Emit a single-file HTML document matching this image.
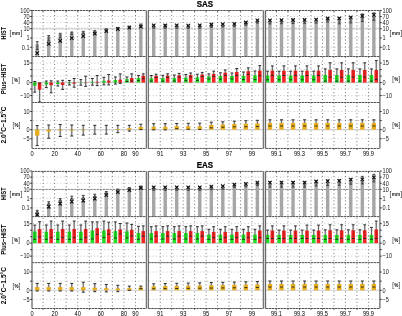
<!DOCTYPE html>
<html><head><meta charset="utf-8"><title>SAS / EAS</title>
<style>
html,body{margin:0;padding:0;background:#fff;}
body{width:402px;height:316px;overflow:hidden;}
svg{display:block;}
</style></head><body>
<svg width="402" height="316" viewBox="0 0 402 316" font-family="&apos;Liberation Sans&apos;, sans-serif">
<rect x="0" y="0" width="402" height="316" fill="#fff"/>
<text transform="translate(205 7.1) scale(0.83 1)" x="0" y="0" font-size="9.6" text-anchor="middle" font-weight="bold" fill="#000" stroke="#000" stroke-width="0.25">SAS</text>
<line x1="33" y1="16.53" x2="145.4" y2="16.53" stroke="#c4c4c4" stroke-width="1" stroke-dasharray="1 2.4"/>
<line x1="33" y1="22.61" x2="145.4" y2="22.61" stroke="#c4c4c4" stroke-width="1" stroke-dasharray="1 2.4"/>
<line x1="33" y1="38" x2="145.4" y2="38" stroke="#c4c4c4" stroke-width="1" stroke-dasharray="1 2.4"/>
<line x1="33" y1="47.3" x2="145.4" y2="47.3" stroke="#c4c4c4" stroke-width="1" stroke-dasharray="1 2.4"/>
<line x1="33" y1="63.05" x2="145.4" y2="63.05" stroke="#c4c4c4" stroke-width="1" stroke-dasharray="1 2.4"/>
<line x1="33" y1="69.55" x2="145.4" y2="69.55" stroke="#c4c4c4" stroke-width="1" stroke-dasharray="1 2.4"/>
<line x1="33" y1="76.05" x2="145.4" y2="76.05" stroke="#c4c4c4" stroke-width="1" stroke-dasharray="1 2.4"/>
<line x1="33" y1="89.05" x2="145.4" y2="89.05" stroke="#c4c4c4" stroke-width="1" stroke-dasharray="1 2.4"/>
<line x1="33" y1="95.55" x2="145.4" y2="95.55" stroke="#c4c4c4" stroke-width="1" stroke-dasharray="1 2.4"/>
<line x1="33" y1="111.45" x2="145.4" y2="111.45" stroke="#c4c4c4" stroke-width="1" stroke-dasharray="1 2.4"/>
<line x1="33" y1="120.55" x2="145.4" y2="120.55" stroke="#c4c4c4" stroke-width="1" stroke-dasharray="1 2.4"/>
<line x1="33" y1="138.75" x2="145.4" y2="138.75" stroke="#c4c4c4" stroke-width="1" stroke-dasharray="1 2.4"/>
<line x1="43.1" y1="11.5" x2="43.1" y2="147.45" stroke="#666" stroke-width="0.9" stroke-dasharray="1 2.5"/>
<line x1="54.65" y1="11.5" x2="54.65" y2="147.45" stroke="#666" stroke-width="0.9" stroke-dasharray="1 2.5"/>
<line x1="66.2" y1="11.5" x2="66.2" y2="147.45" stroke="#666" stroke-width="0.9" stroke-dasharray="1 2.5"/>
<line x1="77.75" y1="11.5" x2="77.75" y2="147.45" stroke="#666" stroke-width="0.9" stroke-dasharray="1 2.5"/>
<line x1="89.3" y1="11.5" x2="89.3" y2="147.45" stroke="#666" stroke-width="0.9" stroke-dasharray="1 2.5"/>
<line x1="100.85" y1="11.5" x2="100.85" y2="147.45" stroke="#666" stroke-width="0.9" stroke-dasharray="1 2.5"/>
<line x1="112.4" y1="11.5" x2="112.4" y2="147.45" stroke="#666" stroke-width="0.9" stroke-dasharray="1 2.5"/>
<line x1="123.95" y1="11.5" x2="123.95" y2="147.45" stroke="#666" stroke-width="0.9" stroke-dasharray="1 2.5"/>
<line x1="135.5" y1="11.5" x2="135.5" y2="147.45" stroke="#666" stroke-width="0.9" stroke-dasharray="1 2.5"/>
<line x1="32.5" y1="28.6" x2="145.9" y2="28.6" stroke="#cdcdcd" stroke-width="1.6" stroke-dasharray="2.6 0.6"/>
<line x1="32.5" y1="82.55" x2="145.9" y2="82.55" stroke="#cfcfcf" stroke-width="1.2"/>
<line x1="32.5" y1="129.65" x2="145.9" y2="129.65" stroke="#cfcfcf" stroke-width="1.2"/>
<line x1="149.3" y1="16.53" x2="262.4" y2="16.53" stroke="#c4c4c4" stroke-width="1" stroke-dasharray="1 2.4"/>
<line x1="149.3" y1="22.61" x2="262.4" y2="22.61" stroke="#c4c4c4" stroke-width="1" stroke-dasharray="1 2.4"/>
<line x1="149.3" y1="38" x2="262.4" y2="38" stroke="#c4c4c4" stroke-width="1" stroke-dasharray="1 2.4"/>
<line x1="149.3" y1="47.3" x2="262.4" y2="47.3" stroke="#c4c4c4" stroke-width="1" stroke-dasharray="1 2.4"/>
<line x1="149.3" y1="63.05" x2="262.4" y2="63.05" stroke="#c4c4c4" stroke-width="1" stroke-dasharray="1 2.4"/>
<line x1="149.3" y1="69.55" x2="262.4" y2="69.55" stroke="#c4c4c4" stroke-width="1" stroke-dasharray="1 2.4"/>
<line x1="149.3" y1="76.05" x2="262.4" y2="76.05" stroke="#c4c4c4" stroke-width="1" stroke-dasharray="1 2.4"/>
<line x1="149.3" y1="89.05" x2="262.4" y2="89.05" stroke="#c4c4c4" stroke-width="1" stroke-dasharray="1 2.4"/>
<line x1="149.3" y1="95.55" x2="262.4" y2="95.55" stroke="#c4c4c4" stroke-width="1" stroke-dasharray="1 2.4"/>
<line x1="149.3" y1="111.45" x2="262.4" y2="111.45" stroke="#c4c4c4" stroke-width="1" stroke-dasharray="1 2.4"/>
<line x1="149.3" y1="120.55" x2="262.4" y2="120.55" stroke="#c4c4c4" stroke-width="1" stroke-dasharray="1 2.4"/>
<line x1="149.3" y1="138.75" x2="262.4" y2="138.75" stroke="#c4c4c4" stroke-width="1" stroke-dasharray="1 2.4"/>
<line x1="160.25" y1="11.5" x2="160.25" y2="147.45" stroke="#666" stroke-width="0.9" stroke-dasharray="1 2.5"/>
<line x1="171.71" y1="11.5" x2="171.71" y2="147.45" stroke="#666" stroke-width="0.9" stroke-dasharray="1 2.5"/>
<line x1="183.17" y1="11.5" x2="183.17" y2="147.45" stroke="#666" stroke-width="0.9" stroke-dasharray="1 2.5"/>
<line x1="194.63" y1="11.5" x2="194.63" y2="147.45" stroke="#666" stroke-width="0.9" stroke-dasharray="1 2.5"/>
<line x1="206.09" y1="11.5" x2="206.09" y2="147.45" stroke="#666" stroke-width="0.9" stroke-dasharray="1 2.5"/>
<line x1="217.55" y1="11.5" x2="217.55" y2="147.45" stroke="#666" stroke-width="0.9" stroke-dasharray="1 2.5"/>
<line x1="229.01" y1="11.5" x2="229.01" y2="147.45" stroke="#666" stroke-width="0.9" stroke-dasharray="1 2.5"/>
<line x1="240.47" y1="11.5" x2="240.47" y2="147.45" stroke="#666" stroke-width="0.9" stroke-dasharray="1 2.5"/>
<line x1="251.93" y1="11.5" x2="251.93" y2="147.45" stroke="#666" stroke-width="0.9" stroke-dasharray="1 2.5"/>
<line x1="148.8" y1="28.6" x2="262.9" y2="28.6" stroke="#cdcdcd" stroke-width="1.6" stroke-dasharray="2.6 0.6"/>
<line x1="148.8" y1="82.55" x2="262.9" y2="82.55" stroke="#cfcfcf" stroke-width="1.2"/>
<line x1="148.8" y1="129.65" x2="262.9" y2="129.65" stroke="#cfcfcf" stroke-width="1.2"/>
<line x1="266.5" y1="16.53" x2="378.9" y2="16.53" stroke="#c4c4c4" stroke-width="1" stroke-dasharray="1 2.4"/>
<line x1="266.5" y1="22.61" x2="378.9" y2="22.61" stroke="#c4c4c4" stroke-width="1" stroke-dasharray="1 2.4"/>
<line x1="266.5" y1="38" x2="378.9" y2="38" stroke="#c4c4c4" stroke-width="1" stroke-dasharray="1 2.4"/>
<line x1="266.5" y1="47.3" x2="378.9" y2="47.3" stroke="#c4c4c4" stroke-width="1" stroke-dasharray="1 2.4"/>
<line x1="266.5" y1="63.05" x2="378.9" y2="63.05" stroke="#c4c4c4" stroke-width="1" stroke-dasharray="1 2.4"/>
<line x1="266.5" y1="69.55" x2="378.9" y2="69.55" stroke="#c4c4c4" stroke-width="1" stroke-dasharray="1 2.4"/>
<line x1="266.5" y1="76.05" x2="378.9" y2="76.05" stroke="#c4c4c4" stroke-width="1" stroke-dasharray="1 2.4"/>
<line x1="266.5" y1="89.05" x2="378.9" y2="89.05" stroke="#c4c4c4" stroke-width="1" stroke-dasharray="1 2.4"/>
<line x1="266.5" y1="95.55" x2="378.9" y2="95.55" stroke="#c4c4c4" stroke-width="1" stroke-dasharray="1 2.4"/>
<line x1="266.5" y1="111.45" x2="378.9" y2="111.45" stroke="#c4c4c4" stroke-width="1" stroke-dasharray="1 2.4"/>
<line x1="266.5" y1="120.55" x2="378.9" y2="120.55" stroke="#c4c4c4" stroke-width="1" stroke-dasharray="1 2.4"/>
<line x1="266.5" y1="138.75" x2="378.9" y2="138.75" stroke="#c4c4c4" stroke-width="1" stroke-dasharray="1 2.4"/>
<line x1="276.45" y1="11.5" x2="276.45" y2="147.45" stroke="#666" stroke-width="0.9" stroke-dasharray="1 2.5"/>
<line x1="287.95" y1="11.5" x2="287.95" y2="147.45" stroke="#666" stroke-width="0.9" stroke-dasharray="1 2.5"/>
<line x1="299.45" y1="11.5" x2="299.45" y2="147.45" stroke="#666" stroke-width="0.9" stroke-dasharray="1 2.5"/>
<line x1="310.95" y1="11.5" x2="310.95" y2="147.45" stroke="#666" stroke-width="0.9" stroke-dasharray="1 2.5"/>
<line x1="322.45" y1="11.5" x2="322.45" y2="147.45" stroke="#666" stroke-width="0.9" stroke-dasharray="1 2.5"/>
<line x1="333.95" y1="11.5" x2="333.95" y2="147.45" stroke="#666" stroke-width="0.9" stroke-dasharray="1 2.5"/>
<line x1="345.45" y1="11.5" x2="345.45" y2="147.45" stroke="#666" stroke-width="0.9" stroke-dasharray="1 2.5"/>
<line x1="356.95" y1="11.5" x2="356.95" y2="147.45" stroke="#666" stroke-width="0.9" stroke-dasharray="1 2.5"/>
<line x1="368.45" y1="11.5" x2="368.45" y2="147.45" stroke="#666" stroke-width="0.9" stroke-dasharray="1 2.5"/>
<line x1="266" y1="28.6" x2="379.4" y2="28.6" stroke="#cdcdcd" stroke-width="1.6" stroke-dasharray="2.6 0.6"/>
<line x1="266" y1="82.55" x2="379.4" y2="82.55" stroke="#cfcfcf" stroke-width="1.2"/>
<line x1="266" y1="129.65" x2="379.4" y2="129.65" stroke="#cfcfcf" stroke-width="1.2"/>
<rect x="35.5" y="44.5" width="3.4" height="12" fill="#a6a6a6"/>
<line x1="37.2" y1="41.7" x2="37.2" y2="49.5" stroke="rgba(0,0,0,0.15)" stroke-width="2.2"/>
<line x1="37.2" y1="41.7" x2="37.2" y2="49.5" stroke="#444" stroke-width="0.9"/>
<line x1="35.8" y1="41.7" x2="38.6" y2="41.7" stroke="#444" stroke-width="1"/>
<line x1="35.8" y1="49.5" x2="38.6" y2="49.5" stroke="#444" stroke-width="1"/>
<line x1="35.45" y1="51.35" x2="38.95" y2="54.85" stroke="#111" stroke-width="1.1"/>
<line x1="35.45" y1="54.85" x2="38.95" y2="51.35" stroke="#111" stroke-width="1.1"/>
<line x1="34.8" y1="81.5" x2="34.8" y2="92.2" stroke="rgba(0,0,0,0.12)" stroke-width="2.2"/>
<line x1="34.8" y1="81.5" x2="34.8" y2="92.2" stroke="#6a6a6a" stroke-width="0.8"/>
<line x1="39.6" y1="83" x2="39.6" y2="102" stroke="rgba(0,0,0,0.12)" stroke-width="2.2"/>
<line x1="39.6" y1="83" x2="39.6" y2="102" stroke="#6a6a6a" stroke-width="0.8"/>
<rect x="33" y="82.55" width="3.6" height="3.05" fill="#22dd22"/>
<rect x="37.8" y="82.55" width="3.6" height="7.15" fill="#f42424"/>
<line x1="34.8" y1="81.5" x2="34.8" y2="92.2" stroke="rgba(0,0,0,0.35)" stroke-width="0.7"/>
<line x1="33.4" y1="81.5" x2="36.2" y2="81.5" stroke="#2a2a2a" stroke-width="1"/>
<line x1="33.4" y1="92.2" x2="36.2" y2="92.2" stroke="#2a2a2a" stroke-width="1"/>
<line x1="39.6" y1="83" x2="39.6" y2="102" stroke="rgba(0,0,0,0.35)" stroke-width="0.7"/>
<line x1="38.2" y1="83" x2="41" y2="83" stroke="#2a2a2a" stroke-width="1"/>
<line x1="38.2" y1="102" x2="41" y2="102" stroke="#2a2a2a" stroke-width="1"/>
<line x1="37.2" y1="125.6" x2="37.2" y2="145.6" stroke="rgba(0,0,0,0.16)" stroke-width="2.2"/>
<line x1="37.2" y1="125.6" x2="37.2" y2="145.6" stroke="#4a4a4a" stroke-width="0.8"/>
<rect x="35" y="129.65" width="4.4" height="5.95" fill="#e6ad1c"/>
<line x1="35.7" y1="125.6" x2="38.7" y2="125.6" stroke="#2a2a2a" stroke-width="1"/>
<line x1="35.7" y1="145.6" x2="38.7" y2="145.6" stroke="#2a2a2a" stroke-width="1"/>
<rect x="47.02" y="36.6" width="3.4" height="19.9" fill="#a6a6a6"/>
<line x1="48.72" y1="35.6" x2="48.72" y2="41" stroke="rgba(0,0,0,0.15)" stroke-width="2.2"/>
<line x1="48.72" y1="35.6" x2="48.72" y2="41" stroke="#444" stroke-width="0.9"/>
<line x1="47.32" y1="35.6" x2="50.12" y2="35.6" stroke="#444" stroke-width="1"/>
<line x1="47.32" y1="41" x2="50.12" y2="41" stroke="#444" stroke-width="1"/>
<line x1="46.97" y1="42.05" x2="50.47" y2="45.55" stroke="#111" stroke-width="1.1"/>
<line x1="46.97" y1="45.55" x2="50.47" y2="42.05" stroke="#111" stroke-width="1.1"/>
<line x1="46.32" y1="81" x2="46.32" y2="87.6" stroke="rgba(0,0,0,0.12)" stroke-width="2.2"/>
<line x1="46.32" y1="81" x2="46.32" y2="87.6" stroke="#6a6a6a" stroke-width="0.8"/>
<line x1="51.12" y1="80.8" x2="51.12" y2="92.8" stroke="rgba(0,0,0,0.12)" stroke-width="2.2"/>
<line x1="51.12" y1="80.8" x2="51.12" y2="92.8" stroke="#6a6a6a" stroke-width="0.8"/>
<rect x="44.52" y="82.55" width="3.6" height="1.95" fill="#22dd22"/>
<rect x="49.32" y="82.55" width="3.6" height="2.65" fill="#f42424"/>
<line x1="46.32" y1="81" x2="46.32" y2="87.6" stroke="rgba(0,0,0,0.35)" stroke-width="0.7"/>
<line x1="44.92" y1="81" x2="47.72" y2="81" stroke="#2a2a2a" stroke-width="1"/>
<line x1="44.92" y1="87.6" x2="47.72" y2="87.6" stroke="#2a2a2a" stroke-width="1"/>
<line x1="51.12" y1="80.8" x2="51.12" y2="92.8" stroke="rgba(0,0,0,0.35)" stroke-width="0.7"/>
<line x1="49.72" y1="80.8" x2="52.52" y2="80.8" stroke="#2a2a2a" stroke-width="1"/>
<line x1="49.72" y1="92.8" x2="52.52" y2="92.8" stroke="#2a2a2a" stroke-width="1"/>
<line x1="48.72" y1="125" x2="48.72" y2="138.2" stroke="rgba(0,0,0,0.16)" stroke-width="2.2"/>
<line x1="48.72" y1="125" x2="48.72" y2="138.2" stroke="#4a4a4a" stroke-width="0.8"/>
<rect x="46.52" y="129.65" width="4.4" height="1.95" fill="#e6ad1c"/>
<line x1="47.22" y1="125" x2="50.22" y2="125" stroke="#2a2a2a" stroke-width="1"/>
<line x1="47.22" y1="138.2" x2="50.22" y2="138.2" stroke="#2a2a2a" stroke-width="1"/>
<rect x="58.53" y="34" width="3.4" height="22.5" fill="#a6a6a6"/>
<line x1="60.23" y1="33.3" x2="60.23" y2="38" stroke="rgba(0,0,0,0.15)" stroke-width="2.2"/>
<line x1="60.23" y1="33.3" x2="60.23" y2="38" stroke="#444" stroke-width="0.9"/>
<line x1="58.83" y1="33.3" x2="61.63" y2="33.3" stroke="#444" stroke-width="1"/>
<line x1="58.83" y1="38" x2="61.63" y2="38" stroke="#444" stroke-width="1"/>
<line x1="58.48" y1="39.15" x2="61.98" y2="42.65" stroke="#111" stroke-width="1.1"/>
<line x1="58.48" y1="42.65" x2="61.98" y2="39.15" stroke="#111" stroke-width="1.1"/>
<line x1="57.83" y1="81" x2="57.83" y2="86" stroke="rgba(0,0,0,0.12)" stroke-width="2.2"/>
<line x1="57.83" y1="81" x2="57.83" y2="86" stroke="#6a6a6a" stroke-width="0.8"/>
<line x1="62.63" y1="80.3" x2="62.63" y2="89.4" stroke="rgba(0,0,0,0.12)" stroke-width="2.2"/>
<line x1="62.63" y1="80.3" x2="62.63" y2="89.4" stroke="#6a6a6a" stroke-width="0.8"/>
<rect x="56.03" y="82.55" width="3.6" height="1.45" fill="#22dd22"/>
<rect x="60.83" y="82.55" width="3.6" height="2.45" fill="#f42424"/>
<line x1="57.83" y1="81" x2="57.83" y2="86" stroke="rgba(0,0,0,0.35)" stroke-width="0.7"/>
<line x1="56.43" y1="81" x2="59.23" y2="81" stroke="#2a2a2a" stroke-width="1"/>
<line x1="56.43" y1="86" x2="59.23" y2="86" stroke="#2a2a2a" stroke-width="1"/>
<line x1="62.63" y1="80.3" x2="62.63" y2="89.4" stroke="rgba(0,0,0,0.35)" stroke-width="0.7"/>
<line x1="61.23" y1="80.3" x2="64.03" y2="80.3" stroke="#2a2a2a" stroke-width="1"/>
<line x1="61.23" y1="89.4" x2="64.03" y2="89.4" stroke="#2a2a2a" stroke-width="1"/>
<line x1="60.23" y1="124.5" x2="60.23" y2="136.5" stroke="rgba(0,0,0,0.16)" stroke-width="2.2"/>
<line x1="60.23" y1="124.5" x2="60.23" y2="136.5" stroke="#4a4a4a" stroke-width="0.8"/>
<rect x="58.03" y="129.65" width="4.4" height="0.85" fill="#e6ad1c"/>
<line x1="58.73" y1="124.5" x2="61.73" y2="124.5" stroke="#2a2a2a" stroke-width="1"/>
<line x1="58.73" y1="136.5" x2="61.73" y2="136.5" stroke="#2a2a2a" stroke-width="1"/>
<rect x="70.05" y="32.1" width="3.4" height="24.4" fill="#a6a6a6"/>
<line x1="71.75" y1="32" x2="71.75" y2="34.5" stroke="rgba(0,0,0,0.15)" stroke-width="2.2"/>
<line x1="71.75" y1="32" x2="71.75" y2="34.5" stroke="#444" stroke-width="0.9"/>
<line x1="70.35" y1="32" x2="73.15" y2="32" stroke="#444" stroke-width="1"/>
<line x1="70.35" y1="34.5" x2="73.15" y2="34.5" stroke="#444" stroke-width="1"/>
<line x1="70" y1="36.35" x2="73.5" y2="39.85" stroke="#111" stroke-width="1.1"/>
<line x1="70" y1="39.85" x2="73.5" y2="36.35" stroke="#111" stroke-width="1.1"/>
<line x1="69.35" y1="80.5" x2="69.35" y2="85" stroke="rgba(0,0,0,0.12)" stroke-width="2.2"/>
<line x1="69.35" y1="80.5" x2="69.35" y2="85" stroke="#6a6a6a" stroke-width="0.8"/>
<line x1="74.15" y1="78.5" x2="74.15" y2="87.2" stroke="rgba(0,0,0,0.12)" stroke-width="2.2"/>
<line x1="74.15" y1="78.5" x2="74.15" y2="87.2" stroke="#6a6a6a" stroke-width="0.8"/>
<rect x="67.55" y="82.55" width="3.6" height="0.65" fill="#22dd22"/>
<rect x="72.35" y="82.55" width="3.6" height="1.05" fill="#f42424"/>
<line x1="69.35" y1="80.5" x2="69.35" y2="85" stroke="rgba(0,0,0,0.35)" stroke-width="0.7"/>
<line x1="67.95" y1="80.5" x2="70.75" y2="80.5" stroke="#2a2a2a" stroke-width="1"/>
<line x1="67.95" y1="85" x2="70.75" y2="85" stroke="#2a2a2a" stroke-width="1"/>
<line x1="74.15" y1="78.5" x2="74.15" y2="87.2" stroke="rgba(0,0,0,0.35)" stroke-width="0.7"/>
<line x1="72.75" y1="78.5" x2="75.55" y2="78.5" stroke="#2a2a2a" stroke-width="1"/>
<line x1="72.75" y1="87.2" x2="75.55" y2="87.2" stroke="#2a2a2a" stroke-width="1"/>
<line x1="71.75" y1="125" x2="71.75" y2="136" stroke="rgba(0,0,0,0.16)" stroke-width="2.2"/>
<line x1="71.75" y1="125" x2="71.75" y2="136" stroke="#4a4a4a" stroke-width="0.8"/>
<rect x="69.55" y="129.65" width="4.4" height="0.85" fill="#e6ad1c"/>
<line x1="70.25" y1="125" x2="73.25" y2="125" stroke="#2a2a2a" stroke-width="1"/>
<line x1="70.25" y1="136" x2="73.25" y2="136" stroke="#2a2a2a" stroke-width="1"/>
<rect x="81.56" y="31.4" width="3.4" height="25.1" fill="#a6a6a6"/>
<line x1="83.26" y1="31.3" x2="83.26" y2="33.5" stroke="rgba(0,0,0,0.15)" stroke-width="2.2"/>
<line x1="83.26" y1="31.3" x2="83.26" y2="33.5" stroke="#444" stroke-width="0.9"/>
<line x1="81.86" y1="31.3" x2="84.66" y2="31.3" stroke="#444" stroke-width="1"/>
<line x1="81.86" y1="33.5" x2="84.66" y2="33.5" stroke="#444" stroke-width="1"/>
<line x1="81.51" y1="34.45" x2="85.01" y2="37.95" stroke="#111" stroke-width="1.1"/>
<line x1="81.51" y1="37.95" x2="85.01" y2="34.45" stroke="#111" stroke-width="1.1"/>
<line x1="80.86" y1="79.6" x2="80.86" y2="85.2" stroke="rgba(0,0,0,0.12)" stroke-width="2.2"/>
<line x1="80.86" y1="79.6" x2="80.86" y2="85.2" stroke="#6a6a6a" stroke-width="0.8"/>
<line x1="85.66" y1="76.2" x2="85.66" y2="86.4" stroke="rgba(0,0,0,0.12)" stroke-width="2.2"/>
<line x1="85.66" y1="76.2" x2="85.66" y2="86.4" stroke="#6a6a6a" stroke-width="0.8"/>
<rect x="79.06" y="82.2" width="3.6" height="0.35" fill="#22dd22"/>
<rect x="83.86" y="82.55" width="3.6" height="0.25" fill="#f42424"/>
<line x1="80.86" y1="79.6" x2="80.86" y2="85.2" stroke="rgba(0,0,0,0.35)" stroke-width="0.7"/>
<line x1="79.46" y1="79.6" x2="82.26" y2="79.6" stroke="#2a2a2a" stroke-width="1"/>
<line x1="79.46" y1="85.2" x2="82.26" y2="85.2" stroke="#2a2a2a" stroke-width="1"/>
<line x1="85.66" y1="76.2" x2="85.66" y2="86.4" stroke="rgba(0,0,0,0.35)" stroke-width="0.7"/>
<line x1="84.26" y1="76.2" x2="87.06" y2="76.2" stroke="#2a2a2a" stroke-width="1"/>
<line x1="84.26" y1="86.4" x2="87.06" y2="86.4" stroke="#2a2a2a" stroke-width="1"/>
<line x1="83.26" y1="125.3" x2="83.26" y2="135.1" stroke="rgba(0,0,0,0.16)" stroke-width="2.2"/>
<line x1="83.26" y1="125.3" x2="83.26" y2="135.1" stroke="#4a4a4a" stroke-width="0.8"/>
<rect x="81.06" y="129.65" width="4.4" height="0.55" fill="#e6ad1c"/>
<line x1="81.76" y1="125.3" x2="84.76" y2="125.3" stroke="#2a2a2a" stroke-width="1"/>
<line x1="81.76" y1="135.1" x2="84.76" y2="135.1" stroke="#2a2a2a" stroke-width="1"/>
<rect x="93.08" y="31" width="3.4" height="25.5" fill="#a6a6a6"/>
<line x1="94.78" y1="30.6" x2="94.78" y2="33" stroke="rgba(0,0,0,0.15)" stroke-width="2.2"/>
<line x1="94.78" y1="30.6" x2="94.78" y2="33" stroke="#444" stroke-width="0.9"/>
<line x1="93.38" y1="30.6" x2="96.18" y2="30.6" stroke="#444" stroke-width="1"/>
<line x1="93.38" y1="33" x2="96.18" y2="33" stroke="#444" stroke-width="1"/>
<line x1="93.03" y1="31.85" x2="96.53" y2="35.35" stroke="#111" stroke-width="1.1"/>
<line x1="93.03" y1="35.35" x2="96.53" y2="31.85" stroke="#111" stroke-width="1.1"/>
<line x1="92.38" y1="78.5" x2="92.38" y2="85.2" stroke="rgba(0,0,0,0.12)" stroke-width="2.2"/>
<line x1="92.38" y1="78.5" x2="92.38" y2="85.2" stroke="#6a6a6a" stroke-width="0.8"/>
<line x1="97.18" y1="75.5" x2="97.18" y2="85.6" stroke="rgba(0,0,0,0.12)" stroke-width="2.2"/>
<line x1="97.18" y1="75.5" x2="97.18" y2="85.6" stroke="#6a6a6a" stroke-width="0.8"/>
<rect x="90.58" y="81.8" width="3.6" height="0.75" fill="#22dd22"/>
<rect x="95.38" y="81.8" width="3.6" height="0.75" fill="#f42424"/>
<line x1="92.38" y1="78.5" x2="92.38" y2="85.2" stroke="rgba(0,0,0,0.35)" stroke-width="0.7"/>
<line x1="90.98" y1="78.5" x2="93.78" y2="78.5" stroke="#2a2a2a" stroke-width="1"/>
<line x1="90.98" y1="85.2" x2="93.78" y2="85.2" stroke="#2a2a2a" stroke-width="1"/>
<line x1="97.18" y1="75.5" x2="97.18" y2="85.6" stroke="rgba(0,0,0,0.35)" stroke-width="0.7"/>
<line x1="95.78" y1="75.5" x2="98.58" y2="75.5" stroke="#2a2a2a" stroke-width="1"/>
<line x1="95.78" y1="85.6" x2="98.58" y2="85.6" stroke="#2a2a2a" stroke-width="1"/>
<line x1="94.78" y1="125.3" x2="94.78" y2="134.1" stroke="rgba(0,0,0,0.16)" stroke-width="2.2"/>
<line x1="94.78" y1="125.3" x2="94.78" y2="134.1" stroke="#4a4a4a" stroke-width="0.8"/>
<line x1="93.28" y1="125.3" x2="96.28" y2="125.3" stroke="#2a2a2a" stroke-width="1"/>
<line x1="93.28" y1="134.1" x2="96.28" y2="134.1" stroke="#2a2a2a" stroke-width="1"/>
<rect x="104.6" y="29.2" width="3.4" height="27.3" fill="#a6a6a6"/>
<line x1="106.3" y1="28.8" x2="106.3" y2="31" stroke="rgba(0,0,0,0.15)" stroke-width="2.2"/>
<line x1="106.3" y1="28.8" x2="106.3" y2="31" stroke="#444" stroke-width="0.9"/>
<line x1="104.9" y1="28.8" x2="107.7" y2="28.8" stroke="#444" stroke-width="1"/>
<line x1="104.9" y1="31" x2="107.7" y2="31" stroke="#444" stroke-width="1"/>
<line x1="104.55" y1="29.45" x2="108.05" y2="32.95" stroke="#111" stroke-width="1.1"/>
<line x1="104.55" y1="32.95" x2="108.05" y2="29.45" stroke="#111" stroke-width="1.1"/>
<line x1="103.9" y1="77.3" x2="103.9" y2="84.9" stroke="rgba(0,0,0,0.12)" stroke-width="2.2"/>
<line x1="103.9" y1="77.3" x2="103.9" y2="84.9" stroke="#6a6a6a" stroke-width="0.8"/>
<line x1="108.7" y1="74.5" x2="108.7" y2="84.9" stroke="rgba(0,0,0,0.12)" stroke-width="2.2"/>
<line x1="108.7" y1="74.5" x2="108.7" y2="84.9" stroke="#6a6a6a" stroke-width="0.8"/>
<rect x="102.1" y="80.8" width="3.6" height="1.75" fill="#22dd22"/>
<rect x="106.9" y="80.5" width="3.6" height="2.05" fill="#f42424"/>
<line x1="103.9" y1="77.3" x2="103.9" y2="84.9" stroke="rgba(0,0,0,0.35)" stroke-width="0.7"/>
<line x1="102.5" y1="77.3" x2="105.3" y2="77.3" stroke="#2a2a2a" stroke-width="1"/>
<line x1="102.5" y1="84.9" x2="105.3" y2="84.9" stroke="#2a2a2a" stroke-width="1"/>
<line x1="108.7" y1="74.5" x2="108.7" y2="84.9" stroke="rgba(0,0,0,0.35)" stroke-width="0.7"/>
<line x1="107.3" y1="74.5" x2="110.1" y2="74.5" stroke="#2a2a2a" stroke-width="1"/>
<line x1="107.3" y1="84.9" x2="110.1" y2="84.9" stroke="#2a2a2a" stroke-width="1"/>
<line x1="106.3" y1="125.3" x2="106.3" y2="134.1" stroke="rgba(0,0,0,0.16)" stroke-width="2.2"/>
<line x1="106.3" y1="125.3" x2="106.3" y2="134.1" stroke="#4a4a4a" stroke-width="0.8"/>
<line x1="104.8" y1="125.3" x2="107.8" y2="125.3" stroke="#2a2a2a" stroke-width="1"/>
<line x1="104.8" y1="134.1" x2="107.8" y2="134.1" stroke="#2a2a2a" stroke-width="1"/>
<rect x="116.11" y="27.8" width="3.4" height="28.7" fill="#a6a6a6"/>
<line x1="117.81" y1="27.4" x2="117.81" y2="29.5" stroke="rgba(0,0,0,0.15)" stroke-width="2.2"/>
<line x1="117.81" y1="27.4" x2="117.81" y2="29.5" stroke="#444" stroke-width="0.9"/>
<line x1="116.41" y1="27.4" x2="119.21" y2="27.4" stroke="#444" stroke-width="1"/>
<line x1="116.41" y1="29.5" x2="119.21" y2="29.5" stroke="#444" stroke-width="1"/>
<line x1="116.06" y1="27.35" x2="119.56" y2="30.85" stroke="#111" stroke-width="1.1"/>
<line x1="116.06" y1="30.85" x2="119.56" y2="27.35" stroke="#111" stroke-width="1.1"/>
<line x1="115.41" y1="77" x2="115.41" y2="84.1" stroke="rgba(0,0,0,0.12)" stroke-width="2.2"/>
<line x1="115.41" y1="77" x2="115.41" y2="84.1" stroke="#6a6a6a" stroke-width="0.8"/>
<line x1="120.21" y1="73.9" x2="120.21" y2="83.4" stroke="rgba(0,0,0,0.12)" stroke-width="2.2"/>
<line x1="120.21" y1="73.9" x2="120.21" y2="83.4" stroke="#6a6a6a" stroke-width="0.8"/>
<rect x="113.61" y="80" width="3.6" height="2.55" fill="#22dd22"/>
<rect x="118.41" y="79.6" width="3.6" height="2.95" fill="#f42424"/>
<line x1="115.41" y1="77" x2="115.41" y2="84.1" stroke="rgba(0,0,0,0.35)" stroke-width="0.7"/>
<line x1="114.01" y1="77" x2="116.81" y2="77" stroke="#2a2a2a" stroke-width="1"/>
<line x1="114.01" y1="84.1" x2="116.81" y2="84.1" stroke="#2a2a2a" stroke-width="1"/>
<line x1="120.21" y1="73.9" x2="120.21" y2="83.4" stroke="rgba(0,0,0,0.35)" stroke-width="0.7"/>
<line x1="118.81" y1="73.9" x2="121.61" y2="73.9" stroke="#2a2a2a" stroke-width="1"/>
<line x1="118.81" y1="83.4" x2="121.61" y2="83.4" stroke="#2a2a2a" stroke-width="1"/>
<line x1="117.81" y1="125.3" x2="117.81" y2="132.7" stroke="rgba(0,0,0,0.16)" stroke-width="2.2"/>
<line x1="117.81" y1="125.3" x2="117.81" y2="132.7" stroke="#4a4a4a" stroke-width="0.8"/>
<rect x="115.61" y="129" width="4.4" height="0.65" fill="#e6ad1c"/>
<line x1="116.31" y1="125.3" x2="119.31" y2="125.3" stroke="#2a2a2a" stroke-width="1"/>
<line x1="116.31" y1="132.7" x2="119.31" y2="132.7" stroke="#2a2a2a" stroke-width="1"/>
<rect x="127.63" y="26.6" width="3.4" height="29.9" fill="#a6a6a6"/>
<line x1="129.33" y1="26.2" x2="129.33" y2="28" stroke="rgba(0,0,0,0.15)" stroke-width="2.2"/>
<line x1="129.33" y1="26.2" x2="129.33" y2="28" stroke="#444" stroke-width="0.9"/>
<line x1="127.93" y1="26.2" x2="130.73" y2="26.2" stroke="#444" stroke-width="1"/>
<line x1="127.93" y1="28" x2="130.73" y2="28" stroke="#444" stroke-width="1"/>
<line x1="127.58" y1="25.95" x2="131.08" y2="29.45" stroke="#111" stroke-width="1.1"/>
<line x1="127.58" y1="29.45" x2="131.08" y2="25.95" stroke="#111" stroke-width="1.1"/>
<line x1="126.93" y1="77" x2="126.93" y2="81.5" stroke="rgba(0,0,0,0.12)" stroke-width="2.2"/>
<line x1="126.93" y1="77" x2="126.93" y2="81.5" stroke="#6a6a6a" stroke-width="0.8"/>
<line x1="131.73" y1="73.9" x2="131.73" y2="81" stroke="rgba(0,0,0,0.12)" stroke-width="2.2"/>
<line x1="131.73" y1="73.9" x2="131.73" y2="81" stroke="#6a6a6a" stroke-width="0.8"/>
<rect x="125.13" y="79.1" width="3.6" height="3.45" fill="#22dd22"/>
<rect x="129.93" y="78" width="3.6" height="4.55" fill="#f42424"/>
<line x1="126.93" y1="77" x2="126.93" y2="81.5" stroke="rgba(0,0,0,0.35)" stroke-width="0.7"/>
<line x1="125.53" y1="77" x2="128.33" y2="77" stroke="#2a2a2a" stroke-width="1"/>
<line x1="125.53" y1="81.5" x2="128.33" y2="81.5" stroke="#2a2a2a" stroke-width="1"/>
<line x1="131.73" y1="73.9" x2="131.73" y2="81" stroke="rgba(0,0,0,0.35)" stroke-width="0.7"/>
<line x1="130.33" y1="73.9" x2="133.13" y2="73.9" stroke="#2a2a2a" stroke-width="1"/>
<line x1="130.33" y1="81" x2="133.13" y2="81" stroke="#2a2a2a" stroke-width="1"/>
<line x1="129.33" y1="125.3" x2="129.33" y2="131.1" stroke="rgba(0,0,0,0.16)" stroke-width="2.2"/>
<line x1="129.33" y1="125.3" x2="129.33" y2="131.1" stroke="#4a4a4a" stroke-width="0.8"/>
<rect x="127.13" y="128.2" width="4.4" height="1.45" fill="#e6ad1c"/>
<line x1="127.83" y1="125.3" x2="130.83" y2="125.3" stroke="#2a2a2a" stroke-width="1"/>
<line x1="127.83" y1="131.1" x2="130.83" y2="131.1" stroke="#2a2a2a" stroke-width="1"/>
<rect x="139.14" y="24.4" width="3.4" height="32.1" fill="#a6a6a6"/>
<line x1="140.84" y1="24" x2="140.84" y2="26" stroke="rgba(0,0,0,0.15)" stroke-width="2.2"/>
<line x1="140.84" y1="24" x2="140.84" y2="26" stroke="#444" stroke-width="0.9"/>
<line x1="139.44" y1="24" x2="142.24" y2="24" stroke="#444" stroke-width="1"/>
<line x1="139.44" y1="26" x2="142.24" y2="26" stroke="#444" stroke-width="1"/>
<line x1="139.09" y1="24.85" x2="142.59" y2="28.35" stroke="#111" stroke-width="1.1"/>
<line x1="139.09" y1="28.35" x2="142.59" y2="24.85" stroke="#111" stroke-width="1.1"/>
<line x1="138.44" y1="75.5" x2="138.44" y2="80.6" stroke="rgba(0,0,0,0.12)" stroke-width="2.2"/>
<line x1="138.44" y1="75.5" x2="138.44" y2="80.6" stroke="#6a6a6a" stroke-width="0.8"/>
<line x1="143.24" y1="73.9" x2="143.24" y2="78.8" stroke="rgba(0,0,0,0.12)" stroke-width="2.2"/>
<line x1="143.24" y1="73.9" x2="143.24" y2="78.8" stroke="#6a6a6a" stroke-width="0.8"/>
<rect x="136.64" y="78" width="3.6" height="4.55" fill="#22dd22"/>
<rect x="141.44" y="75.8" width="3.6" height="6.75" fill="#f42424"/>
<line x1="138.44" y1="75.5" x2="138.44" y2="80.6" stroke="rgba(0,0,0,0.35)" stroke-width="0.7"/>
<line x1="137.04" y1="75.5" x2="139.84" y2="75.5" stroke="#2a2a2a" stroke-width="1"/>
<line x1="137.04" y1="80.6" x2="139.84" y2="80.6" stroke="#2a2a2a" stroke-width="1"/>
<line x1="143.24" y1="73.9" x2="143.24" y2="78.8" stroke="rgba(0,0,0,0.35)" stroke-width="0.7"/>
<line x1="141.84" y1="73.9" x2="144.64" y2="73.9" stroke="#2a2a2a" stroke-width="1"/>
<line x1="141.84" y1="78.8" x2="144.64" y2="78.8" stroke="#2a2a2a" stroke-width="1"/>
<line x1="140.84" y1="124.2" x2="140.84" y2="129.6" stroke="rgba(0,0,0,0.16)" stroke-width="2.2"/>
<line x1="140.84" y1="124.2" x2="140.84" y2="129.6" stroke="#4a4a4a" stroke-width="0.8"/>
<rect x="138.64" y="126.9" width="4.4" height="2.75" fill="#e6ad1c"/>
<line x1="139.34" y1="124.2" x2="142.34" y2="124.2" stroke="#2a2a2a" stroke-width="1"/>
<line x1="139.34" y1="129.6" x2="142.34" y2="129.6" stroke="#2a2a2a" stroke-width="1"/>
<rect x="152" y="27" width="3.4" height="29.5" fill="#a6a6a6"/>
<line x1="153.7" y1="25.1" x2="153.7" y2="28.2" stroke="rgba(0,0,0,0.15)" stroke-width="2.2"/>
<line x1="153.7" y1="25.1" x2="153.7" y2="28.2" stroke="#444" stroke-width="0.9"/>
<line x1="152.3" y1="25.1" x2="155.1" y2="25.1" stroke="#444" stroke-width="1"/>
<line x1="152.3" y1="28.2" x2="155.1" y2="28.2" stroke="#444" stroke-width="1"/>
<line x1="151.95" y1="23.65" x2="155.45" y2="27.15" stroke="#111" stroke-width="1.1"/>
<line x1="151.95" y1="27.15" x2="155.45" y2="23.65" stroke="#111" stroke-width="1.1"/>
<line x1="151.3" y1="75.5" x2="151.3" y2="81.1" stroke="rgba(0,0,0,0.12)" stroke-width="2.2"/>
<line x1="151.3" y1="75.5" x2="151.3" y2="81.1" stroke="#6a6a6a" stroke-width="0.8"/>
<line x1="156.1" y1="74.2" x2="156.1" y2="77.4" stroke="rgba(0,0,0,0.12)" stroke-width="2.2"/>
<line x1="156.1" y1="74.2" x2="156.1" y2="77.4" stroke="#6a6a6a" stroke-width="0.8"/>
<rect x="149.5" y="78.3" width="3.6" height="4.25" fill="#22dd22"/>
<rect x="154.3" y="75.8" width="3.6" height="6.75" fill="#f42424"/>
<line x1="151.3" y1="75.5" x2="151.3" y2="81.1" stroke="rgba(0,0,0,0.35)" stroke-width="0.7"/>
<line x1="149.9" y1="75.5" x2="152.7" y2="75.5" stroke="#2a2a2a" stroke-width="1"/>
<line x1="149.9" y1="81.1" x2="152.7" y2="81.1" stroke="#2a2a2a" stroke-width="1"/>
<line x1="156.1" y1="74.2" x2="156.1" y2="77.4" stroke="rgba(0,0,0,0.35)" stroke-width="0.7"/>
<line x1="154.7" y1="74.2" x2="157.5" y2="74.2" stroke="#2a2a2a" stroke-width="1"/>
<line x1="154.7" y1="77.4" x2="157.5" y2="77.4" stroke="#2a2a2a" stroke-width="1"/>
<line x1="153.7" y1="123.7" x2="153.7" y2="129.9" stroke="rgba(0,0,0,0.16)" stroke-width="2.2"/>
<line x1="153.7" y1="123.7" x2="153.7" y2="129.9" stroke="#4a4a4a" stroke-width="0.8"/>
<rect x="151.5" y="126.8" width="4.4" height="2.85" fill="#e6ad1c"/>
<line x1="152.2" y1="123.7" x2="155.2" y2="123.7" stroke="#2a2a2a" stroke-width="1"/>
<line x1="152.2" y1="129.9" x2="155.2" y2="129.9" stroke="#2a2a2a" stroke-width="1"/>
<rect x="163.52" y="27.1" width="3.4" height="29.4" fill="#a6a6a6"/>
<line x1="165.22" y1="25.2" x2="165.22" y2="28.3" stroke="rgba(0,0,0,0.15)" stroke-width="2.2"/>
<line x1="165.22" y1="25.2" x2="165.22" y2="28.3" stroke="#444" stroke-width="0.9"/>
<line x1="163.82" y1="25.2" x2="166.62" y2="25.2" stroke="#444" stroke-width="1"/>
<line x1="163.82" y1="28.3" x2="166.62" y2="28.3" stroke="#444" stroke-width="1"/>
<line x1="163.47" y1="23.75" x2="166.97" y2="27.25" stroke="#111" stroke-width="1.1"/>
<line x1="163.47" y1="27.25" x2="166.97" y2="23.75" stroke="#111" stroke-width="1.1"/>
<line x1="162.82" y1="75.3" x2="162.82" y2="81.1" stroke="rgba(0,0,0,0.12)" stroke-width="2.2"/>
<line x1="162.82" y1="75.3" x2="162.82" y2="81.1" stroke="#6a6a6a" stroke-width="0.8"/>
<line x1="167.62" y1="73.8" x2="167.62" y2="77.4" stroke="rgba(0,0,0,0.12)" stroke-width="2.2"/>
<line x1="167.62" y1="73.8" x2="167.62" y2="77.4" stroke="#6a6a6a" stroke-width="0.8"/>
<rect x="161.02" y="78.2" width="3.6" height="4.35" fill="#22dd22"/>
<rect x="165.82" y="75.6" width="3.6" height="6.95" fill="#f42424"/>
<line x1="162.82" y1="75.3" x2="162.82" y2="81.1" stroke="rgba(0,0,0,0.35)" stroke-width="0.7"/>
<line x1="161.42" y1="75.3" x2="164.22" y2="75.3" stroke="#2a2a2a" stroke-width="1"/>
<line x1="161.42" y1="81.1" x2="164.22" y2="81.1" stroke="#2a2a2a" stroke-width="1"/>
<line x1="167.62" y1="73.8" x2="167.62" y2="77.4" stroke="rgba(0,0,0,0.35)" stroke-width="0.7"/>
<line x1="166.22" y1="73.8" x2="169.02" y2="73.8" stroke="#2a2a2a" stroke-width="1"/>
<line x1="166.22" y1="77.4" x2="169.02" y2="77.4" stroke="#2a2a2a" stroke-width="1"/>
<line x1="165.22" y1="123.7" x2="165.22" y2="129.9" stroke="rgba(0,0,0,0.16)" stroke-width="2.2"/>
<line x1="165.22" y1="123.7" x2="165.22" y2="129.9" stroke="#4a4a4a" stroke-width="0.8"/>
<rect x="163.02" y="126.8" width="4.4" height="2.85" fill="#e6ad1c"/>
<line x1="163.72" y1="123.7" x2="166.72" y2="123.7" stroke="#2a2a2a" stroke-width="1"/>
<line x1="163.72" y1="129.9" x2="166.72" y2="129.9" stroke="#2a2a2a" stroke-width="1"/>
<rect x="175.04" y="27" width="3.4" height="29.5" fill="#a6a6a6"/>
<line x1="176.74" y1="25.1" x2="176.74" y2="28.2" stroke="rgba(0,0,0,0.15)" stroke-width="2.2"/>
<line x1="176.74" y1="25.1" x2="176.74" y2="28.2" stroke="#444" stroke-width="0.9"/>
<line x1="175.34" y1="25.1" x2="178.14" y2="25.1" stroke="#444" stroke-width="1"/>
<line x1="175.34" y1="28.2" x2="178.14" y2="28.2" stroke="#444" stroke-width="1"/>
<line x1="174.99" y1="23.65" x2="178.49" y2="27.15" stroke="#111" stroke-width="1.1"/>
<line x1="174.99" y1="27.15" x2="178.49" y2="23.65" stroke="#111" stroke-width="1.1"/>
<line x1="174.34" y1="75" x2="174.34" y2="81" stroke="rgba(0,0,0,0.12)" stroke-width="2.2"/>
<line x1="174.34" y1="75" x2="174.34" y2="81" stroke="#6a6a6a" stroke-width="0.8"/>
<line x1="179.14" y1="73.4" x2="179.14" y2="77.2" stroke="rgba(0,0,0,0.12)" stroke-width="2.2"/>
<line x1="179.14" y1="73.4" x2="179.14" y2="77.2" stroke="#6a6a6a" stroke-width="0.8"/>
<rect x="172.54" y="78" width="3.6" height="4.55" fill="#22dd22"/>
<rect x="177.34" y="75.3" width="3.6" height="7.25" fill="#f42424"/>
<line x1="174.34" y1="75" x2="174.34" y2="81" stroke="rgba(0,0,0,0.35)" stroke-width="0.7"/>
<line x1="172.94" y1="75" x2="175.74" y2="75" stroke="#2a2a2a" stroke-width="1"/>
<line x1="172.94" y1="81" x2="175.74" y2="81" stroke="#2a2a2a" stroke-width="1"/>
<line x1="179.14" y1="73.4" x2="179.14" y2="77.2" stroke="rgba(0,0,0,0.35)" stroke-width="0.7"/>
<line x1="177.74" y1="73.4" x2="180.54" y2="73.4" stroke="#2a2a2a" stroke-width="1"/>
<line x1="177.74" y1="77.2" x2="180.54" y2="77.2" stroke="#2a2a2a" stroke-width="1"/>
<line x1="176.74" y1="123.5" x2="176.74" y2="128.7" stroke="rgba(0,0,0,0.16)" stroke-width="2.2"/>
<line x1="176.74" y1="123.5" x2="176.74" y2="128.7" stroke="#4a4a4a" stroke-width="0.8"/>
<rect x="174.54" y="126.1" width="4.4" height="3.55" fill="#e6ad1c"/>
<line x1="175.24" y1="123.5" x2="178.24" y2="123.5" stroke="#2a2a2a" stroke-width="1"/>
<line x1="175.24" y1="128.7" x2="178.24" y2="128.7" stroke="#2a2a2a" stroke-width="1"/>
<rect x="186.56" y="27.2" width="3.4" height="29.3" fill="#a6a6a6"/>
<line x1="188.26" y1="25.3" x2="188.26" y2="28.4" stroke="rgba(0,0,0,0.15)" stroke-width="2.2"/>
<line x1="188.26" y1="25.3" x2="188.26" y2="28.4" stroke="#444" stroke-width="0.9"/>
<line x1="186.86" y1="25.3" x2="189.66" y2="25.3" stroke="#444" stroke-width="1"/>
<line x1="186.86" y1="28.4" x2="189.66" y2="28.4" stroke="#444" stroke-width="1"/>
<line x1="186.51" y1="23.85" x2="190.01" y2="27.35" stroke="#111" stroke-width="1.1"/>
<line x1="186.51" y1="27.35" x2="190.01" y2="23.85" stroke="#111" stroke-width="1.1"/>
<line x1="185.86" y1="74.5" x2="185.86" y2="80.7" stroke="rgba(0,0,0,0.12)" stroke-width="2.2"/>
<line x1="185.86" y1="74.5" x2="185.86" y2="80.7" stroke="#6a6a6a" stroke-width="0.8"/>
<line x1="190.66" y1="73" x2="190.66" y2="77" stroke="rgba(0,0,0,0.12)" stroke-width="2.2"/>
<line x1="190.66" y1="73" x2="190.66" y2="77" stroke="#6a6a6a" stroke-width="0.8"/>
<rect x="184.06" y="77.6" width="3.6" height="4.95" fill="#22dd22"/>
<rect x="188.86" y="75" width="3.6" height="7.55" fill="#f42424"/>
<line x1="185.86" y1="74.5" x2="185.86" y2="80.7" stroke="rgba(0,0,0,0.35)" stroke-width="0.7"/>
<line x1="184.46" y1="74.5" x2="187.26" y2="74.5" stroke="#2a2a2a" stroke-width="1"/>
<line x1="184.46" y1="80.7" x2="187.26" y2="80.7" stroke="#2a2a2a" stroke-width="1"/>
<line x1="190.66" y1="73" x2="190.66" y2="77" stroke="rgba(0,0,0,0.35)" stroke-width="0.7"/>
<line x1="189.26" y1="73" x2="192.06" y2="73" stroke="#2a2a2a" stroke-width="1"/>
<line x1="189.26" y1="77" x2="192.06" y2="77" stroke="#2a2a2a" stroke-width="1"/>
<line x1="188.26" y1="123.3" x2="188.26" y2="129.3" stroke="rgba(0,0,0,0.16)" stroke-width="2.2"/>
<line x1="188.26" y1="123.3" x2="188.26" y2="129.3" stroke="#4a4a4a" stroke-width="0.8"/>
<rect x="186.06" y="126.3" width="4.4" height="3.35" fill="#e6ad1c"/>
<line x1="186.76" y1="123.3" x2="189.76" y2="123.3" stroke="#2a2a2a" stroke-width="1"/>
<line x1="186.76" y1="129.3" x2="189.76" y2="129.3" stroke="#2a2a2a" stroke-width="1"/>
<rect x="198.08" y="27" width="3.4" height="29.5" fill="#a6a6a6"/>
<line x1="199.78" y1="25.1" x2="199.78" y2="28.2" stroke="rgba(0,0,0,0.15)" stroke-width="2.2"/>
<line x1="199.78" y1="25.1" x2="199.78" y2="28.2" stroke="#444" stroke-width="0.9"/>
<line x1="198.38" y1="25.1" x2="201.18" y2="25.1" stroke="#444" stroke-width="1"/>
<line x1="198.38" y1="28.2" x2="201.18" y2="28.2" stroke="#444" stroke-width="1"/>
<line x1="198.03" y1="23.65" x2="201.53" y2="27.15" stroke="#111" stroke-width="1.1"/>
<line x1="198.03" y1="27.15" x2="201.53" y2="23.65" stroke="#111" stroke-width="1.1"/>
<line x1="197.38" y1="74.2" x2="197.38" y2="80.4" stroke="rgba(0,0,0,0.12)" stroke-width="2.2"/>
<line x1="197.38" y1="74.2" x2="197.38" y2="80.4" stroke="#6a6a6a" stroke-width="0.8"/>
<line x1="202.18" y1="72.4" x2="202.18" y2="76.6" stroke="rgba(0,0,0,0.12)" stroke-width="2.2"/>
<line x1="202.18" y1="72.4" x2="202.18" y2="76.6" stroke="#6a6a6a" stroke-width="0.8"/>
<rect x="195.58" y="77.3" width="3.6" height="5.25" fill="#22dd22"/>
<rect x="200.38" y="74.5" width="3.6" height="8.05" fill="#f42424"/>
<line x1="197.38" y1="74.2" x2="197.38" y2="80.4" stroke="rgba(0,0,0,0.35)" stroke-width="0.7"/>
<line x1="195.98" y1="74.2" x2="198.78" y2="74.2" stroke="#2a2a2a" stroke-width="1"/>
<line x1="195.98" y1="80.4" x2="198.78" y2="80.4" stroke="#2a2a2a" stroke-width="1"/>
<line x1="202.18" y1="72.4" x2="202.18" y2="76.6" stroke="rgba(0,0,0,0.35)" stroke-width="0.7"/>
<line x1="200.78" y1="72.4" x2="203.58" y2="72.4" stroke="#2a2a2a" stroke-width="1"/>
<line x1="200.78" y1="76.6" x2="203.58" y2="76.6" stroke="#2a2a2a" stroke-width="1"/>
<line x1="199.78" y1="123.2" x2="199.78" y2="129.4" stroke="rgba(0,0,0,0.16)" stroke-width="2.2"/>
<line x1="199.78" y1="123.2" x2="199.78" y2="129.4" stroke="#4a4a4a" stroke-width="0.8"/>
<rect x="197.58" y="126.3" width="4.4" height="3.35" fill="#e6ad1c"/>
<line x1="198.28" y1="123.2" x2="201.28" y2="123.2" stroke="#2a2a2a" stroke-width="1"/>
<line x1="198.28" y1="129.4" x2="201.28" y2="129.4" stroke="#2a2a2a" stroke-width="1"/>
<rect x="209.6" y="26.1" width="3.4" height="30.4" fill="#a6a6a6"/>
<line x1="211.3" y1="24.2" x2="211.3" y2="27.3" stroke="rgba(0,0,0,0.15)" stroke-width="2.2"/>
<line x1="211.3" y1="24.2" x2="211.3" y2="27.3" stroke="#444" stroke-width="0.9"/>
<line x1="209.9" y1="24.2" x2="212.7" y2="24.2" stroke="#444" stroke-width="1"/>
<line x1="209.9" y1="27.3" x2="212.7" y2="27.3" stroke="#444" stroke-width="1"/>
<line x1="209.55" y1="22.75" x2="213.05" y2="26.25" stroke="#111" stroke-width="1.1"/>
<line x1="209.55" y1="26.25" x2="213.05" y2="22.75" stroke="#111" stroke-width="1.1"/>
<line x1="208.9" y1="73.9" x2="208.9" y2="79.1" stroke="rgba(0,0,0,0.12)" stroke-width="2.2"/>
<line x1="208.9" y1="73.9" x2="208.9" y2="79.1" stroke="#6a6a6a" stroke-width="0.8"/>
<line x1="213.7" y1="71.2" x2="213.7" y2="76.6" stroke="rgba(0,0,0,0.12)" stroke-width="2.2"/>
<line x1="213.7" y1="71.2" x2="213.7" y2="76.6" stroke="#6a6a6a" stroke-width="0.8"/>
<rect x="207.1" y="76.5" width="3.6" height="6.05" fill="#22dd22"/>
<rect x="211.9" y="73.9" width="3.6" height="8.65" fill="#f42424"/>
<line x1="208.9" y1="73.9" x2="208.9" y2="79.1" stroke="rgba(0,0,0,0.35)" stroke-width="0.7"/>
<line x1="207.5" y1="73.9" x2="210.3" y2="73.9" stroke="#2a2a2a" stroke-width="1"/>
<line x1="207.5" y1="79.1" x2="210.3" y2="79.1" stroke="#2a2a2a" stroke-width="1"/>
<line x1="213.7" y1="71.2" x2="213.7" y2="76.6" stroke="rgba(0,0,0,0.35)" stroke-width="0.7"/>
<line x1="212.3" y1="71.2" x2="215.1" y2="71.2" stroke="#2a2a2a" stroke-width="1"/>
<line x1="212.3" y1="76.6" x2="215.1" y2="76.6" stroke="#2a2a2a" stroke-width="1"/>
<line x1="211.3" y1="122.2" x2="211.3" y2="127.8" stroke="rgba(0,0,0,0.16)" stroke-width="2.2"/>
<line x1="211.3" y1="122.2" x2="211.3" y2="127.8" stroke="#4a4a4a" stroke-width="0.8"/>
<rect x="209.1" y="125" width="4.4" height="4.65" fill="#e6ad1c"/>
<line x1="209.8" y1="122.2" x2="212.8" y2="122.2" stroke="#2a2a2a" stroke-width="1"/>
<line x1="209.8" y1="127.8" x2="212.8" y2="127.8" stroke="#2a2a2a" stroke-width="1"/>
<rect x="221.12" y="25.8" width="3.4" height="30.7" fill="#a6a6a6"/>
<line x1="222.82" y1="23.9" x2="222.82" y2="27" stroke="rgba(0,0,0,0.15)" stroke-width="2.2"/>
<line x1="222.82" y1="23.9" x2="222.82" y2="27" stroke="#444" stroke-width="0.9"/>
<line x1="221.42" y1="23.9" x2="224.22" y2="23.9" stroke="#444" stroke-width="1"/>
<line x1="221.42" y1="27" x2="224.22" y2="27" stroke="#444" stroke-width="1"/>
<line x1="221.07" y1="22.45" x2="224.57" y2="25.95" stroke="#111" stroke-width="1.1"/>
<line x1="221.07" y1="25.95" x2="224.57" y2="22.45" stroke="#111" stroke-width="1.1"/>
<line x1="220.42" y1="72.8" x2="220.42" y2="79.2" stroke="rgba(0,0,0,0.12)" stroke-width="2.2"/>
<line x1="220.42" y1="72.8" x2="220.42" y2="79.2" stroke="#6a6a6a" stroke-width="0.8"/>
<line x1="225.22" y1="70" x2="225.22" y2="75.4" stroke="rgba(0,0,0,0.12)" stroke-width="2.2"/>
<line x1="225.22" y1="70" x2="225.22" y2="75.4" stroke="#6a6a6a" stroke-width="0.8"/>
<rect x="218.62" y="76" width="3.6" height="6.55" fill="#22dd22"/>
<rect x="223.42" y="72.7" width="3.6" height="9.85" fill="#f42424"/>
<line x1="220.42" y1="72.8" x2="220.42" y2="79.2" stroke="rgba(0,0,0,0.35)" stroke-width="0.7"/>
<line x1="219.02" y1="72.8" x2="221.82" y2="72.8" stroke="#2a2a2a" stroke-width="1"/>
<line x1="219.02" y1="79.2" x2="221.82" y2="79.2" stroke="#2a2a2a" stroke-width="1"/>
<line x1="225.22" y1="70" x2="225.22" y2="75.4" stroke="rgba(0,0,0,0.35)" stroke-width="0.7"/>
<line x1="223.82" y1="70" x2="226.62" y2="70" stroke="#2a2a2a" stroke-width="1"/>
<line x1="223.82" y1="75.4" x2="226.62" y2="75.4" stroke="#2a2a2a" stroke-width="1"/>
<line x1="222.82" y1="121.8" x2="222.82" y2="127.2" stroke="rgba(0,0,0,0.16)" stroke-width="2.2"/>
<line x1="222.82" y1="121.8" x2="222.82" y2="127.2" stroke="#4a4a4a" stroke-width="0.8"/>
<rect x="220.62" y="124.5" width="4.4" height="5.15" fill="#e6ad1c"/>
<line x1="221.32" y1="121.8" x2="224.32" y2="121.8" stroke="#2a2a2a" stroke-width="1"/>
<line x1="221.32" y1="127.2" x2="224.32" y2="127.2" stroke="#2a2a2a" stroke-width="1"/>
<rect x="232.64" y="25.4" width="3.4" height="31.1" fill="#a6a6a6"/>
<line x1="234.34" y1="23.5" x2="234.34" y2="26.6" stroke="rgba(0,0,0,0.15)" stroke-width="2.2"/>
<line x1="234.34" y1="23.5" x2="234.34" y2="26.6" stroke="#444" stroke-width="0.9"/>
<line x1="232.94" y1="23.5" x2="235.74" y2="23.5" stroke="#444" stroke-width="1"/>
<line x1="232.94" y1="26.6" x2="235.74" y2="26.6" stroke="#444" stroke-width="1"/>
<line x1="232.59" y1="22.05" x2="236.09" y2="25.55" stroke="#111" stroke-width="1.1"/>
<line x1="232.59" y1="25.55" x2="236.09" y2="22.05" stroke="#111" stroke-width="1.1"/>
<line x1="231.94" y1="73" x2="231.94" y2="79" stroke="rgba(0,0,0,0.12)" stroke-width="2.2"/>
<line x1="231.94" y1="73" x2="231.94" y2="79" stroke="#6a6a6a" stroke-width="0.8"/>
<line x1="236.74" y1="68.5" x2="236.74" y2="75.5" stroke="rgba(0,0,0,0.12)" stroke-width="2.2"/>
<line x1="236.74" y1="68.5" x2="236.74" y2="75.5" stroke="#6a6a6a" stroke-width="0.8"/>
<rect x="230.14" y="76" width="3.6" height="6.55" fill="#22dd22"/>
<rect x="234.94" y="72" width="3.6" height="10.55" fill="#f42424"/>
<line x1="231.94" y1="73" x2="231.94" y2="79" stroke="rgba(0,0,0,0.35)" stroke-width="0.7"/>
<line x1="230.54" y1="73" x2="233.34" y2="73" stroke="#2a2a2a" stroke-width="1"/>
<line x1="230.54" y1="79" x2="233.34" y2="79" stroke="#2a2a2a" stroke-width="1"/>
<line x1="236.74" y1="68.5" x2="236.74" y2="75.5" stroke="rgba(0,0,0,0.35)" stroke-width="0.7"/>
<line x1="235.34" y1="68.5" x2="238.14" y2="68.5" stroke="#2a2a2a" stroke-width="1"/>
<line x1="235.34" y1="75.5" x2="238.14" y2="75.5" stroke="#2a2a2a" stroke-width="1"/>
<line x1="234.34" y1="121.2" x2="234.34" y2="126.8" stroke="rgba(0,0,0,0.16)" stroke-width="2.2"/>
<line x1="234.34" y1="121.2" x2="234.34" y2="126.8" stroke="#4a4a4a" stroke-width="0.8"/>
<rect x="232.14" y="124" width="4.4" height="5.65" fill="#e6ad1c"/>
<line x1="232.84" y1="121.2" x2="235.84" y2="121.2" stroke="#2a2a2a" stroke-width="1"/>
<line x1="232.84" y1="126.8" x2="235.84" y2="126.8" stroke="#2a2a2a" stroke-width="1"/>
<rect x="244.16" y="24.1" width="3.4" height="32.4" fill="#a6a6a6"/>
<line x1="245.86" y1="22.2" x2="245.86" y2="25.3" stroke="rgba(0,0,0,0.15)" stroke-width="2.2"/>
<line x1="245.86" y1="22.2" x2="245.86" y2="25.3" stroke="#444" stroke-width="0.9"/>
<line x1="244.46" y1="22.2" x2="247.26" y2="22.2" stroke="#444" stroke-width="1"/>
<line x1="244.46" y1="25.3" x2="247.26" y2="25.3" stroke="#444" stroke-width="1"/>
<line x1="244.11" y1="20.75" x2="247.61" y2="24.25" stroke="#111" stroke-width="1.1"/>
<line x1="244.11" y1="24.25" x2="247.61" y2="20.75" stroke="#111" stroke-width="1.1"/>
<line x1="243.46" y1="72" x2="243.46" y2="79.6" stroke="rgba(0,0,0,0.12)" stroke-width="2.2"/>
<line x1="243.46" y1="72" x2="243.46" y2="79.6" stroke="#6a6a6a" stroke-width="0.8"/>
<line x1="248.26" y1="67.9" x2="248.26" y2="74.5" stroke="rgba(0,0,0,0.12)" stroke-width="2.2"/>
<line x1="248.26" y1="67.9" x2="248.26" y2="74.5" stroke="#6a6a6a" stroke-width="0.8"/>
<rect x="241.66" y="75.8" width="3.6" height="6.75" fill="#22dd22"/>
<rect x="246.46" y="71.2" width="3.6" height="11.35" fill="#f42424"/>
<line x1="243.46" y1="72" x2="243.46" y2="79.6" stroke="rgba(0,0,0,0.35)" stroke-width="0.7"/>
<line x1="242.06" y1="72" x2="244.86" y2="72" stroke="#2a2a2a" stroke-width="1"/>
<line x1="242.06" y1="79.6" x2="244.86" y2="79.6" stroke="#2a2a2a" stroke-width="1"/>
<line x1="248.26" y1="67.9" x2="248.26" y2="74.5" stroke="rgba(0,0,0,0.35)" stroke-width="0.7"/>
<line x1="246.86" y1="67.9" x2="249.66" y2="67.9" stroke="#2a2a2a" stroke-width="1"/>
<line x1="246.86" y1="74.5" x2="249.66" y2="74.5" stroke="#2a2a2a" stroke-width="1"/>
<line x1="245.86" y1="120.7" x2="245.86" y2="126.7" stroke="rgba(0,0,0,0.16)" stroke-width="2.2"/>
<line x1="245.86" y1="120.7" x2="245.86" y2="126.7" stroke="#4a4a4a" stroke-width="0.8"/>
<rect x="243.66" y="123.7" width="4.4" height="5.95" fill="#e6ad1c"/>
<line x1="244.36" y1="120.7" x2="247.36" y2="120.7" stroke="#2a2a2a" stroke-width="1"/>
<line x1="244.36" y1="126.7" x2="247.36" y2="126.7" stroke="#2a2a2a" stroke-width="1"/>
<rect x="255.68" y="21.9" width="3.4" height="34.6" fill="#a6a6a6"/>
<line x1="257.38" y1="20" x2="257.38" y2="23.1" stroke="rgba(0,0,0,0.15)" stroke-width="2.2"/>
<line x1="257.38" y1="20" x2="257.38" y2="23.1" stroke="#444" stroke-width="0.9"/>
<line x1="255.98" y1="20" x2="258.78" y2="20" stroke="#444" stroke-width="1"/>
<line x1="255.98" y1="23.1" x2="258.78" y2="23.1" stroke="#444" stroke-width="1"/>
<line x1="255.63" y1="18.55" x2="259.13" y2="22.05" stroke="#111" stroke-width="1.1"/>
<line x1="255.63" y1="22.05" x2="259.13" y2="18.55" stroke="#111" stroke-width="1.1"/>
<line x1="254.98" y1="71" x2="254.98" y2="79.6" stroke="rgba(0,0,0,0.12)" stroke-width="2.2"/>
<line x1="254.98" y1="71" x2="254.98" y2="79.6" stroke="#6a6a6a" stroke-width="0.8"/>
<line x1="259.78" y1="65.6" x2="259.78" y2="75.8" stroke="rgba(0,0,0,0.12)" stroke-width="2.2"/>
<line x1="259.78" y1="65.6" x2="259.78" y2="75.8" stroke="#6a6a6a" stroke-width="0.8"/>
<rect x="253.18" y="75.3" width="3.6" height="7.25" fill="#22dd22"/>
<rect x="257.98" y="70.7" width="3.6" height="11.85" fill="#f42424"/>
<line x1="254.98" y1="71" x2="254.98" y2="79.6" stroke="rgba(0,0,0,0.35)" stroke-width="0.7"/>
<line x1="253.58" y1="71" x2="256.38" y2="71" stroke="#2a2a2a" stroke-width="1"/>
<line x1="253.58" y1="79.6" x2="256.38" y2="79.6" stroke="#2a2a2a" stroke-width="1"/>
<line x1="259.78" y1="65.6" x2="259.78" y2="75.8" stroke="rgba(0,0,0,0.35)" stroke-width="0.7"/>
<line x1="258.38" y1="65.6" x2="261.18" y2="65.6" stroke="#2a2a2a" stroke-width="1"/>
<line x1="258.38" y1="75.8" x2="261.18" y2="75.8" stroke="#2a2a2a" stroke-width="1"/>
<line x1="257.38" y1="120.3" x2="257.38" y2="126.5" stroke="rgba(0,0,0,0.16)" stroke-width="2.2"/>
<line x1="257.38" y1="120.3" x2="257.38" y2="126.5" stroke="#4a4a4a" stroke-width="0.8"/>
<rect x="255.18" y="123.4" width="4.4" height="6.25" fill="#e6ad1c"/>
<line x1="255.88" y1="120.3" x2="258.88" y2="120.3" stroke="#2a2a2a" stroke-width="1"/>
<line x1="255.88" y1="126.5" x2="258.88" y2="126.5" stroke="#2a2a2a" stroke-width="1"/>
<rect x="268.25" y="22.2" width="3.4" height="34.3" fill="#a6a6a6"/>
<line x1="269.95" y1="19.9" x2="269.95" y2="23.9" stroke="rgba(0,0,0,0.15)" stroke-width="2.2"/>
<line x1="269.95" y1="19.9" x2="269.95" y2="23.9" stroke="#444" stroke-width="0.9"/>
<line x1="268.55" y1="19.9" x2="271.35" y2="19.9" stroke="#444" stroke-width="1"/>
<line x1="268.55" y1="23.9" x2="271.35" y2="23.9" stroke="#444" stroke-width="1"/>
<line x1="268.2" y1="18.65" x2="271.7" y2="22.15" stroke="#111" stroke-width="1.1"/>
<line x1="268.2" y1="22.15" x2="271.7" y2="18.65" stroke="#111" stroke-width="1.1"/>
<line x1="267.55" y1="71.2" x2="267.55" y2="79.8" stroke="rgba(0,0,0,0.12)" stroke-width="2.2"/>
<line x1="267.55" y1="71.2" x2="267.55" y2="79.8" stroke="#6a6a6a" stroke-width="0.8"/>
<line x1="272.35" y1="65.9" x2="272.35" y2="75.5" stroke="rgba(0,0,0,0.12)" stroke-width="2.2"/>
<line x1="272.35" y1="65.9" x2="272.35" y2="75.5" stroke="#6a6a6a" stroke-width="0.8"/>
<rect x="265.75" y="75.5" width="3.6" height="7.05" fill="#22dd22"/>
<rect x="270.55" y="70.7" width="3.6" height="11.85" fill="#f42424"/>
<line x1="267.55" y1="71.2" x2="267.55" y2="79.8" stroke="rgba(0,0,0,0.35)" stroke-width="0.7"/>
<line x1="266.15" y1="71.2" x2="268.95" y2="71.2" stroke="#2a2a2a" stroke-width="1"/>
<line x1="266.15" y1="79.8" x2="268.95" y2="79.8" stroke="#2a2a2a" stroke-width="1"/>
<line x1="272.35" y1="65.9" x2="272.35" y2="75.5" stroke="rgba(0,0,0,0.35)" stroke-width="0.7"/>
<line x1="270.95" y1="65.9" x2="273.75" y2="65.9" stroke="#2a2a2a" stroke-width="1"/>
<line x1="270.95" y1="75.5" x2="273.75" y2="75.5" stroke="#2a2a2a" stroke-width="1"/>
<line x1="269.95" y1="119.8" x2="269.95" y2="126" stroke="rgba(0,0,0,0.16)" stroke-width="2.2"/>
<line x1="269.95" y1="119.8" x2="269.95" y2="126" stroke="#4a4a4a" stroke-width="0.8"/>
<rect x="267.75" y="122.9" width="4.4" height="6.75" fill="#e6ad1c"/>
<line x1="268.45" y1="119.8" x2="271.45" y2="119.8" stroke="#2a2a2a" stroke-width="1"/>
<line x1="268.45" y1="126" x2="271.45" y2="126" stroke="#2a2a2a" stroke-width="1"/>
<rect x="279.8" y="22" width="3.4" height="34.5" fill="#a6a6a6"/>
<line x1="281.5" y1="19.7" x2="281.5" y2="23.7" stroke="rgba(0,0,0,0.15)" stroke-width="2.2"/>
<line x1="281.5" y1="19.7" x2="281.5" y2="23.7" stroke="#444" stroke-width="0.9"/>
<line x1="280.1" y1="19.7" x2="282.9" y2="19.7" stroke="#444" stroke-width="1"/>
<line x1="280.1" y1="23.7" x2="282.9" y2="23.7" stroke="#444" stroke-width="1"/>
<line x1="279.75" y1="18.45" x2="283.25" y2="21.95" stroke="#111" stroke-width="1.1"/>
<line x1="279.75" y1="21.95" x2="283.25" y2="18.45" stroke="#111" stroke-width="1.1"/>
<line x1="279.1" y1="71.2" x2="279.1" y2="79.8" stroke="rgba(0,0,0,0.12)" stroke-width="2.2"/>
<line x1="279.1" y1="71.2" x2="279.1" y2="79.8" stroke="#6a6a6a" stroke-width="0.8"/>
<line x1="283.9" y1="65.9" x2="283.9" y2="75.5" stroke="rgba(0,0,0,0.12)" stroke-width="2.2"/>
<line x1="283.9" y1="65.9" x2="283.9" y2="75.5" stroke="#6a6a6a" stroke-width="0.8"/>
<rect x="277.3" y="75.5" width="3.6" height="7.05" fill="#22dd22"/>
<rect x="282.1" y="70.7" width="3.6" height="11.85" fill="#f42424"/>
<line x1="279.1" y1="71.2" x2="279.1" y2="79.8" stroke="rgba(0,0,0,0.35)" stroke-width="0.7"/>
<line x1="277.7" y1="71.2" x2="280.5" y2="71.2" stroke="#2a2a2a" stroke-width="1"/>
<line x1="277.7" y1="79.8" x2="280.5" y2="79.8" stroke="#2a2a2a" stroke-width="1"/>
<line x1="283.9" y1="65.9" x2="283.9" y2="75.5" stroke="rgba(0,0,0,0.35)" stroke-width="0.7"/>
<line x1="282.5" y1="65.9" x2="285.3" y2="65.9" stroke="#2a2a2a" stroke-width="1"/>
<line x1="282.5" y1="75.5" x2="285.3" y2="75.5" stroke="#2a2a2a" stroke-width="1"/>
<line x1="281.5" y1="119.8" x2="281.5" y2="126" stroke="rgba(0,0,0,0.16)" stroke-width="2.2"/>
<line x1="281.5" y1="119.8" x2="281.5" y2="126" stroke="#4a4a4a" stroke-width="0.8"/>
<rect x="279.3" y="122.9" width="4.4" height="6.75" fill="#e6ad1c"/>
<line x1="280" y1="119.8" x2="283" y2="119.8" stroke="#2a2a2a" stroke-width="1"/>
<line x1="280" y1="126" x2="283" y2="126" stroke="#2a2a2a" stroke-width="1"/>
<rect x="291.34" y="21.8" width="3.4" height="34.7" fill="#a6a6a6"/>
<line x1="293.04" y1="19.5" x2="293.04" y2="23.5" stroke="rgba(0,0,0,0.15)" stroke-width="2.2"/>
<line x1="293.04" y1="19.5" x2="293.04" y2="23.5" stroke="#444" stroke-width="0.9"/>
<line x1="291.64" y1="19.5" x2="294.44" y2="19.5" stroke="#444" stroke-width="1"/>
<line x1="291.64" y1="23.5" x2="294.44" y2="23.5" stroke="#444" stroke-width="1"/>
<line x1="291.29" y1="18.25" x2="294.79" y2="21.75" stroke="#111" stroke-width="1.1"/>
<line x1="291.29" y1="21.75" x2="294.79" y2="18.25" stroke="#111" stroke-width="1.1"/>
<line x1="290.64" y1="71.2" x2="290.64" y2="79.8" stroke="rgba(0,0,0,0.12)" stroke-width="2.2"/>
<line x1="290.64" y1="71.2" x2="290.64" y2="79.8" stroke="#6a6a6a" stroke-width="0.8"/>
<line x1="295.44" y1="65.9" x2="295.44" y2="75.5" stroke="rgba(0,0,0,0.12)" stroke-width="2.2"/>
<line x1="295.44" y1="65.9" x2="295.44" y2="75.5" stroke="#6a6a6a" stroke-width="0.8"/>
<rect x="288.84" y="75.5" width="3.6" height="7.05" fill="#22dd22"/>
<rect x="293.64" y="70.7" width="3.6" height="11.85" fill="#f42424"/>
<line x1="290.64" y1="71.2" x2="290.64" y2="79.8" stroke="rgba(0,0,0,0.35)" stroke-width="0.7"/>
<line x1="289.24" y1="71.2" x2="292.04" y2="71.2" stroke="#2a2a2a" stroke-width="1"/>
<line x1="289.24" y1="79.8" x2="292.04" y2="79.8" stroke="#2a2a2a" stroke-width="1"/>
<line x1="295.44" y1="65.9" x2="295.44" y2="75.5" stroke="rgba(0,0,0,0.35)" stroke-width="0.7"/>
<line x1="294.04" y1="65.9" x2="296.84" y2="65.9" stroke="#2a2a2a" stroke-width="1"/>
<line x1="294.04" y1="75.5" x2="296.84" y2="75.5" stroke="#2a2a2a" stroke-width="1"/>
<line x1="293.04" y1="119.8" x2="293.04" y2="126" stroke="rgba(0,0,0,0.16)" stroke-width="2.2"/>
<line x1="293.04" y1="119.8" x2="293.04" y2="126" stroke="#4a4a4a" stroke-width="0.8"/>
<rect x="290.84" y="122.9" width="4.4" height="6.75" fill="#e6ad1c"/>
<line x1="291.54" y1="119.8" x2="294.54" y2="119.8" stroke="#2a2a2a" stroke-width="1"/>
<line x1="291.54" y1="126" x2="294.54" y2="126" stroke="#2a2a2a" stroke-width="1"/>
<rect x="302.89" y="21.6" width="3.4" height="34.9" fill="#a6a6a6"/>
<line x1="304.59" y1="19.3" x2="304.59" y2="23.3" stroke="rgba(0,0,0,0.15)" stroke-width="2.2"/>
<line x1="304.59" y1="19.3" x2="304.59" y2="23.3" stroke="#444" stroke-width="0.9"/>
<line x1="303.19" y1="19.3" x2="305.99" y2="19.3" stroke="#444" stroke-width="1"/>
<line x1="303.19" y1="23.3" x2="305.99" y2="23.3" stroke="#444" stroke-width="1"/>
<line x1="302.84" y1="18.05" x2="306.34" y2="21.55" stroke="#111" stroke-width="1.1"/>
<line x1="302.84" y1="21.55" x2="306.34" y2="18.05" stroke="#111" stroke-width="1.1"/>
<line x1="302.19" y1="71.2" x2="302.19" y2="79.8" stroke="rgba(0,0,0,0.12)" stroke-width="2.2"/>
<line x1="302.19" y1="71.2" x2="302.19" y2="79.8" stroke="#6a6a6a" stroke-width="0.8"/>
<line x1="306.99" y1="65.9" x2="306.99" y2="75.5" stroke="rgba(0,0,0,0.12)" stroke-width="2.2"/>
<line x1="306.99" y1="65.9" x2="306.99" y2="75.5" stroke="#6a6a6a" stroke-width="0.8"/>
<rect x="300.39" y="75.5" width="3.6" height="7.05" fill="#22dd22"/>
<rect x="305.19" y="70.7" width="3.6" height="11.85" fill="#f42424"/>
<line x1="302.19" y1="71.2" x2="302.19" y2="79.8" stroke="rgba(0,0,0,0.35)" stroke-width="0.7"/>
<line x1="300.79" y1="71.2" x2="303.59" y2="71.2" stroke="#2a2a2a" stroke-width="1"/>
<line x1="300.79" y1="79.8" x2="303.59" y2="79.8" stroke="#2a2a2a" stroke-width="1"/>
<line x1="306.99" y1="65.9" x2="306.99" y2="75.5" stroke="rgba(0,0,0,0.35)" stroke-width="0.7"/>
<line x1="305.59" y1="65.9" x2="308.39" y2="65.9" stroke="#2a2a2a" stroke-width="1"/>
<line x1="305.59" y1="75.5" x2="308.39" y2="75.5" stroke="#2a2a2a" stroke-width="1"/>
<line x1="304.59" y1="119.8" x2="304.59" y2="126" stroke="rgba(0,0,0,0.16)" stroke-width="2.2"/>
<line x1="304.59" y1="119.8" x2="304.59" y2="126" stroke="#4a4a4a" stroke-width="0.8"/>
<rect x="302.39" y="122.9" width="4.4" height="6.75" fill="#e6ad1c"/>
<line x1="303.09" y1="119.8" x2="306.09" y2="119.8" stroke="#2a2a2a" stroke-width="1"/>
<line x1="303.09" y1="126" x2="306.09" y2="126" stroke="#2a2a2a" stroke-width="1"/>
<rect x="314.43" y="21.4" width="3.4" height="35.1" fill="#a6a6a6"/>
<line x1="316.13" y1="19.1" x2="316.13" y2="23.1" stroke="rgba(0,0,0,0.15)" stroke-width="2.2"/>
<line x1="316.13" y1="19.1" x2="316.13" y2="23.1" stroke="#444" stroke-width="0.9"/>
<line x1="314.73" y1="19.1" x2="317.53" y2="19.1" stroke="#444" stroke-width="1"/>
<line x1="314.73" y1="23.1" x2="317.53" y2="23.1" stroke="#444" stroke-width="1"/>
<line x1="314.38" y1="17.85" x2="317.88" y2="21.35" stroke="#111" stroke-width="1.1"/>
<line x1="314.38" y1="21.35" x2="317.88" y2="17.85" stroke="#111" stroke-width="1.1"/>
<line x1="313.73" y1="71.2" x2="313.73" y2="79.8" stroke="rgba(0,0,0,0.12)" stroke-width="2.2"/>
<line x1="313.73" y1="71.2" x2="313.73" y2="79.8" stroke="#6a6a6a" stroke-width="0.8"/>
<line x1="318.53" y1="65.9" x2="318.53" y2="75.5" stroke="rgba(0,0,0,0.12)" stroke-width="2.2"/>
<line x1="318.53" y1="65.9" x2="318.53" y2="75.5" stroke="#6a6a6a" stroke-width="0.8"/>
<rect x="311.93" y="75.5" width="3.6" height="7.05" fill="#22dd22"/>
<rect x="316.73" y="70.7" width="3.6" height="11.85" fill="#f42424"/>
<line x1="313.73" y1="71.2" x2="313.73" y2="79.8" stroke="rgba(0,0,0,0.35)" stroke-width="0.7"/>
<line x1="312.33" y1="71.2" x2="315.13" y2="71.2" stroke="#2a2a2a" stroke-width="1"/>
<line x1="312.33" y1="79.8" x2="315.13" y2="79.8" stroke="#2a2a2a" stroke-width="1"/>
<line x1="318.53" y1="65.9" x2="318.53" y2="75.5" stroke="rgba(0,0,0,0.35)" stroke-width="0.7"/>
<line x1="317.13" y1="65.9" x2="319.93" y2="65.9" stroke="#2a2a2a" stroke-width="1"/>
<line x1="317.13" y1="75.5" x2="319.93" y2="75.5" stroke="#2a2a2a" stroke-width="1"/>
<line x1="316.13" y1="119.8" x2="316.13" y2="126" stroke="rgba(0,0,0,0.16)" stroke-width="2.2"/>
<line x1="316.13" y1="119.8" x2="316.13" y2="126" stroke="#4a4a4a" stroke-width="0.8"/>
<rect x="313.93" y="122.9" width="4.4" height="6.75" fill="#e6ad1c"/>
<line x1="314.63" y1="119.8" x2="317.63" y2="119.8" stroke="#2a2a2a" stroke-width="1"/>
<line x1="314.63" y1="126" x2="317.63" y2="126" stroke="#2a2a2a" stroke-width="1"/>
<rect x="325.98" y="20.3" width="3.4" height="36.2" fill="#a6a6a6"/>
<line x1="327.68" y1="18" x2="327.68" y2="22" stroke="rgba(0,0,0,0.15)" stroke-width="2.2"/>
<line x1="327.68" y1="18" x2="327.68" y2="22" stroke="#444" stroke-width="0.9"/>
<line x1="326.28" y1="18" x2="329.08" y2="18" stroke="#444" stroke-width="1"/>
<line x1="326.28" y1="22" x2="329.08" y2="22" stroke="#444" stroke-width="1"/>
<line x1="325.93" y1="16.75" x2="329.43" y2="20.25" stroke="#111" stroke-width="1.1"/>
<line x1="325.93" y1="20.25" x2="329.43" y2="16.75" stroke="#111" stroke-width="1.1"/>
<line x1="325.28" y1="68.9" x2="325.28" y2="81.1" stroke="rgba(0,0,0,0.12)" stroke-width="2.2"/>
<line x1="325.28" y1="68.9" x2="325.28" y2="81.1" stroke="#6a6a6a" stroke-width="0.8"/>
<line x1="330.08" y1="62.8" x2="330.08" y2="77.2" stroke="rgba(0,0,0,0.12)" stroke-width="2.2"/>
<line x1="330.08" y1="62.8" x2="330.08" y2="77.2" stroke="#6a6a6a" stroke-width="0.8"/>
<rect x="323.48" y="75" width="3.6" height="7.55" fill="#22dd22"/>
<rect x="328.28" y="70" width="3.6" height="12.55" fill="#f42424"/>
<line x1="325.28" y1="68.9" x2="325.28" y2="81.1" stroke="rgba(0,0,0,0.35)" stroke-width="0.7"/>
<line x1="323.88" y1="68.9" x2="326.68" y2="68.9" stroke="#2a2a2a" stroke-width="1"/>
<line x1="323.88" y1="81.1" x2="326.68" y2="81.1" stroke="#2a2a2a" stroke-width="1"/>
<line x1="330.08" y1="62.8" x2="330.08" y2="77.2" stroke="rgba(0,0,0,0.35)" stroke-width="0.7"/>
<line x1="328.68" y1="62.8" x2="331.48" y2="62.8" stroke="#2a2a2a" stroke-width="1"/>
<line x1="328.68" y1="77.2" x2="331.48" y2="77.2" stroke="#2a2a2a" stroke-width="1"/>
<line x1="327.68" y1="119.8" x2="327.68" y2="126" stroke="rgba(0,0,0,0.16)" stroke-width="2.2"/>
<line x1="327.68" y1="119.8" x2="327.68" y2="126" stroke="#4a4a4a" stroke-width="0.8"/>
<rect x="325.48" y="122.9" width="4.4" height="6.75" fill="#e6ad1c"/>
<line x1="326.18" y1="119.8" x2="329.18" y2="119.8" stroke="#2a2a2a" stroke-width="1"/>
<line x1="326.18" y1="126" x2="329.18" y2="126" stroke="#2a2a2a" stroke-width="1"/>
<rect x="337.53" y="20.1" width="3.4" height="36.4" fill="#a6a6a6"/>
<line x1="339.23" y1="17.8" x2="339.23" y2="23.8" stroke="rgba(0,0,0,0.15)" stroke-width="2.2"/>
<line x1="339.23" y1="17.8" x2="339.23" y2="23.8" stroke="#444" stroke-width="0.9"/>
<line x1="337.83" y1="17.8" x2="340.63" y2="17.8" stroke="#444" stroke-width="1"/>
<line x1="337.83" y1="23.8" x2="340.63" y2="23.8" stroke="#444" stroke-width="1"/>
<line x1="337.48" y1="16.55" x2="340.98" y2="20.05" stroke="#111" stroke-width="1.1"/>
<line x1="337.48" y1="20.05" x2="340.98" y2="16.55" stroke="#111" stroke-width="1.1"/>
<line x1="336.83" y1="68.9" x2="336.83" y2="81.1" stroke="rgba(0,0,0,0.12)" stroke-width="2.2"/>
<line x1="336.83" y1="68.9" x2="336.83" y2="81.1" stroke="#6a6a6a" stroke-width="0.8"/>
<line x1="341.63" y1="62.8" x2="341.63" y2="77.2" stroke="rgba(0,0,0,0.12)" stroke-width="2.2"/>
<line x1="341.63" y1="62.8" x2="341.63" y2="77.2" stroke="#6a6a6a" stroke-width="0.8"/>
<rect x="335.03" y="75" width="3.6" height="7.55" fill="#22dd22"/>
<rect x="339.83" y="70" width="3.6" height="12.55" fill="#f42424"/>
<line x1="336.83" y1="68.9" x2="336.83" y2="81.1" stroke="rgba(0,0,0,0.35)" stroke-width="0.7"/>
<line x1="335.43" y1="68.9" x2="338.23" y2="68.9" stroke="#2a2a2a" stroke-width="1"/>
<line x1="335.43" y1="81.1" x2="338.23" y2="81.1" stroke="#2a2a2a" stroke-width="1"/>
<line x1="341.63" y1="62.8" x2="341.63" y2="77.2" stroke="rgba(0,0,0,0.35)" stroke-width="0.7"/>
<line x1="340.23" y1="62.8" x2="343.03" y2="62.8" stroke="#2a2a2a" stroke-width="1"/>
<line x1="340.23" y1="77.2" x2="343.03" y2="77.2" stroke="#2a2a2a" stroke-width="1"/>
<line x1="339.23" y1="119.8" x2="339.23" y2="126" stroke="rgba(0,0,0,0.16)" stroke-width="2.2"/>
<line x1="339.23" y1="119.8" x2="339.23" y2="126" stroke="#4a4a4a" stroke-width="0.8"/>
<rect x="337.03" y="122.9" width="4.4" height="6.75" fill="#e6ad1c"/>
<line x1="337.73" y1="119.8" x2="340.73" y2="119.8" stroke="#2a2a2a" stroke-width="1"/>
<line x1="337.73" y1="126" x2="340.73" y2="126" stroke="#2a2a2a" stroke-width="1"/>
<rect x="349.07" y="19.2" width="3.4" height="37.3" fill="#a6a6a6"/>
<line x1="350.77" y1="16.9" x2="350.77" y2="22.9" stroke="rgba(0,0,0,0.15)" stroke-width="2.2"/>
<line x1="350.77" y1="16.9" x2="350.77" y2="22.9" stroke="#444" stroke-width="0.9"/>
<line x1="349.37" y1="16.9" x2="352.17" y2="16.9" stroke="#444" stroke-width="1"/>
<line x1="349.37" y1="22.9" x2="352.17" y2="22.9" stroke="#444" stroke-width="1"/>
<line x1="349.02" y1="15.65" x2="352.52" y2="19.15" stroke="#111" stroke-width="1.1"/>
<line x1="349.02" y1="19.15" x2="352.52" y2="15.65" stroke="#111" stroke-width="1.1"/>
<line x1="348.37" y1="68.9" x2="348.37" y2="81.1" stroke="rgba(0,0,0,0.12)" stroke-width="2.2"/>
<line x1="348.37" y1="68.9" x2="348.37" y2="81.1" stroke="#6a6a6a" stroke-width="0.8"/>
<line x1="353.17" y1="62.8" x2="353.17" y2="77.2" stroke="rgba(0,0,0,0.12)" stroke-width="2.2"/>
<line x1="353.17" y1="62.8" x2="353.17" y2="77.2" stroke="#6a6a6a" stroke-width="0.8"/>
<rect x="346.57" y="75" width="3.6" height="7.55" fill="#22dd22"/>
<rect x="351.37" y="70" width="3.6" height="12.55" fill="#f42424"/>
<line x1="348.37" y1="68.9" x2="348.37" y2="81.1" stroke="rgba(0,0,0,0.35)" stroke-width="0.7"/>
<line x1="346.97" y1="68.9" x2="349.77" y2="68.9" stroke="#2a2a2a" stroke-width="1"/>
<line x1="346.97" y1="81.1" x2="349.77" y2="81.1" stroke="#2a2a2a" stroke-width="1"/>
<line x1="353.17" y1="62.8" x2="353.17" y2="77.2" stroke="rgba(0,0,0,0.35)" stroke-width="0.7"/>
<line x1="351.77" y1="62.8" x2="354.57" y2="62.8" stroke="#2a2a2a" stroke-width="1"/>
<line x1="351.77" y1="77.2" x2="354.57" y2="77.2" stroke="#2a2a2a" stroke-width="1"/>
<line x1="350.77" y1="119.8" x2="350.77" y2="126" stroke="rgba(0,0,0,0.16)" stroke-width="2.2"/>
<line x1="350.77" y1="119.8" x2="350.77" y2="126" stroke="#4a4a4a" stroke-width="0.8"/>
<rect x="348.57" y="122.9" width="4.4" height="6.75" fill="#e6ad1c"/>
<line x1="349.27" y1="119.8" x2="352.27" y2="119.8" stroke="#2a2a2a" stroke-width="1"/>
<line x1="349.27" y1="126" x2="352.27" y2="126" stroke="#2a2a2a" stroke-width="1"/>
<rect x="360.62" y="17.8" width="3.4" height="38.7" fill="#a6a6a6"/>
<line x1="362.32" y1="14" x2="362.32" y2="21.5" stroke="rgba(0,0,0,0.15)" stroke-width="2.2"/>
<line x1="362.32" y1="14" x2="362.32" y2="21.5" stroke="#444" stroke-width="0.9"/>
<line x1="360.92" y1="14" x2="363.72" y2="14" stroke="#444" stroke-width="1"/>
<line x1="360.92" y1="21.5" x2="363.72" y2="21.5" stroke="#444" stroke-width="1"/>
<line x1="360.57" y1="14.25" x2="364.07" y2="17.75" stroke="#111" stroke-width="1.1"/>
<line x1="360.57" y1="17.75" x2="364.07" y2="14.25" stroke="#111" stroke-width="1.1"/>
<line x1="359.92" y1="68.9" x2="359.92" y2="81.1" stroke="rgba(0,0,0,0.12)" stroke-width="2.2"/>
<line x1="359.92" y1="68.9" x2="359.92" y2="81.1" stroke="#6a6a6a" stroke-width="0.8"/>
<line x1="364.72" y1="62.8" x2="364.72" y2="77.2" stroke="rgba(0,0,0,0.12)" stroke-width="2.2"/>
<line x1="364.72" y1="62.8" x2="364.72" y2="77.2" stroke="#6a6a6a" stroke-width="0.8"/>
<rect x="358.12" y="75" width="3.6" height="7.55" fill="#22dd22"/>
<rect x="362.92" y="70" width="3.6" height="12.55" fill="#f42424"/>
<line x1="359.92" y1="68.9" x2="359.92" y2="81.1" stroke="rgba(0,0,0,0.35)" stroke-width="0.7"/>
<line x1="358.52" y1="68.9" x2="361.32" y2="68.9" stroke="#2a2a2a" stroke-width="1"/>
<line x1="358.52" y1="81.1" x2="361.32" y2="81.1" stroke="#2a2a2a" stroke-width="1"/>
<line x1="364.72" y1="62.8" x2="364.72" y2="77.2" stroke="rgba(0,0,0,0.35)" stroke-width="0.7"/>
<line x1="363.32" y1="62.8" x2="366.12" y2="62.8" stroke="#2a2a2a" stroke-width="1"/>
<line x1="363.32" y1="77.2" x2="366.12" y2="77.2" stroke="#2a2a2a" stroke-width="1"/>
<line x1="362.32" y1="119.8" x2="362.32" y2="126" stroke="rgba(0,0,0,0.16)" stroke-width="2.2"/>
<line x1="362.32" y1="119.8" x2="362.32" y2="126" stroke="#4a4a4a" stroke-width="0.8"/>
<rect x="360.12" y="122.9" width="4.4" height="6.75" fill="#e6ad1c"/>
<line x1="360.82" y1="119.8" x2="363.82" y2="119.8" stroke="#2a2a2a" stroke-width="1"/>
<line x1="360.82" y1="126" x2="363.82" y2="126" stroke="#2a2a2a" stroke-width="1"/>
<rect x="372.16" y="16.7" width="3.4" height="39.8" fill="#a6a6a6"/>
<line x1="373.86" y1="12.9" x2="373.86" y2="20.4" stroke="rgba(0,0,0,0.15)" stroke-width="2.2"/>
<line x1="373.86" y1="12.9" x2="373.86" y2="20.4" stroke="#444" stroke-width="0.9"/>
<line x1="372.46" y1="12.9" x2="375.26" y2="12.9" stroke="#444" stroke-width="1"/>
<line x1="372.46" y1="20.4" x2="375.26" y2="20.4" stroke="#444" stroke-width="1"/>
<line x1="372.11" y1="13.15" x2="375.61" y2="16.65" stroke="#111" stroke-width="1.1"/>
<line x1="372.11" y1="16.65" x2="375.61" y2="13.15" stroke="#111" stroke-width="1.1"/>
<line x1="371.46" y1="68.9" x2="371.46" y2="81.1" stroke="rgba(0,0,0,0.12)" stroke-width="2.2"/>
<line x1="371.46" y1="68.9" x2="371.46" y2="81.1" stroke="#6a6a6a" stroke-width="0.8"/>
<line x1="376.26" y1="60.6" x2="376.26" y2="79.4" stroke="rgba(0,0,0,0.12)" stroke-width="2.2"/>
<line x1="376.26" y1="60.6" x2="376.26" y2="79.4" stroke="#6a6a6a" stroke-width="0.8"/>
<rect x="369.66" y="75" width="3.6" height="7.55" fill="#22dd22"/>
<rect x="374.46" y="70" width="3.6" height="12.55" fill="#f42424"/>
<line x1="371.46" y1="68.9" x2="371.46" y2="81.1" stroke="rgba(0,0,0,0.35)" stroke-width="0.7"/>
<line x1="370.06" y1="68.9" x2="372.86" y2="68.9" stroke="#2a2a2a" stroke-width="1"/>
<line x1="370.06" y1="81.1" x2="372.86" y2="81.1" stroke="#2a2a2a" stroke-width="1"/>
<line x1="376.26" y1="60.6" x2="376.26" y2="79.4" stroke="rgba(0,0,0,0.35)" stroke-width="0.7"/>
<line x1="374.86" y1="60.6" x2="377.66" y2="60.6" stroke="#2a2a2a" stroke-width="1"/>
<line x1="374.86" y1="79.4" x2="377.66" y2="79.4" stroke="#2a2a2a" stroke-width="1"/>
<line x1="373.86" y1="119.8" x2="373.86" y2="126" stroke="rgba(0,0,0,0.16)" stroke-width="2.2"/>
<line x1="373.86" y1="119.8" x2="373.86" y2="126" stroke="#4a4a4a" stroke-width="0.8"/>
<rect x="371.66" y="122.9" width="4.4" height="6.75" fill="#e6ad1c"/>
<line x1="372.36" y1="119.8" x2="375.36" y2="119.8" stroke="#2a2a2a" stroke-width="1"/>
<line x1="372.36" y1="126" x2="375.36" y2="126" stroke="#2a2a2a" stroke-width="1"/>
<line x1="32" y1="10.5" x2="146.4" y2="10.5" stroke="#555" stroke-width="1" stroke-dasharray="2.5 0.5"/>
<line x1="32" y1="56.5" x2="146.4" y2="56.5" stroke="#555" stroke-width="1" stroke-dasharray="2.5 0.5"/>
<line x1="32" y1="102.5" x2="146.4" y2="102.5" stroke="#555" stroke-width="1" stroke-dasharray="2.5 0.5"/>
<line x1="32" y1="148.45" x2="146.4" y2="148.45" stroke="#555" stroke-width="1" stroke-dasharray="2.5 0.5"/>
<line x1="32" y1="10.5" x2="32" y2="148.45" stroke="#6a6a6a" stroke-width="1.3"/>
<line x1="146.4" y1="10.5" x2="146.4" y2="148.45" stroke="#6a6a6a" stroke-width="1.3"/>
<line x1="43.1" y1="148.45" x2="43.1" y2="149.75" stroke="#333" stroke-width="0.9"/>
<line x1="43.1" y1="10.5" x2="43.1" y2="11.7" stroke="#333" stroke-width="0.9"/>
<line x1="54.65" y1="148.45" x2="54.65" y2="149.75" stroke="#333" stroke-width="0.9"/>
<line x1="54.65" y1="10.5" x2="54.65" y2="11.7" stroke="#333" stroke-width="0.9"/>
<line x1="66.2" y1="148.45" x2="66.2" y2="149.75" stroke="#333" stroke-width="0.9"/>
<line x1="66.2" y1="10.5" x2="66.2" y2="11.7" stroke="#333" stroke-width="0.9"/>
<line x1="77.75" y1="148.45" x2="77.75" y2="149.75" stroke="#333" stroke-width="0.9"/>
<line x1="77.75" y1="10.5" x2="77.75" y2="11.7" stroke="#333" stroke-width="0.9"/>
<line x1="89.3" y1="148.45" x2="89.3" y2="149.75" stroke="#333" stroke-width="0.9"/>
<line x1="89.3" y1="10.5" x2="89.3" y2="11.7" stroke="#333" stroke-width="0.9"/>
<line x1="100.85" y1="148.45" x2="100.85" y2="149.75" stroke="#333" stroke-width="0.9"/>
<line x1="100.85" y1="10.5" x2="100.85" y2="11.7" stroke="#333" stroke-width="0.9"/>
<line x1="112.4" y1="148.45" x2="112.4" y2="149.75" stroke="#333" stroke-width="0.9"/>
<line x1="112.4" y1="10.5" x2="112.4" y2="11.7" stroke="#333" stroke-width="0.9"/>
<line x1="123.95" y1="148.45" x2="123.95" y2="149.75" stroke="#333" stroke-width="0.9"/>
<line x1="123.95" y1="10.5" x2="123.95" y2="11.7" stroke="#333" stroke-width="0.9"/>
<line x1="135.5" y1="148.45" x2="135.5" y2="149.75" stroke="#333" stroke-width="0.9"/>
<line x1="135.5" y1="10.5" x2="135.5" y2="11.7" stroke="#333" stroke-width="0.9"/>
<line x1="148.3" y1="10.5" x2="263.4" y2="10.5" stroke="#555" stroke-width="1" stroke-dasharray="2.5 0.5"/>
<line x1="148.3" y1="56.5" x2="263.4" y2="56.5" stroke="#555" stroke-width="1" stroke-dasharray="2.5 0.5"/>
<line x1="148.3" y1="102.5" x2="263.4" y2="102.5" stroke="#555" stroke-width="1" stroke-dasharray="2.5 0.5"/>
<line x1="148.3" y1="148.45" x2="263.4" y2="148.45" stroke="#555" stroke-width="1" stroke-dasharray="2.5 0.5"/>
<line x1="148.3" y1="10.5" x2="148.3" y2="148.45" stroke="#6a6a6a" stroke-width="1.3"/>
<line x1="263.4" y1="10.5" x2="263.4" y2="148.45" stroke="#6a6a6a" stroke-width="1.3"/>
<line x1="160.25" y1="148.45" x2="160.25" y2="149.75" stroke="#333" stroke-width="0.9"/>
<line x1="160.25" y1="10.5" x2="160.25" y2="11.7" stroke="#333" stroke-width="0.9"/>
<line x1="171.71" y1="148.45" x2="171.71" y2="149.75" stroke="#333" stroke-width="0.9"/>
<line x1="171.71" y1="10.5" x2="171.71" y2="11.7" stroke="#333" stroke-width="0.9"/>
<line x1="183.17" y1="148.45" x2="183.17" y2="149.75" stroke="#333" stroke-width="0.9"/>
<line x1="183.17" y1="10.5" x2="183.17" y2="11.7" stroke="#333" stroke-width="0.9"/>
<line x1="194.63" y1="148.45" x2="194.63" y2="149.75" stroke="#333" stroke-width="0.9"/>
<line x1="194.63" y1="10.5" x2="194.63" y2="11.7" stroke="#333" stroke-width="0.9"/>
<line x1="206.09" y1="148.45" x2="206.09" y2="149.75" stroke="#333" stroke-width="0.9"/>
<line x1="206.09" y1="10.5" x2="206.09" y2="11.7" stroke="#333" stroke-width="0.9"/>
<line x1="217.55" y1="148.45" x2="217.55" y2="149.75" stroke="#333" stroke-width="0.9"/>
<line x1="217.55" y1="10.5" x2="217.55" y2="11.7" stroke="#333" stroke-width="0.9"/>
<line x1="229.01" y1="148.45" x2="229.01" y2="149.75" stroke="#333" stroke-width="0.9"/>
<line x1="229.01" y1="10.5" x2="229.01" y2="11.7" stroke="#333" stroke-width="0.9"/>
<line x1="240.47" y1="148.45" x2="240.47" y2="149.75" stroke="#333" stroke-width="0.9"/>
<line x1="240.47" y1="10.5" x2="240.47" y2="11.7" stroke="#333" stroke-width="0.9"/>
<line x1="251.93" y1="148.45" x2="251.93" y2="149.75" stroke="#333" stroke-width="0.9"/>
<line x1="251.93" y1="10.5" x2="251.93" y2="11.7" stroke="#333" stroke-width="0.9"/>
<line x1="265.5" y1="10.5" x2="379.9" y2="10.5" stroke="#555" stroke-width="1" stroke-dasharray="2.5 0.5"/>
<line x1="265.5" y1="56.5" x2="379.9" y2="56.5" stroke="#555" stroke-width="1" stroke-dasharray="2.5 0.5"/>
<line x1="265.5" y1="102.5" x2="379.9" y2="102.5" stroke="#555" stroke-width="1" stroke-dasharray="2.5 0.5"/>
<line x1="265.5" y1="148.45" x2="379.9" y2="148.45" stroke="#555" stroke-width="1" stroke-dasharray="2.5 0.5"/>
<line x1="265.5" y1="10.5" x2="265.5" y2="148.45" stroke="#6a6a6a" stroke-width="1.3"/>
<line x1="379.9" y1="10.5" x2="379.9" y2="148.45" stroke="#6a6a6a" stroke-width="1.3"/>
<line x1="276.45" y1="148.45" x2="276.45" y2="149.75" stroke="#333" stroke-width="0.9"/>
<line x1="276.45" y1="10.5" x2="276.45" y2="11.7" stroke="#333" stroke-width="0.9"/>
<line x1="287.95" y1="148.45" x2="287.95" y2="149.75" stroke="#333" stroke-width="0.9"/>
<line x1="287.95" y1="10.5" x2="287.95" y2="11.7" stroke="#333" stroke-width="0.9"/>
<line x1="299.45" y1="148.45" x2="299.45" y2="149.75" stroke="#333" stroke-width="0.9"/>
<line x1="299.45" y1="10.5" x2="299.45" y2="11.7" stroke="#333" stroke-width="0.9"/>
<line x1="310.95" y1="148.45" x2="310.95" y2="149.75" stroke="#333" stroke-width="0.9"/>
<line x1="310.95" y1="10.5" x2="310.95" y2="11.7" stroke="#333" stroke-width="0.9"/>
<line x1="322.45" y1="148.45" x2="322.45" y2="149.75" stroke="#333" stroke-width="0.9"/>
<line x1="322.45" y1="10.5" x2="322.45" y2="11.7" stroke="#333" stroke-width="0.9"/>
<line x1="333.95" y1="148.45" x2="333.95" y2="149.75" stroke="#333" stroke-width="0.9"/>
<line x1="333.95" y1="10.5" x2="333.95" y2="11.7" stroke="#333" stroke-width="0.9"/>
<line x1="345.45" y1="148.45" x2="345.45" y2="149.75" stroke="#333" stroke-width="0.9"/>
<line x1="345.45" y1="10.5" x2="345.45" y2="11.7" stroke="#333" stroke-width="0.9"/>
<line x1="356.95" y1="148.45" x2="356.95" y2="149.75" stroke="#333" stroke-width="0.9"/>
<line x1="356.95" y1="10.5" x2="356.95" y2="11.7" stroke="#333" stroke-width="0.9"/>
<line x1="368.45" y1="148.45" x2="368.45" y2="149.75" stroke="#333" stroke-width="0.9"/>
<line x1="368.45" y1="10.5" x2="368.45" y2="11.7" stroke="#333" stroke-width="0.9"/>
<rect x="146.9" y="10.5" width="0.9" height="137.95" fill="#d4d4d4"/>
<rect x="263.9" y="10.5" width="1.1" height="137.95" fill="#d4d4d4"/>
<line x1="30.2" y1="10.44" x2="32" y2="10.44" stroke="#333" stroke-width="1"/>
<line x1="379.9" y1="10.44" x2="381.7" y2="10.44" stroke="#333" stroke-width="1"/>
<line x1="30.2" y1="16.53" x2="32" y2="16.53" stroke="#333" stroke-width="1"/>
<line x1="379.9" y1="16.53" x2="381.7" y2="16.53" stroke="#333" stroke-width="1"/>
<line x1="30.2" y1="22.61" x2="32" y2="22.61" stroke="#333" stroke-width="1"/>
<line x1="379.9" y1="22.61" x2="381.7" y2="22.61" stroke="#333" stroke-width="1"/>
<line x1="30.2" y1="28.7" x2="32" y2="28.7" stroke="#333" stroke-width="1"/>
<line x1="379.9" y1="28.7" x2="381.7" y2="28.7" stroke="#333" stroke-width="1"/>
<line x1="30.2" y1="38" x2="32" y2="38" stroke="#333" stroke-width="1"/>
<line x1="379.9" y1="38" x2="381.7" y2="38" stroke="#333" stroke-width="1"/>
<line x1="30.2" y1="47.3" x2="32" y2="47.3" stroke="#333" stroke-width="1"/>
<line x1="379.9" y1="47.3" x2="381.7" y2="47.3" stroke="#333" stroke-width="1"/>
<line x1="30.2" y1="63.05" x2="32" y2="63.05" stroke="#333" stroke-width="1"/>
<line x1="379.9" y1="63.05" x2="381.7" y2="63.05" stroke="#333" stroke-width="1"/>
<line x1="30.2" y1="69.55" x2="32" y2="69.55" stroke="#333" stroke-width="1"/>
<line x1="379.9" y1="69.55" x2="381.7" y2="69.55" stroke="#333" stroke-width="1"/>
<line x1="30.2" y1="76.05" x2="32" y2="76.05" stroke="#333" stroke-width="1"/>
<line x1="379.9" y1="76.05" x2="381.7" y2="76.05" stroke="#333" stroke-width="1"/>
<line x1="30.2" y1="82.55" x2="32" y2="82.55" stroke="#333" stroke-width="1"/>
<line x1="379.9" y1="82.55" x2="381.7" y2="82.55" stroke="#333" stroke-width="1"/>
<line x1="30.2" y1="89.05" x2="32" y2="89.05" stroke="#333" stroke-width="1"/>
<line x1="379.9" y1="89.05" x2="381.7" y2="89.05" stroke="#333" stroke-width="1"/>
<line x1="30.2" y1="95.55" x2="32" y2="95.55" stroke="#333" stroke-width="1"/>
<line x1="379.9" y1="95.55" x2="381.7" y2="95.55" stroke="#333" stroke-width="1"/>
<line x1="30.2" y1="111.45" x2="32" y2="111.45" stroke="#333" stroke-width="1"/>
<line x1="379.9" y1="111.45" x2="381.7" y2="111.45" stroke="#333" stroke-width="1"/>
<line x1="30.2" y1="120.55" x2="32" y2="120.55" stroke="#333" stroke-width="1"/>
<line x1="379.9" y1="120.55" x2="381.7" y2="120.55" stroke="#333" stroke-width="1"/>
<line x1="30.2" y1="129.65" x2="32" y2="129.65" stroke="#333" stroke-width="1"/>
<line x1="379.9" y1="129.65" x2="381.7" y2="129.65" stroke="#333" stroke-width="1"/>
<line x1="30.2" y1="138.75" x2="32" y2="138.75" stroke="#333" stroke-width="1"/>
<line x1="379.9" y1="138.75" x2="381.7" y2="138.75" stroke="#333" stroke-width="1"/>
<text transform="translate(29.6 12.74) scale(0.86 1)" x="0" y="0" font-size="6.5" text-anchor="end" font-weight="normal" fill="#1a1a1a">100</text>
<text transform="translate(382.6 12.74) scale(0.86 1)" x="0" y="0" font-size="6.5" text-anchor="start" font-weight="normal" fill="#1a1a1a">100</text>
<text transform="translate(29.6 18.83) scale(0.86 1)" x="0" y="0" font-size="6.5" text-anchor="end" font-weight="normal" fill="#1a1a1a">70</text>
<text transform="translate(382.6 18.83) scale(0.86 1)" x="0" y="0" font-size="6.5" text-anchor="start" font-weight="normal" fill="#1a1a1a">70</text>
<text transform="translate(29.6 24.91) scale(0.86 1)" x="0" y="0" font-size="6.5" text-anchor="end" font-weight="normal" fill="#1a1a1a">40</text>
<text transform="translate(382.6 24.91) scale(0.86 1)" x="0" y="0" font-size="6.5" text-anchor="start" font-weight="normal" fill="#1a1a1a">40</text>
<text transform="translate(29.6 31) scale(0.86 1)" x="0" y="0" font-size="6.5" text-anchor="end" font-weight="normal" fill="#1a1a1a">10</text>
<text transform="translate(382.6 31) scale(0.86 1)" x="0" y="0" font-size="6.5" text-anchor="start" font-weight="normal" fill="#1a1a1a">10</text>
<text transform="translate(29.6 40.3) scale(0.86 1)" x="0" y="0" font-size="6.5" text-anchor="end" font-weight="normal" fill="#1a1a1a">1</text>
<text transform="translate(382.6 40.3) scale(0.86 1)" x="0" y="0" font-size="6.5" text-anchor="start" font-weight="normal" fill="#1a1a1a">1</text>
<text transform="translate(29.6 49.6) scale(0.86 1)" x="0" y="0" font-size="6.5" text-anchor="end" font-weight="normal" fill="#1a1a1a">0.1</text>
<text transform="translate(382.6 49.6) scale(0.86 1)" x="0" y="0" font-size="6.5" text-anchor="start" font-weight="normal" fill="#1a1a1a">0.1</text>
<text transform="translate(29.6 65.35) scale(0.86 1)" x="0" y="0" font-size="6.5" text-anchor="end" font-weight="normal" fill="#1a1a1a">15</text>
<text transform="translate(382.6 65.35) scale(0.86 1)" x="0" y="0" font-size="6.5" text-anchor="start" font-weight="normal" fill="#1a1a1a">15</text>
<text transform="translate(29.6 84.85) scale(0.86 1)" x="0" y="0" font-size="6.5" text-anchor="end" font-weight="normal" fill="#1a1a1a">0</text>
<text transform="translate(382.6 84.85) scale(0.86 1)" x="0" y="0" font-size="6.5" text-anchor="start" font-weight="normal" fill="#1a1a1a">0</text>
<text transform="translate(29.6 97.85) scale(0.86 1)" x="0" y="0" font-size="6.5" text-anchor="end" font-weight="normal" fill="#1a1a1a">−10</text>
<text transform="translate(382.6 97.85) scale(0.86 1)" x="0" y="0" font-size="6.5" text-anchor="start" font-weight="normal" fill="#1a1a1a">−10</text>
<text transform="translate(29.6 113.75) scale(0.86 1)" x="0" y="0" font-size="6.5" text-anchor="end" font-weight="normal" fill="#1a1a1a">10</text>
<text transform="translate(382.6 113.75) scale(0.86 1)" x="0" y="0" font-size="6.5" text-anchor="start" font-weight="normal" fill="#1a1a1a">10</text>
<text transform="translate(29.6 131.95) scale(0.86 1)" x="0" y="0" font-size="6.5" text-anchor="end" font-weight="normal" fill="#1a1a1a">0</text>
<text transform="translate(382.6 131.95) scale(0.86 1)" x="0" y="0" font-size="6.5" text-anchor="start" font-weight="normal" fill="#1a1a1a">0</text>
<text transform="translate(29.6 141.05) scale(0.86 1)" x="0" y="0" font-size="6.5" text-anchor="end" font-weight="normal" fill="#1a1a1a">−5</text>
<text transform="translate(382.6 141.05) scale(0.86 1)" x="0" y="0" font-size="6.5" text-anchor="start" font-weight="normal" fill="#1a1a1a">−5</text>
<text transform="translate(15.9 35) scale(0.93 1)" x="0" y="0" font-size="6.8" text-anchor="middle" font-weight="normal" fill="#1a1a1a">[<tspan font-size="5.0" font-weight="bold" fill="#222" dx="0.6">mm</tspan><tspan dx="0.6">]</tspan></text>
<text transform="translate(16 81.6) scale(0.85 1)" x="0" y="0" font-size="6.8" text-anchor="middle" font-weight="normal" fill="#1a1a1a">[<tspan font-size="5.4" font-weight="bold" fill="#000" dx="0.3">%</tspan><tspan dx="0.3">]</tspan></text>
<text transform="translate(16.5 127.2) scale(0.85 1)" x="0" y="0" font-size="6.8" text-anchor="middle" font-weight="normal" fill="#1a1a1a">[<tspan font-size="5.4" font-weight="bold" fill="#000" dx="0.3">%</tspan><tspan dx="0.3">]</tspan></text>
<text transform="translate(395.9 35) scale(0.93 1)" x="0" y="0" font-size="6.8" text-anchor="middle" font-weight="normal" fill="#1a1a1a">[<tspan font-size="5.0" font-weight="bold" fill="#222" dx="0.6">mm</tspan><tspan dx="0.6">]</tspan></text>
<text transform="translate(396.2 81.3) scale(0.85 1)" x="0" y="0" font-size="6.8" text-anchor="middle" font-weight="normal" fill="#1a1a1a">[<tspan font-size="5.4" font-weight="bold" fill="#000" dx="0.3">%</tspan><tspan dx="0.3">]</tspan></text>
<text transform="translate(396.2 126.8) scale(0.85 1)" x="0" y="0" font-size="6.8" text-anchor="middle" font-weight="normal" fill="#1a1a1a">[<tspan font-size="5.4" font-weight="bold" fill="#000" dx="0.3">%</tspan><tspan dx="0.3">]</tspan></text>
<text x="6.3" y="33.15" font-size="6.8" text-anchor="middle" font-weight="bold" fill="#000" textLength="12.6" lengthAdjust="spacingAndGlyphs" transform="rotate(-90 6.3 33.15)">HIST</text>
<text x="6.3" y="79" font-size="6.8" text-anchor="middle" font-weight="bold" fill="#000" textLength="30.4" lengthAdjust="spacingAndGlyphs" transform="rotate(-90 6.3 79)">Plus−HIST</text>
<text x="6.4" y="125" font-size="6.8" text-anchor="middle" font-weight="bold" fill="#000" textLength="37.2" lengthAdjust="spacingAndGlyphs" transform="rotate(-90 6.4 125)">2.0°C−1.5°C</text>
<text transform="translate(32 155.7) scale(0.86 1)" x="0" y="0" font-size="6.6" text-anchor="middle" font-weight="normal" fill="#000">0</text>
<text transform="translate(54.65 155.7) scale(0.86 1)" x="0" y="0" font-size="6.6" text-anchor="middle" font-weight="normal" fill="#000">20</text>
<text transform="translate(77.75 155.7) scale(0.86 1)" x="0" y="0" font-size="6.6" text-anchor="middle" font-weight="normal" fill="#000">40</text>
<text transform="translate(100.85 155.7) scale(0.86 1)" x="0" y="0" font-size="6.6" text-anchor="middle" font-weight="normal" fill="#000">60</text>
<text transform="translate(123.95 155.7) scale(0.86 1)" x="0" y="0" font-size="6.6" text-anchor="middle" font-weight="normal" fill="#000">80</text>
<text transform="translate(135.5 155.7) scale(0.86 1)" x="0" y="0" font-size="6.6" text-anchor="middle" font-weight="normal" fill="#000">90</text>
<text transform="translate(160.25 155.7) scale(0.86 1)" x="0" y="0" font-size="6.6" text-anchor="middle" font-weight="normal" fill="#000">91</text>
<text transform="translate(183.17 155.7) scale(0.86 1)" x="0" y="0" font-size="6.6" text-anchor="middle" font-weight="normal" fill="#000">93</text>
<text transform="translate(206.09 155.7) scale(0.86 1)" x="0" y="0" font-size="6.6" text-anchor="middle" font-weight="normal" fill="#000">95</text>
<text transform="translate(229.01 155.7) scale(0.86 1)" x="0" y="0" font-size="6.6" text-anchor="middle" font-weight="normal" fill="#000">97</text>
<text transform="translate(251.93 155.7) scale(0.86 1)" x="0" y="0" font-size="6.6" text-anchor="middle" font-weight="normal" fill="#000">99</text>
<text transform="translate(276.45 155.7) scale(0.86 1)" x="0" y="0" font-size="6.6" text-anchor="middle" font-weight="normal" fill="#000">99.1</text>
<text transform="translate(299.45 155.7) scale(0.86 1)" x="0" y="0" font-size="6.6" text-anchor="middle" font-weight="normal" fill="#000">99.3</text>
<text transform="translate(322.45 155.7) scale(0.86 1)" x="0" y="0" font-size="6.6" text-anchor="middle" font-weight="normal" fill="#000">99.5</text>
<text transform="translate(345.45 155.7) scale(0.86 1)" x="0" y="0" font-size="6.6" text-anchor="middle" font-weight="normal" fill="#000">99.7</text>
<text transform="translate(368.45 155.7) scale(0.86 1)" x="0" y="0" font-size="6.6" text-anchor="middle" font-weight="normal" fill="#000">99.9</text>
<text transform="translate(205 167.7) scale(0.83 1)" x="0" y="0" font-size="9.6" text-anchor="middle" font-weight="bold" fill="#000" stroke="#000" stroke-width="0.25">EAS</text>
<line x1="33" y1="177.13" x2="145.4" y2="177.13" stroke="#c4c4c4" stroke-width="1" stroke-dasharray="1 2.4"/>
<line x1="33" y1="183.21" x2="145.4" y2="183.21" stroke="#c4c4c4" stroke-width="1" stroke-dasharray="1 2.4"/>
<line x1="33" y1="198.6" x2="145.4" y2="198.6" stroke="#c4c4c4" stroke-width="1" stroke-dasharray="1 2.4"/>
<line x1="33" y1="207.9" x2="145.4" y2="207.9" stroke="#c4c4c4" stroke-width="1" stroke-dasharray="1 2.4"/>
<line x1="33" y1="223.65" x2="145.4" y2="223.65" stroke="#c4c4c4" stroke-width="1" stroke-dasharray="1 2.4"/>
<line x1="33" y1="230.15" x2="145.4" y2="230.15" stroke="#c4c4c4" stroke-width="1" stroke-dasharray="1 2.4"/>
<line x1="33" y1="236.65" x2="145.4" y2="236.65" stroke="#c4c4c4" stroke-width="1" stroke-dasharray="1 2.4"/>
<line x1="33" y1="249.65" x2="145.4" y2="249.65" stroke="#c4c4c4" stroke-width="1" stroke-dasharray="1 2.4"/>
<line x1="33" y1="256.15" x2="145.4" y2="256.15" stroke="#c4c4c4" stroke-width="1" stroke-dasharray="1 2.4"/>
<line x1="33" y1="272.05" x2="145.4" y2="272.05" stroke="#c4c4c4" stroke-width="1" stroke-dasharray="1 2.4"/>
<line x1="33" y1="281.15" x2="145.4" y2="281.15" stroke="#c4c4c4" stroke-width="1" stroke-dasharray="1 2.4"/>
<line x1="33" y1="299.35" x2="145.4" y2="299.35" stroke="#c4c4c4" stroke-width="1" stroke-dasharray="1 2.4"/>
<line x1="43.1" y1="172.4" x2="43.1" y2="307.5" stroke="#666" stroke-width="0.9" stroke-dasharray="1 2.5"/>
<line x1="54.65" y1="172.4" x2="54.65" y2="307.5" stroke="#666" stroke-width="0.9" stroke-dasharray="1 2.5"/>
<line x1="66.2" y1="172.4" x2="66.2" y2="307.5" stroke="#666" stroke-width="0.9" stroke-dasharray="1 2.5"/>
<line x1="77.75" y1="172.4" x2="77.75" y2="307.5" stroke="#666" stroke-width="0.9" stroke-dasharray="1 2.5"/>
<line x1="89.3" y1="172.4" x2="89.3" y2="307.5" stroke="#666" stroke-width="0.9" stroke-dasharray="1 2.5"/>
<line x1="100.85" y1="172.4" x2="100.85" y2="307.5" stroke="#666" stroke-width="0.9" stroke-dasharray="1 2.5"/>
<line x1="112.4" y1="172.4" x2="112.4" y2="307.5" stroke="#666" stroke-width="0.9" stroke-dasharray="1 2.5"/>
<line x1="123.95" y1="172.4" x2="123.95" y2="307.5" stroke="#666" stroke-width="0.9" stroke-dasharray="1 2.5"/>
<line x1="135.5" y1="172.4" x2="135.5" y2="307.5" stroke="#666" stroke-width="0.9" stroke-dasharray="1 2.5"/>
<line x1="32.5" y1="189.45" x2="145.9" y2="189.45" stroke="#7a7a7a" stroke-width="0.9" stroke-dasharray="2.6 0.6"/>
<line x1="32.5" y1="243.15" x2="145.9" y2="243.15" stroke="#cfcfcf" stroke-width="1.2"/>
<line x1="32.5" y1="290.25" x2="145.9" y2="290.25" stroke="#cfcfcf" stroke-width="1.2"/>
<line x1="149.3" y1="177.13" x2="262.4" y2="177.13" stroke="#c4c4c4" stroke-width="1" stroke-dasharray="1 2.4"/>
<line x1="149.3" y1="183.21" x2="262.4" y2="183.21" stroke="#c4c4c4" stroke-width="1" stroke-dasharray="1 2.4"/>
<line x1="149.3" y1="198.6" x2="262.4" y2="198.6" stroke="#c4c4c4" stroke-width="1" stroke-dasharray="1 2.4"/>
<line x1="149.3" y1="207.9" x2="262.4" y2="207.9" stroke="#c4c4c4" stroke-width="1" stroke-dasharray="1 2.4"/>
<line x1="149.3" y1="223.65" x2="262.4" y2="223.65" stroke="#c4c4c4" stroke-width="1" stroke-dasharray="1 2.4"/>
<line x1="149.3" y1="230.15" x2="262.4" y2="230.15" stroke="#c4c4c4" stroke-width="1" stroke-dasharray="1 2.4"/>
<line x1="149.3" y1="236.65" x2="262.4" y2="236.65" stroke="#c4c4c4" stroke-width="1" stroke-dasharray="1 2.4"/>
<line x1="149.3" y1="249.65" x2="262.4" y2="249.65" stroke="#c4c4c4" stroke-width="1" stroke-dasharray="1 2.4"/>
<line x1="149.3" y1="256.15" x2="262.4" y2="256.15" stroke="#c4c4c4" stroke-width="1" stroke-dasharray="1 2.4"/>
<line x1="149.3" y1="272.05" x2="262.4" y2="272.05" stroke="#c4c4c4" stroke-width="1" stroke-dasharray="1 2.4"/>
<line x1="149.3" y1="281.15" x2="262.4" y2="281.15" stroke="#c4c4c4" stroke-width="1" stroke-dasharray="1 2.4"/>
<line x1="149.3" y1="299.35" x2="262.4" y2="299.35" stroke="#c4c4c4" stroke-width="1" stroke-dasharray="1 2.4"/>
<line x1="160.25" y1="172.4" x2="160.25" y2="307.5" stroke="#666" stroke-width="0.9" stroke-dasharray="1 2.5"/>
<line x1="171.71" y1="172.4" x2="171.71" y2="307.5" stroke="#666" stroke-width="0.9" stroke-dasharray="1 2.5"/>
<line x1="183.17" y1="172.4" x2="183.17" y2="307.5" stroke="#666" stroke-width="0.9" stroke-dasharray="1 2.5"/>
<line x1="194.63" y1="172.4" x2="194.63" y2="307.5" stroke="#666" stroke-width="0.9" stroke-dasharray="1 2.5"/>
<line x1="206.09" y1="172.4" x2="206.09" y2="307.5" stroke="#666" stroke-width="0.9" stroke-dasharray="1 2.5"/>
<line x1="217.55" y1="172.4" x2="217.55" y2="307.5" stroke="#666" stroke-width="0.9" stroke-dasharray="1 2.5"/>
<line x1="229.01" y1="172.4" x2="229.01" y2="307.5" stroke="#666" stroke-width="0.9" stroke-dasharray="1 2.5"/>
<line x1="240.47" y1="172.4" x2="240.47" y2="307.5" stroke="#666" stroke-width="0.9" stroke-dasharray="1 2.5"/>
<line x1="251.93" y1="172.4" x2="251.93" y2="307.5" stroke="#666" stroke-width="0.9" stroke-dasharray="1 2.5"/>
<line x1="148.8" y1="189.45" x2="262.9" y2="189.45" stroke="#7a7a7a" stroke-width="0.9" stroke-dasharray="2.6 0.6"/>
<line x1="148.8" y1="243.15" x2="262.9" y2="243.15" stroke="#cfcfcf" stroke-width="1.2"/>
<line x1="148.8" y1="290.25" x2="262.9" y2="290.25" stroke="#cfcfcf" stroke-width="1.2"/>
<line x1="266.5" y1="177.13" x2="378.9" y2="177.13" stroke="#c4c4c4" stroke-width="1" stroke-dasharray="1 2.4"/>
<line x1="266.5" y1="183.21" x2="378.9" y2="183.21" stroke="#c4c4c4" stroke-width="1" stroke-dasharray="1 2.4"/>
<line x1="266.5" y1="198.6" x2="378.9" y2="198.6" stroke="#c4c4c4" stroke-width="1" stroke-dasharray="1 2.4"/>
<line x1="266.5" y1="207.9" x2="378.9" y2="207.9" stroke="#c4c4c4" stroke-width="1" stroke-dasharray="1 2.4"/>
<line x1="266.5" y1="223.65" x2="378.9" y2="223.65" stroke="#c4c4c4" stroke-width="1" stroke-dasharray="1 2.4"/>
<line x1="266.5" y1="230.15" x2="378.9" y2="230.15" stroke="#c4c4c4" stroke-width="1" stroke-dasharray="1 2.4"/>
<line x1="266.5" y1="236.65" x2="378.9" y2="236.65" stroke="#c4c4c4" stroke-width="1" stroke-dasharray="1 2.4"/>
<line x1="266.5" y1="249.65" x2="378.9" y2="249.65" stroke="#c4c4c4" stroke-width="1" stroke-dasharray="1 2.4"/>
<line x1="266.5" y1="256.15" x2="378.9" y2="256.15" stroke="#c4c4c4" stroke-width="1" stroke-dasharray="1 2.4"/>
<line x1="266.5" y1="272.05" x2="378.9" y2="272.05" stroke="#c4c4c4" stroke-width="1" stroke-dasharray="1 2.4"/>
<line x1="266.5" y1="281.15" x2="378.9" y2="281.15" stroke="#c4c4c4" stroke-width="1" stroke-dasharray="1 2.4"/>
<line x1="266.5" y1="299.35" x2="378.9" y2="299.35" stroke="#c4c4c4" stroke-width="1" stroke-dasharray="1 2.4"/>
<line x1="276.45" y1="172.4" x2="276.45" y2="307.5" stroke="#666" stroke-width="0.9" stroke-dasharray="1 2.5"/>
<line x1="287.95" y1="172.4" x2="287.95" y2="307.5" stroke="#666" stroke-width="0.9" stroke-dasharray="1 2.5"/>
<line x1="299.45" y1="172.4" x2="299.45" y2="307.5" stroke="#666" stroke-width="0.9" stroke-dasharray="1 2.5"/>
<line x1="310.95" y1="172.4" x2="310.95" y2="307.5" stroke="#666" stroke-width="0.9" stroke-dasharray="1 2.5"/>
<line x1="322.45" y1="172.4" x2="322.45" y2="307.5" stroke="#666" stroke-width="0.9" stroke-dasharray="1 2.5"/>
<line x1="333.95" y1="172.4" x2="333.95" y2="307.5" stroke="#666" stroke-width="0.9" stroke-dasharray="1 2.5"/>
<line x1="345.45" y1="172.4" x2="345.45" y2="307.5" stroke="#666" stroke-width="0.9" stroke-dasharray="1 2.5"/>
<line x1="356.95" y1="172.4" x2="356.95" y2="307.5" stroke="#666" stroke-width="0.9" stroke-dasharray="1 2.5"/>
<line x1="368.45" y1="172.4" x2="368.45" y2="307.5" stroke="#666" stroke-width="0.9" stroke-dasharray="1 2.5"/>
<line x1="266" y1="189.45" x2="379.4" y2="189.45" stroke="#7a7a7a" stroke-width="0.9" stroke-dasharray="2.6 0.6"/>
<line x1="266" y1="243.15" x2="379.4" y2="243.15" stroke="#cfcfcf" stroke-width="1.2"/>
<line x1="266" y1="290.25" x2="379.4" y2="290.25" stroke="#cfcfcf" stroke-width="1.2"/>
<rect x="35.5" y="214" width="3.4" height="2.6" fill="#a6a6a6"/>
<line x1="37.2" y1="210.3" x2="37.2" y2="216" stroke="rgba(0,0,0,0.15)" stroke-width="2.2"/>
<line x1="37.2" y1="210.3" x2="37.2" y2="216" stroke="#444" stroke-width="0.9"/>
<line x1="35.8" y1="210.3" x2="38.6" y2="210.3" stroke="#444" stroke-width="1"/>
<line x1="35.8" y1="216" x2="38.6" y2="216" stroke="#444" stroke-width="1"/>
<line x1="35.45" y1="213.05" x2="38.95" y2="216.55" stroke="#111" stroke-width="1.1"/>
<line x1="35.45" y1="216.55" x2="38.95" y2="213.05" stroke="#111" stroke-width="1.1"/>
<circle cx="37.2" cy="212.8" r="1.3" fill="none" stroke="#222" stroke-width="0.8"/>
<line x1="34.8" y1="225.1" x2="34.8" y2="239.3" stroke="rgba(0,0,0,0.12)" stroke-width="2.2"/>
<line x1="34.8" y1="225.1" x2="34.8" y2="239.3" stroke="#6a6a6a" stroke-width="0.8"/>
<line x1="39.6" y1="221.7" x2="39.6" y2="237.1" stroke="rgba(0,0,0,0.12)" stroke-width="2.2"/>
<line x1="39.6" y1="221.7" x2="39.6" y2="237.1" stroke="#6a6a6a" stroke-width="0.8"/>
<rect x="33" y="231.5" width="3.6" height="11.65" fill="#22dd22"/>
<rect x="37.8" y="229.1" width="3.6" height="14.05" fill="#f42424"/>
<line x1="34.8" y1="225.1" x2="34.8" y2="239.3" stroke="rgba(0,0,0,0.35)" stroke-width="0.7"/>
<line x1="33.4" y1="225.1" x2="36.2" y2="225.1" stroke="#2a2a2a" stroke-width="1"/>
<line x1="33.4" y1="239.3" x2="36.2" y2="239.3" stroke="#2a2a2a" stroke-width="1"/>
<line x1="39.6" y1="221.7" x2="39.6" y2="237.1" stroke="rgba(0,0,0,0.35)" stroke-width="0.7"/>
<line x1="38.2" y1="221.7" x2="41" y2="221.7" stroke="#2a2a2a" stroke-width="1"/>
<line x1="38.2" y1="237.1" x2="41" y2="237.1" stroke="#2a2a2a" stroke-width="1"/>
<line x1="37.2" y1="283.4" x2="37.2" y2="291" stroke="rgba(0,0,0,0.16)" stroke-width="2.2"/>
<line x1="37.2" y1="283.4" x2="37.2" y2="291" stroke="#4a4a4a" stroke-width="0.8"/>
<rect x="35" y="287.2" width="4.4" height="3.05" fill="#e6ad1c"/>
<line x1="35.7" y1="283.4" x2="38.7" y2="283.4" stroke="#2a2a2a" stroke-width="1"/>
<line x1="35.7" y1="291" x2="38.7" y2="291" stroke="#2a2a2a" stroke-width="1"/>
<rect x="47.02" y="207.5" width="3.4" height="9.1" fill="#a6a6a6"/>
<line x1="48.72" y1="201.7" x2="48.72" y2="208" stroke="rgba(0,0,0,0.15)" stroke-width="2.2"/>
<line x1="48.72" y1="201.7" x2="48.72" y2="208" stroke="#444" stroke-width="0.9"/>
<line x1="47.32" y1="201.7" x2="50.12" y2="201.7" stroke="#444" stroke-width="1"/>
<line x1="47.32" y1="208" x2="50.12" y2="208" stroke="#444" stroke-width="1"/>
<line x1="46.97" y1="204.95" x2="50.47" y2="208.45" stroke="#111" stroke-width="1.1"/>
<line x1="46.97" y1="208.45" x2="50.47" y2="204.95" stroke="#111" stroke-width="1.1"/>
<circle cx="48.72" cy="204.7" r="1.3" fill="none" stroke="#222" stroke-width="0.8"/>
<line x1="46.32" y1="225" x2="46.32" y2="239.3" stroke="rgba(0,0,0,0.12)" stroke-width="2.2"/>
<line x1="46.32" y1="225" x2="46.32" y2="239.3" stroke="#6a6a6a" stroke-width="0.8"/>
<line x1="51.12" y1="221.1" x2="51.12" y2="237.7" stroke="rgba(0,0,0,0.12)" stroke-width="2.2"/>
<line x1="51.12" y1="221.1" x2="51.12" y2="237.7" stroke="#6a6a6a" stroke-width="0.8"/>
<rect x="44.52" y="231.7" width="3.6" height="11.45" fill="#22dd22"/>
<rect x="49.32" y="229" width="3.6" height="14.15" fill="#f42424"/>
<line x1="46.32" y1="225" x2="46.32" y2="239.3" stroke="rgba(0,0,0,0.35)" stroke-width="0.7"/>
<line x1="44.92" y1="225" x2="47.72" y2="225" stroke="#2a2a2a" stroke-width="1"/>
<line x1="44.92" y1="239.3" x2="47.72" y2="239.3" stroke="#2a2a2a" stroke-width="1"/>
<line x1="51.12" y1="221.1" x2="51.12" y2="237.7" stroke="rgba(0,0,0,0.35)" stroke-width="0.7"/>
<line x1="49.72" y1="221.1" x2="52.52" y2="221.1" stroke="#2a2a2a" stroke-width="1"/>
<line x1="49.72" y1="237.7" x2="52.52" y2="237.7" stroke="#2a2a2a" stroke-width="1"/>
<line x1="48.72" y1="283.4" x2="48.72" y2="291" stroke="rgba(0,0,0,0.16)" stroke-width="2.2"/>
<line x1="48.72" y1="283.4" x2="48.72" y2="291" stroke="#4a4a4a" stroke-width="0.8"/>
<rect x="46.52" y="287.2" width="4.4" height="3.05" fill="#e6ad1c"/>
<line x1="47.22" y1="283.4" x2="50.22" y2="283.4" stroke="#2a2a2a" stroke-width="1"/>
<line x1="47.22" y1="291" x2="50.22" y2="291" stroke="#2a2a2a" stroke-width="1"/>
<rect x="58.53" y="205.5" width="3.4" height="11.1" fill="#a6a6a6"/>
<line x1="60.23" y1="198.6" x2="60.23" y2="205" stroke="rgba(0,0,0,0.15)" stroke-width="2.2"/>
<line x1="60.23" y1="198.6" x2="60.23" y2="205" stroke="#444" stroke-width="0.9"/>
<line x1="58.83" y1="198.6" x2="61.63" y2="198.6" stroke="#444" stroke-width="1"/>
<line x1="58.83" y1="205" x2="61.63" y2="205" stroke="#444" stroke-width="1"/>
<line x1="58.48" y1="201.95" x2="61.98" y2="205.45" stroke="#111" stroke-width="1.1"/>
<line x1="58.48" y1="205.45" x2="61.98" y2="201.95" stroke="#111" stroke-width="1.1"/>
<circle cx="60.23" cy="201.2" r="1.3" fill="none" stroke="#222" stroke-width="0.8"/>
<line x1="57.83" y1="225" x2="57.83" y2="239.3" stroke="rgba(0,0,0,0.12)" stroke-width="2.2"/>
<line x1="57.83" y1="225" x2="57.83" y2="239.3" stroke="#6a6a6a" stroke-width="0.8"/>
<line x1="62.63" y1="221.1" x2="62.63" y2="237.7" stroke="rgba(0,0,0,0.12)" stroke-width="2.2"/>
<line x1="62.63" y1="221.1" x2="62.63" y2="237.7" stroke="#6a6a6a" stroke-width="0.8"/>
<rect x="56.03" y="231.7" width="3.6" height="11.45" fill="#22dd22"/>
<rect x="60.83" y="229" width="3.6" height="14.15" fill="#f42424"/>
<line x1="57.83" y1="225" x2="57.83" y2="239.3" stroke="rgba(0,0,0,0.35)" stroke-width="0.7"/>
<line x1="56.43" y1="225" x2="59.23" y2="225" stroke="#2a2a2a" stroke-width="1"/>
<line x1="56.43" y1="239.3" x2="59.23" y2="239.3" stroke="#2a2a2a" stroke-width="1"/>
<line x1="62.63" y1="221.1" x2="62.63" y2="237.7" stroke="rgba(0,0,0,0.35)" stroke-width="0.7"/>
<line x1="61.23" y1="221.1" x2="64.03" y2="221.1" stroke="#2a2a2a" stroke-width="1"/>
<line x1="61.23" y1="237.7" x2="64.03" y2="237.7" stroke="#2a2a2a" stroke-width="1"/>
<line x1="60.23" y1="283.4" x2="60.23" y2="291" stroke="rgba(0,0,0,0.16)" stroke-width="2.2"/>
<line x1="60.23" y1="283.4" x2="60.23" y2="291" stroke="#4a4a4a" stroke-width="0.8"/>
<rect x="58.03" y="287.2" width="4.4" height="3.05" fill="#e6ad1c"/>
<line x1="58.73" y1="283.4" x2="61.73" y2="283.4" stroke="#2a2a2a" stroke-width="1"/>
<line x1="58.73" y1="291" x2="61.73" y2="291" stroke="#2a2a2a" stroke-width="1"/>
<rect x="70.05" y="203.6" width="3.4" height="13" fill="#a6a6a6"/>
<line x1="71.75" y1="196.2" x2="71.75" y2="203" stroke="rgba(0,0,0,0.15)" stroke-width="2.2"/>
<line x1="71.75" y1="196.2" x2="71.75" y2="203" stroke="#444" stroke-width="0.9"/>
<line x1="70.35" y1="196.2" x2="73.15" y2="196.2" stroke="#444" stroke-width="1"/>
<line x1="70.35" y1="203" x2="73.15" y2="203" stroke="#444" stroke-width="1"/>
<line x1="70" y1="199.95" x2="73.5" y2="203.45" stroke="#111" stroke-width="1.1"/>
<line x1="70" y1="203.45" x2="73.5" y2="199.95" stroke="#111" stroke-width="1.1"/>
<circle cx="71.75" cy="199.7" r="1.3" fill="none" stroke="#222" stroke-width="0.8"/>
<line x1="69.35" y1="225" x2="69.35" y2="239.3" stroke="rgba(0,0,0,0.12)" stroke-width="2.2"/>
<line x1="69.35" y1="225" x2="69.35" y2="239.3" stroke="#6a6a6a" stroke-width="0.8"/>
<line x1="74.15" y1="221.1" x2="74.15" y2="237.7" stroke="rgba(0,0,0,0.12)" stroke-width="2.2"/>
<line x1="74.15" y1="221.1" x2="74.15" y2="237.7" stroke="#6a6a6a" stroke-width="0.8"/>
<rect x="67.55" y="231.7" width="3.6" height="11.45" fill="#22dd22"/>
<rect x="72.35" y="229" width="3.6" height="14.15" fill="#f42424"/>
<line x1="69.35" y1="225" x2="69.35" y2="239.3" stroke="rgba(0,0,0,0.35)" stroke-width="0.7"/>
<line x1="67.95" y1="225" x2="70.75" y2="225" stroke="#2a2a2a" stroke-width="1"/>
<line x1="67.95" y1="239.3" x2="70.75" y2="239.3" stroke="#2a2a2a" stroke-width="1"/>
<line x1="74.15" y1="221.1" x2="74.15" y2="237.7" stroke="rgba(0,0,0,0.35)" stroke-width="0.7"/>
<line x1="72.75" y1="221.1" x2="75.55" y2="221.1" stroke="#2a2a2a" stroke-width="1"/>
<line x1="72.75" y1="237.7" x2="75.55" y2="237.7" stroke="#2a2a2a" stroke-width="1"/>
<line x1="71.75" y1="283.4" x2="71.75" y2="291" stroke="rgba(0,0,0,0.16)" stroke-width="2.2"/>
<line x1="71.75" y1="283.4" x2="71.75" y2="291" stroke="#4a4a4a" stroke-width="0.8"/>
<rect x="69.55" y="287.2" width="4.4" height="3.05" fill="#e6ad1c"/>
<line x1="70.25" y1="283.4" x2="73.25" y2="283.4" stroke="#2a2a2a" stroke-width="1"/>
<line x1="70.25" y1="291" x2="73.25" y2="291" stroke="#2a2a2a" stroke-width="1"/>
<rect x="81.56" y="202.6" width="3.4" height="14" fill="#a6a6a6"/>
<line x1="83.26" y1="195.4" x2="83.26" y2="202" stroke="rgba(0,0,0,0.15)" stroke-width="2.2"/>
<line x1="83.26" y1="195.4" x2="83.26" y2="202" stroke="#444" stroke-width="0.9"/>
<line x1="81.86" y1="195.4" x2="84.66" y2="195.4" stroke="#444" stroke-width="1"/>
<line x1="81.86" y1="202" x2="84.66" y2="202" stroke="#444" stroke-width="1"/>
<line x1="81.51" y1="198.95" x2="85.01" y2="202.45" stroke="#111" stroke-width="1.1"/>
<line x1="81.51" y1="202.45" x2="85.01" y2="198.95" stroke="#111" stroke-width="1.1"/>
<circle cx="83.26" cy="198.7" r="1.3" fill="none" stroke="#222" stroke-width="0.8"/>
<line x1="80.86" y1="225" x2="80.86" y2="239.3" stroke="rgba(0,0,0,0.12)" stroke-width="2.2"/>
<line x1="80.86" y1="225" x2="80.86" y2="239.3" stroke="#6a6a6a" stroke-width="0.8"/>
<line x1="85.66" y1="221.1" x2="85.66" y2="237.7" stroke="rgba(0,0,0,0.12)" stroke-width="2.2"/>
<line x1="85.66" y1="221.1" x2="85.66" y2="237.7" stroke="#6a6a6a" stroke-width="0.8"/>
<rect x="79.06" y="231.7" width="3.6" height="11.45" fill="#22dd22"/>
<rect x="83.86" y="229" width="3.6" height="14.15" fill="#f42424"/>
<line x1="80.86" y1="225" x2="80.86" y2="239.3" stroke="rgba(0,0,0,0.35)" stroke-width="0.7"/>
<line x1="79.46" y1="225" x2="82.26" y2="225" stroke="#2a2a2a" stroke-width="1"/>
<line x1="79.46" y1="239.3" x2="82.26" y2="239.3" stroke="#2a2a2a" stroke-width="1"/>
<line x1="85.66" y1="221.1" x2="85.66" y2="237.7" stroke="rgba(0,0,0,0.35)" stroke-width="0.7"/>
<line x1="84.26" y1="221.1" x2="87.06" y2="221.1" stroke="#2a2a2a" stroke-width="1"/>
<line x1="84.26" y1="237.7" x2="87.06" y2="237.7" stroke="#2a2a2a" stroke-width="1"/>
<line x1="83.26" y1="282.2" x2="83.26" y2="292.2" stroke="rgba(0,0,0,0.16)" stroke-width="2.2"/>
<line x1="83.26" y1="282.2" x2="83.26" y2="292.2" stroke="#4a4a4a" stroke-width="0.8"/>
<rect x="81.06" y="287.2" width="4.4" height="3.05" fill="#e6ad1c"/>
<line x1="81.76" y1="282.2" x2="84.76" y2="282.2" stroke="#2a2a2a" stroke-width="1"/>
<line x1="81.76" y1="292.2" x2="84.76" y2="292.2" stroke="#2a2a2a" stroke-width="1"/>
<rect x="93.08" y="200.6" width="3.4" height="16" fill="#a6a6a6"/>
<line x1="94.78" y1="194.2" x2="94.78" y2="200" stroke="rgba(0,0,0,0.15)" stroke-width="2.2"/>
<line x1="94.78" y1="194.2" x2="94.78" y2="200" stroke="#444" stroke-width="0.9"/>
<line x1="93.38" y1="194.2" x2="96.18" y2="194.2" stroke="#444" stroke-width="1"/>
<line x1="93.38" y1="200" x2="96.18" y2="200" stroke="#444" stroke-width="1"/>
<line x1="93.03" y1="196.95" x2="96.53" y2="200.45" stroke="#111" stroke-width="1.1"/>
<line x1="93.03" y1="200.45" x2="96.53" y2="196.95" stroke="#111" stroke-width="1.1"/>
<circle cx="94.78" cy="197.2" r="1.3" fill="none" stroke="#222" stroke-width="0.8"/>
<line x1="92.38" y1="221.9" x2="92.38" y2="239" stroke="rgba(0,0,0,0.12)" stroke-width="2.2"/>
<line x1="92.38" y1="221.9" x2="92.38" y2="239" stroke="#6a6a6a" stroke-width="0.8"/>
<line x1="97.18" y1="221.9" x2="97.18" y2="234.3" stroke="rgba(0,0,0,0.12)" stroke-width="2.2"/>
<line x1="97.18" y1="221.9" x2="97.18" y2="234.3" stroke="#6a6a6a" stroke-width="0.8"/>
<rect x="90.58" y="230.6" width="3.6" height="12.55" fill="#22dd22"/>
<rect x="95.38" y="228.2" width="3.6" height="14.95" fill="#f42424"/>
<line x1="92.38" y1="221.9" x2="92.38" y2="239" stroke="rgba(0,0,0,0.35)" stroke-width="0.7"/>
<line x1="90.98" y1="221.9" x2="93.78" y2="221.9" stroke="#2a2a2a" stroke-width="1"/>
<line x1="90.98" y1="239" x2="93.78" y2="239" stroke="#2a2a2a" stroke-width="1"/>
<line x1="97.18" y1="221.9" x2="97.18" y2="234.3" stroke="rgba(0,0,0,0.35)" stroke-width="0.7"/>
<line x1="95.78" y1="221.9" x2="98.58" y2="221.9" stroke="#2a2a2a" stroke-width="1"/>
<line x1="95.78" y1="234.3" x2="98.58" y2="234.3" stroke="#2a2a2a" stroke-width="1"/>
<line x1="94.78" y1="283.7" x2="94.78" y2="291.7" stroke="rgba(0,0,0,0.16)" stroke-width="2.2"/>
<line x1="94.78" y1="283.7" x2="94.78" y2="291.7" stroke="#4a4a4a" stroke-width="0.8"/>
<rect x="92.58" y="287.7" width="4.4" height="2.55" fill="#e6ad1c"/>
<line x1="93.28" y1="283.7" x2="96.28" y2="283.7" stroke="#2a2a2a" stroke-width="1"/>
<line x1="93.28" y1="291.7" x2="96.28" y2="291.7" stroke="#2a2a2a" stroke-width="1"/>
<rect x="104.6" y="192.1" width="3.4" height="24.5" fill="#a6a6a6"/>
<line x1="106.3" y1="191.5" x2="106.3" y2="194" stroke="rgba(0,0,0,0.15)" stroke-width="2.2"/>
<line x1="106.3" y1="191.5" x2="106.3" y2="194" stroke="#444" stroke-width="0.9"/>
<line x1="104.9" y1="191.5" x2="107.7" y2="191.5" stroke="#444" stroke-width="1"/>
<line x1="104.9" y1="194" x2="107.7" y2="194" stroke="#444" stroke-width="1"/>
<line x1="104.55" y1="193.35" x2="108.05" y2="196.85" stroke="#111" stroke-width="1.1"/>
<line x1="104.55" y1="196.85" x2="108.05" y2="193.35" stroke="#111" stroke-width="1.1"/>
<line x1="103.9" y1="221.1" x2="103.9" y2="237.7" stroke="rgba(0,0,0,0.12)" stroke-width="2.2"/>
<line x1="103.9" y1="221.1" x2="103.9" y2="237.7" stroke="#6a6a6a" stroke-width="0.8"/>
<line x1="108.7" y1="222.2" x2="108.7" y2="234.3" stroke="rgba(0,0,0,0.12)" stroke-width="2.2"/>
<line x1="108.7" y1="222.2" x2="108.7" y2="234.3" stroke="#6a6a6a" stroke-width="0.8"/>
<rect x="102.1" y="230.6" width="3.6" height="12.55" fill="#22dd22"/>
<rect x="106.9" y="229.3" width="3.6" height="13.85" fill="#f42424"/>
<line x1="103.9" y1="221.1" x2="103.9" y2="237.7" stroke="rgba(0,0,0,0.35)" stroke-width="0.7"/>
<line x1="102.5" y1="221.1" x2="105.3" y2="221.1" stroke="#2a2a2a" stroke-width="1"/>
<line x1="102.5" y1="237.7" x2="105.3" y2="237.7" stroke="#2a2a2a" stroke-width="1"/>
<line x1="108.7" y1="222.2" x2="108.7" y2="234.3" stroke="rgba(0,0,0,0.35)" stroke-width="0.7"/>
<line x1="107.3" y1="222.2" x2="110.1" y2="222.2" stroke="#2a2a2a" stroke-width="1"/>
<line x1="107.3" y1="234.3" x2="110.1" y2="234.3" stroke="#2a2a2a" stroke-width="1"/>
<line x1="106.3" y1="284.5" x2="106.3" y2="291.9" stroke="rgba(0,0,0,0.16)" stroke-width="2.2"/>
<line x1="106.3" y1="284.5" x2="106.3" y2="291.9" stroke="#4a4a4a" stroke-width="0.8"/>
<rect x="104.1" y="288.2" width="4.4" height="2.05" fill="#e6ad1c"/>
<line x1="104.8" y1="284.5" x2="107.8" y2="284.5" stroke="#2a2a2a" stroke-width="1"/>
<line x1="104.8" y1="291.9" x2="107.8" y2="291.9" stroke="#2a2a2a" stroke-width="1"/>
<rect x="116.11" y="190.3" width="3.4" height="26.3" fill="#a6a6a6"/>
<line x1="117.81" y1="189.1" x2="117.81" y2="192" stroke="rgba(0,0,0,0.15)" stroke-width="2.2"/>
<line x1="117.81" y1="189.1" x2="117.81" y2="192" stroke="#444" stroke-width="0.9"/>
<line x1="116.41" y1="189.1" x2="119.21" y2="189.1" stroke="#444" stroke-width="1"/>
<line x1="116.41" y1="192" x2="119.21" y2="192" stroke="#444" stroke-width="1"/>
<line x1="116.06" y1="190.35" x2="119.56" y2="193.85" stroke="#111" stroke-width="1.1"/>
<line x1="116.06" y1="193.85" x2="119.56" y2="190.35" stroke="#111" stroke-width="1.1"/>
<line x1="115.41" y1="221.9" x2="115.41" y2="238" stroke="rgba(0,0,0,0.12)" stroke-width="2.2"/>
<line x1="115.41" y1="221.9" x2="115.41" y2="238" stroke="#6a6a6a" stroke-width="0.8"/>
<line x1="120.21" y1="223.5" x2="120.21" y2="234" stroke="rgba(0,0,0,0.12)" stroke-width="2.2"/>
<line x1="120.21" y1="223.5" x2="120.21" y2="234" stroke="#6a6a6a" stroke-width="0.8"/>
<rect x="113.61" y="231.1" width="3.6" height="12.05" fill="#22dd22"/>
<rect x="118.41" y="229.5" width="3.6" height="13.65" fill="#f42424"/>
<line x1="115.41" y1="221.9" x2="115.41" y2="238" stroke="rgba(0,0,0,0.35)" stroke-width="0.7"/>
<line x1="114.01" y1="221.9" x2="116.81" y2="221.9" stroke="#2a2a2a" stroke-width="1"/>
<line x1="114.01" y1="238" x2="116.81" y2="238" stroke="#2a2a2a" stroke-width="1"/>
<line x1="120.21" y1="223.5" x2="120.21" y2="234" stroke="rgba(0,0,0,0.35)" stroke-width="0.7"/>
<line x1="118.81" y1="223.5" x2="121.61" y2="223.5" stroke="#2a2a2a" stroke-width="1"/>
<line x1="118.81" y1="234" x2="121.61" y2="234" stroke="#2a2a2a" stroke-width="1"/>
<line x1="117.81" y1="285.3" x2="117.81" y2="291.7" stroke="rgba(0,0,0,0.16)" stroke-width="2.2"/>
<line x1="117.81" y1="285.3" x2="117.81" y2="291.7" stroke="#4a4a4a" stroke-width="0.8"/>
<rect x="115.61" y="288.5" width="4.4" height="1.75" fill="#e6ad1c"/>
<line x1="116.31" y1="285.3" x2="119.31" y2="285.3" stroke="#2a2a2a" stroke-width="1"/>
<line x1="116.31" y1="291.7" x2="119.31" y2="291.7" stroke="#2a2a2a" stroke-width="1"/>
<rect x="127.63" y="188.5" width="3.4" height="28.1" fill="#a6a6a6"/>
<line x1="129.33" y1="187.5" x2="129.33" y2="190" stroke="rgba(0,0,0,0.15)" stroke-width="2.2"/>
<line x1="129.33" y1="187.5" x2="129.33" y2="190" stroke="#444" stroke-width="0.9"/>
<line x1="127.93" y1="187.5" x2="130.73" y2="187.5" stroke="#444" stroke-width="1"/>
<line x1="127.93" y1="190" x2="130.73" y2="190" stroke="#444" stroke-width="1"/>
<line x1="127.58" y1="188.35" x2="131.08" y2="191.85" stroke="#111" stroke-width="1.1"/>
<line x1="127.58" y1="191.85" x2="131.08" y2="188.35" stroke="#111" stroke-width="1.1"/>
<line x1="126.93" y1="223" x2="126.93" y2="238" stroke="rgba(0,0,0,0.12)" stroke-width="2.2"/>
<line x1="126.93" y1="223" x2="126.93" y2="238" stroke="#6a6a6a" stroke-width="0.8"/>
<line x1="131.73" y1="224.4" x2="131.73" y2="236" stroke="rgba(0,0,0,0.12)" stroke-width="2.2"/>
<line x1="131.73" y1="224.4" x2="131.73" y2="236" stroke="#6a6a6a" stroke-width="0.8"/>
<rect x="125.13" y="231.4" width="3.6" height="11.75" fill="#22dd22"/>
<rect x="129.93" y="229.8" width="3.6" height="13.35" fill="#f42424"/>
<line x1="126.93" y1="223" x2="126.93" y2="238" stroke="rgba(0,0,0,0.35)" stroke-width="0.7"/>
<line x1="125.53" y1="223" x2="128.33" y2="223" stroke="#2a2a2a" stroke-width="1"/>
<line x1="125.53" y1="238" x2="128.33" y2="238" stroke="#2a2a2a" stroke-width="1"/>
<line x1="131.73" y1="224.4" x2="131.73" y2="236" stroke="rgba(0,0,0,0.35)" stroke-width="0.7"/>
<line x1="130.33" y1="224.4" x2="133.13" y2="224.4" stroke="#2a2a2a" stroke-width="1"/>
<line x1="130.33" y1="236" x2="133.13" y2="236" stroke="#2a2a2a" stroke-width="1"/>
<line x1="129.33" y1="286.1" x2="129.33" y2="290.3" stroke="rgba(0,0,0,0.16)" stroke-width="2.2"/>
<line x1="129.33" y1="286.1" x2="129.33" y2="290.3" stroke="#4a4a4a" stroke-width="0.8"/>
<rect x="127.13" y="288.2" width="4.4" height="2.05" fill="#e6ad1c"/>
<line x1="127.83" y1="286.1" x2="130.83" y2="286.1" stroke="#2a2a2a" stroke-width="1"/>
<line x1="127.83" y1="290.3" x2="130.83" y2="290.3" stroke="#2a2a2a" stroke-width="1"/>
<rect x="139.14" y="187" width="3.4" height="29.6" fill="#a6a6a6"/>
<line x1="140.84" y1="186" x2="140.84" y2="188.5" stroke="rgba(0,0,0,0.15)" stroke-width="2.2"/>
<line x1="140.84" y1="186" x2="140.84" y2="188.5" stroke="#444" stroke-width="0.9"/>
<line x1="139.44" y1="186" x2="142.24" y2="186" stroke="#444" stroke-width="1"/>
<line x1="139.44" y1="188.5" x2="142.24" y2="188.5" stroke="#444" stroke-width="1"/>
<line x1="139.09" y1="186.25" x2="142.59" y2="189.75" stroke="#111" stroke-width="1.1"/>
<line x1="139.09" y1="189.75" x2="142.59" y2="186.25" stroke="#111" stroke-width="1.1"/>
<line x1="138.44" y1="226.3" x2="138.44" y2="239.3" stroke="rgba(0,0,0,0.12)" stroke-width="2.2"/>
<line x1="138.44" y1="226.3" x2="138.44" y2="239.3" stroke="#6a6a6a" stroke-width="0.8"/>
<line x1="143.24" y1="225.9" x2="143.24" y2="236.2" stroke="rgba(0,0,0,0.12)" stroke-width="2.2"/>
<line x1="143.24" y1="225.9" x2="143.24" y2="236.2" stroke="#6a6a6a" stroke-width="0.8"/>
<rect x="136.64" y="233" width="3.6" height="10.15" fill="#22dd22"/>
<rect x="141.44" y="231.1" width="3.6" height="12.05" fill="#f42424"/>
<line x1="138.44" y1="226.3" x2="138.44" y2="239.3" stroke="rgba(0,0,0,0.35)" stroke-width="0.7"/>
<line x1="137.04" y1="226.3" x2="139.84" y2="226.3" stroke="#2a2a2a" stroke-width="1"/>
<line x1="137.04" y1="239.3" x2="139.84" y2="239.3" stroke="#2a2a2a" stroke-width="1"/>
<line x1="143.24" y1="225.9" x2="143.24" y2="236.2" stroke="rgba(0,0,0,0.35)" stroke-width="0.7"/>
<line x1="141.84" y1="225.9" x2="144.64" y2="225.9" stroke="#2a2a2a" stroke-width="1"/>
<line x1="141.84" y1="236.2" x2="144.64" y2="236.2" stroke="#2a2a2a" stroke-width="1"/>
<line x1="140.84" y1="286.1" x2="140.84" y2="288.7" stroke="rgba(0,0,0,0.16)" stroke-width="2.2"/>
<line x1="140.84" y1="286.1" x2="140.84" y2="288.7" stroke="#4a4a4a" stroke-width="0.8"/>
<rect x="138.64" y="287.4" width="4.4" height="2.85" fill="#e6ad1c"/>
<line x1="139.34" y1="286.1" x2="142.34" y2="286.1" stroke="#2a2a2a" stroke-width="1"/>
<line x1="139.34" y1="288.7" x2="142.34" y2="288.7" stroke="#2a2a2a" stroke-width="1"/>
<rect x="152" y="188.8" width="3.4" height="27.8" fill="#a6a6a6"/>
<line x1="153.7" y1="186.8" x2="153.7" y2="190.3" stroke="rgba(0,0,0,0.15)" stroke-width="2.2"/>
<line x1="153.7" y1="186.8" x2="153.7" y2="190.3" stroke="#444" stroke-width="0.9"/>
<line x1="152.3" y1="186.8" x2="155.1" y2="186.8" stroke="#444" stroke-width="1"/>
<line x1="152.3" y1="190.3" x2="155.1" y2="190.3" stroke="#444" stroke-width="1"/>
<line x1="151.95" y1="185.55" x2="155.45" y2="189.05" stroke="#111" stroke-width="1.1"/>
<line x1="151.95" y1="189.05" x2="155.45" y2="185.55" stroke="#111" stroke-width="1.1"/>
<line x1="151.3" y1="226.7" x2="151.3" y2="239" stroke="rgba(0,0,0,0.12)" stroke-width="2.2"/>
<line x1="151.3" y1="226.7" x2="151.3" y2="239" stroke="#6a6a6a" stroke-width="0.8"/>
<line x1="156.1" y1="225.9" x2="156.1" y2="236.2" stroke="rgba(0,0,0,0.12)" stroke-width="2.2"/>
<line x1="156.1" y1="225.9" x2="156.1" y2="236.2" stroke="#6a6a6a" stroke-width="0.8"/>
<rect x="149.5" y="233" width="3.6" height="10.15" fill="#22dd22"/>
<rect x="154.3" y="231.1" width="3.6" height="12.05" fill="#f42424"/>
<line x1="151.3" y1="226.7" x2="151.3" y2="239" stroke="rgba(0,0,0,0.35)" stroke-width="0.7"/>
<line x1="149.9" y1="226.7" x2="152.7" y2="226.7" stroke="#2a2a2a" stroke-width="1"/>
<line x1="149.9" y1="239" x2="152.7" y2="239" stroke="#2a2a2a" stroke-width="1"/>
<line x1="156.1" y1="225.9" x2="156.1" y2="236.2" stroke="rgba(0,0,0,0.35)" stroke-width="0.7"/>
<line x1="154.7" y1="225.9" x2="157.5" y2="225.9" stroke="#2a2a2a" stroke-width="1"/>
<line x1="154.7" y1="236.2" x2="157.5" y2="236.2" stroke="#2a2a2a" stroke-width="1"/>
<line x1="153.7" y1="283.8" x2="153.7" y2="288.8" stroke="rgba(0,0,0,0.16)" stroke-width="2.2"/>
<line x1="153.7" y1="283.8" x2="153.7" y2="288.8" stroke="#4a4a4a" stroke-width="0.8"/>
<rect x="151.5" y="286.3" width="4.4" height="3.95" fill="#e6ad1c"/>
<line x1="152.2" y1="283.8" x2="155.2" y2="283.8" stroke="#2a2a2a" stroke-width="1"/>
<line x1="152.2" y1="288.8" x2="155.2" y2="288.8" stroke="#2a2a2a" stroke-width="1"/>
<rect x="163.52" y="188.8" width="3.4" height="27.8" fill="#a6a6a6"/>
<line x1="165.22" y1="186.8" x2="165.22" y2="190.3" stroke="rgba(0,0,0,0.15)" stroke-width="2.2"/>
<line x1="165.22" y1="186.8" x2="165.22" y2="190.3" stroke="#444" stroke-width="0.9"/>
<line x1="163.82" y1="186.8" x2="166.62" y2="186.8" stroke="#444" stroke-width="1"/>
<line x1="163.82" y1="190.3" x2="166.62" y2="190.3" stroke="#444" stroke-width="1"/>
<line x1="163.47" y1="185.55" x2="166.97" y2="189.05" stroke="#111" stroke-width="1.1"/>
<line x1="163.47" y1="189.05" x2="166.97" y2="185.55" stroke="#111" stroke-width="1.1"/>
<line x1="162.82" y1="226.7" x2="162.82" y2="239" stroke="rgba(0,0,0,0.12)" stroke-width="2.2"/>
<line x1="162.82" y1="226.7" x2="162.82" y2="239" stroke="#6a6a6a" stroke-width="0.8"/>
<line x1="167.62" y1="225.9" x2="167.62" y2="236.2" stroke="rgba(0,0,0,0.12)" stroke-width="2.2"/>
<line x1="167.62" y1="225.9" x2="167.62" y2="236.2" stroke="#6a6a6a" stroke-width="0.8"/>
<rect x="161.02" y="233" width="3.6" height="10.15" fill="#22dd22"/>
<rect x="165.82" y="231.1" width="3.6" height="12.05" fill="#f42424"/>
<line x1="162.82" y1="226.7" x2="162.82" y2="239" stroke="rgba(0,0,0,0.35)" stroke-width="0.7"/>
<line x1="161.42" y1="226.7" x2="164.22" y2="226.7" stroke="#2a2a2a" stroke-width="1"/>
<line x1="161.42" y1="239" x2="164.22" y2="239" stroke="#2a2a2a" stroke-width="1"/>
<line x1="167.62" y1="225.9" x2="167.62" y2="236.2" stroke="rgba(0,0,0,0.35)" stroke-width="0.7"/>
<line x1="166.22" y1="225.9" x2="169.02" y2="225.9" stroke="#2a2a2a" stroke-width="1"/>
<line x1="166.22" y1="236.2" x2="169.02" y2="236.2" stroke="#2a2a2a" stroke-width="1"/>
<line x1="165.22" y1="283.55" x2="165.22" y2="288.65" stroke="rgba(0,0,0,0.16)" stroke-width="2.2"/>
<line x1="165.22" y1="283.55" x2="165.22" y2="288.65" stroke="#4a4a4a" stroke-width="0.8"/>
<rect x="163.02" y="286.1" width="4.4" height="4.15" fill="#e6ad1c"/>
<line x1="163.72" y1="283.55" x2="166.72" y2="283.55" stroke="#2a2a2a" stroke-width="1"/>
<line x1="163.72" y1="288.65" x2="166.72" y2="288.65" stroke="#2a2a2a" stroke-width="1"/>
<rect x="175.04" y="188.8" width="3.4" height="27.8" fill="#a6a6a6"/>
<line x1="176.74" y1="186.8" x2="176.74" y2="190.3" stroke="rgba(0,0,0,0.15)" stroke-width="2.2"/>
<line x1="176.74" y1="186.8" x2="176.74" y2="190.3" stroke="#444" stroke-width="0.9"/>
<line x1="175.34" y1="186.8" x2="178.14" y2="186.8" stroke="#444" stroke-width="1"/>
<line x1="175.34" y1="190.3" x2="178.14" y2="190.3" stroke="#444" stroke-width="1"/>
<line x1="174.99" y1="185.55" x2="178.49" y2="189.05" stroke="#111" stroke-width="1.1"/>
<line x1="174.99" y1="189.05" x2="178.49" y2="185.55" stroke="#111" stroke-width="1.1"/>
<line x1="174.34" y1="226.7" x2="174.34" y2="239" stroke="rgba(0,0,0,0.12)" stroke-width="2.2"/>
<line x1="174.34" y1="226.7" x2="174.34" y2="239" stroke="#6a6a6a" stroke-width="0.8"/>
<line x1="179.14" y1="225.9" x2="179.14" y2="236.2" stroke="rgba(0,0,0,0.12)" stroke-width="2.2"/>
<line x1="179.14" y1="225.9" x2="179.14" y2="236.2" stroke="#6a6a6a" stroke-width="0.8"/>
<rect x="172.54" y="233" width="3.6" height="10.15" fill="#22dd22"/>
<rect x="177.34" y="231.1" width="3.6" height="12.05" fill="#f42424"/>
<line x1="174.34" y1="226.7" x2="174.34" y2="239" stroke="rgba(0,0,0,0.35)" stroke-width="0.7"/>
<line x1="172.94" y1="226.7" x2="175.74" y2="226.7" stroke="#2a2a2a" stroke-width="1"/>
<line x1="172.94" y1="239" x2="175.74" y2="239" stroke="#2a2a2a" stroke-width="1"/>
<line x1="179.14" y1="225.9" x2="179.14" y2="236.2" stroke="rgba(0,0,0,0.35)" stroke-width="0.7"/>
<line x1="177.74" y1="225.9" x2="180.54" y2="225.9" stroke="#2a2a2a" stroke-width="1"/>
<line x1="177.74" y1="236.2" x2="180.54" y2="236.2" stroke="#2a2a2a" stroke-width="1"/>
<line x1="176.74" y1="283.3" x2="176.74" y2="288.5" stroke="rgba(0,0,0,0.16)" stroke-width="2.2"/>
<line x1="176.74" y1="283.3" x2="176.74" y2="288.5" stroke="#4a4a4a" stroke-width="0.8"/>
<rect x="174.54" y="285.9" width="4.4" height="4.35" fill="#e6ad1c"/>
<line x1="175.24" y1="283.3" x2="178.24" y2="283.3" stroke="#2a2a2a" stroke-width="1"/>
<line x1="175.24" y1="288.5" x2="178.24" y2="288.5" stroke="#2a2a2a" stroke-width="1"/>
<rect x="186.56" y="188.8" width="3.4" height="27.8" fill="#a6a6a6"/>
<line x1="188.26" y1="186.8" x2="188.26" y2="190.3" stroke="rgba(0,0,0,0.15)" stroke-width="2.2"/>
<line x1="188.26" y1="186.8" x2="188.26" y2="190.3" stroke="#444" stroke-width="0.9"/>
<line x1="186.86" y1="186.8" x2="189.66" y2="186.8" stroke="#444" stroke-width="1"/>
<line x1="186.86" y1="190.3" x2="189.66" y2="190.3" stroke="#444" stroke-width="1"/>
<line x1="186.51" y1="185.55" x2="190.01" y2="189.05" stroke="#111" stroke-width="1.1"/>
<line x1="186.51" y1="189.05" x2="190.01" y2="185.55" stroke="#111" stroke-width="1.1"/>
<line x1="185.86" y1="226.7" x2="185.86" y2="239" stroke="rgba(0,0,0,0.12)" stroke-width="2.2"/>
<line x1="185.86" y1="226.7" x2="185.86" y2="239" stroke="#6a6a6a" stroke-width="0.8"/>
<line x1="190.66" y1="225.9" x2="190.66" y2="236.2" stroke="rgba(0,0,0,0.12)" stroke-width="2.2"/>
<line x1="190.66" y1="225.9" x2="190.66" y2="236.2" stroke="#6a6a6a" stroke-width="0.8"/>
<rect x="184.06" y="233" width="3.6" height="10.15" fill="#22dd22"/>
<rect x="188.86" y="231.1" width="3.6" height="12.05" fill="#f42424"/>
<line x1="185.86" y1="226.7" x2="185.86" y2="239" stroke="rgba(0,0,0,0.35)" stroke-width="0.7"/>
<line x1="184.46" y1="226.7" x2="187.26" y2="226.7" stroke="#2a2a2a" stroke-width="1"/>
<line x1="184.46" y1="239" x2="187.26" y2="239" stroke="#2a2a2a" stroke-width="1"/>
<line x1="190.66" y1="225.9" x2="190.66" y2="236.2" stroke="rgba(0,0,0,0.35)" stroke-width="0.7"/>
<line x1="189.26" y1="225.9" x2="192.06" y2="225.9" stroke="#2a2a2a" stroke-width="1"/>
<line x1="189.26" y1="236.2" x2="192.06" y2="236.2" stroke="#2a2a2a" stroke-width="1"/>
<line x1="188.26" y1="283.05" x2="188.26" y2="288.35" stroke="rgba(0,0,0,0.16)" stroke-width="2.2"/>
<line x1="188.26" y1="283.05" x2="188.26" y2="288.35" stroke="#4a4a4a" stroke-width="0.8"/>
<rect x="186.06" y="285.7" width="4.4" height="4.55" fill="#e6ad1c"/>
<line x1="186.76" y1="283.05" x2="189.76" y2="283.05" stroke="#2a2a2a" stroke-width="1"/>
<line x1="186.76" y1="288.35" x2="189.76" y2="288.35" stroke="#2a2a2a" stroke-width="1"/>
<rect x="198.08" y="188.8" width="3.4" height="27.8" fill="#a6a6a6"/>
<line x1="199.78" y1="186.8" x2="199.78" y2="190.3" stroke="rgba(0,0,0,0.15)" stroke-width="2.2"/>
<line x1="199.78" y1="186.8" x2="199.78" y2="190.3" stroke="#444" stroke-width="0.9"/>
<line x1="198.38" y1="186.8" x2="201.18" y2="186.8" stroke="#444" stroke-width="1"/>
<line x1="198.38" y1="190.3" x2="201.18" y2="190.3" stroke="#444" stroke-width="1"/>
<line x1="198.03" y1="185.55" x2="201.53" y2="189.05" stroke="#111" stroke-width="1.1"/>
<line x1="198.03" y1="189.05" x2="201.53" y2="185.55" stroke="#111" stroke-width="1.1"/>
<line x1="197.38" y1="226.7" x2="197.38" y2="239" stroke="rgba(0,0,0,0.12)" stroke-width="2.2"/>
<line x1="197.38" y1="226.7" x2="197.38" y2="239" stroke="#6a6a6a" stroke-width="0.8"/>
<line x1="202.18" y1="225.9" x2="202.18" y2="236.2" stroke="rgba(0,0,0,0.12)" stroke-width="2.2"/>
<line x1="202.18" y1="225.9" x2="202.18" y2="236.2" stroke="#6a6a6a" stroke-width="0.8"/>
<rect x="195.58" y="233" width="3.6" height="10.15" fill="#22dd22"/>
<rect x="200.38" y="231.1" width="3.6" height="12.05" fill="#f42424"/>
<line x1="197.38" y1="226.7" x2="197.38" y2="239" stroke="rgba(0,0,0,0.35)" stroke-width="0.7"/>
<line x1="195.98" y1="226.7" x2="198.78" y2="226.7" stroke="#2a2a2a" stroke-width="1"/>
<line x1="195.98" y1="239" x2="198.78" y2="239" stroke="#2a2a2a" stroke-width="1"/>
<line x1="202.18" y1="225.9" x2="202.18" y2="236.2" stroke="rgba(0,0,0,0.35)" stroke-width="0.7"/>
<line x1="200.78" y1="225.9" x2="203.58" y2="225.9" stroke="#2a2a2a" stroke-width="1"/>
<line x1="200.78" y1="236.2" x2="203.58" y2="236.2" stroke="#2a2a2a" stroke-width="1"/>
<line x1="199.78" y1="282.8" x2="199.78" y2="288.2" stroke="rgba(0,0,0,0.16)" stroke-width="2.2"/>
<line x1="199.78" y1="282.8" x2="199.78" y2="288.2" stroke="#4a4a4a" stroke-width="0.8"/>
<rect x="197.58" y="285.5" width="4.4" height="4.75" fill="#e6ad1c"/>
<line x1="198.28" y1="282.8" x2="201.28" y2="282.8" stroke="#2a2a2a" stroke-width="1"/>
<line x1="198.28" y1="288.2" x2="201.28" y2="288.2" stroke="#2a2a2a" stroke-width="1"/>
<rect x="209.6" y="188.2" width="3.4" height="28.4" fill="#a6a6a6"/>
<line x1="211.3" y1="186.2" x2="211.3" y2="189.7" stroke="rgba(0,0,0,0.15)" stroke-width="2.2"/>
<line x1="211.3" y1="186.2" x2="211.3" y2="189.7" stroke="#444" stroke-width="0.9"/>
<line x1="209.9" y1="186.2" x2="212.7" y2="186.2" stroke="#444" stroke-width="1"/>
<line x1="209.9" y1="189.7" x2="212.7" y2="189.7" stroke="#444" stroke-width="1"/>
<line x1="209.55" y1="184.95" x2="213.05" y2="188.45" stroke="#111" stroke-width="1.1"/>
<line x1="209.55" y1="188.45" x2="213.05" y2="184.95" stroke="#111" stroke-width="1.1"/>
<line x1="208.9" y1="229.3" x2="208.9" y2="239.3" stroke="rgba(0,0,0,0.12)" stroke-width="2.2"/>
<line x1="208.9" y1="229.3" x2="208.9" y2="239.3" stroke="#6a6a6a" stroke-width="0.8"/>
<line x1="213.7" y1="226.7" x2="213.7" y2="237.7" stroke="rgba(0,0,0,0.12)" stroke-width="2.2"/>
<line x1="213.7" y1="226.7" x2="213.7" y2="237.7" stroke="#6a6a6a" stroke-width="0.8"/>
<rect x="207.1" y="234.6" width="3.6" height="8.55" fill="#22dd22"/>
<rect x="211.9" y="231.9" width="3.6" height="11.25" fill="#f42424"/>
<line x1="208.9" y1="229.3" x2="208.9" y2="239.3" stroke="rgba(0,0,0,0.35)" stroke-width="0.7"/>
<line x1="207.5" y1="229.3" x2="210.3" y2="229.3" stroke="#2a2a2a" stroke-width="1"/>
<line x1="207.5" y1="239.3" x2="210.3" y2="239.3" stroke="#2a2a2a" stroke-width="1"/>
<line x1="213.7" y1="226.7" x2="213.7" y2="237.7" stroke="rgba(0,0,0,0.35)" stroke-width="0.7"/>
<line x1="212.3" y1="226.7" x2="215.1" y2="226.7" stroke="#2a2a2a" stroke-width="1"/>
<line x1="212.3" y1="237.7" x2="215.1" y2="237.7" stroke="#2a2a2a" stroke-width="1"/>
<line x1="211.3" y1="282.55" x2="211.3" y2="288.05" stroke="rgba(0,0,0,0.16)" stroke-width="2.2"/>
<line x1="211.3" y1="282.55" x2="211.3" y2="288.05" stroke="#4a4a4a" stroke-width="0.8"/>
<rect x="209.1" y="285.3" width="4.4" height="4.95" fill="#e6ad1c"/>
<line x1="209.8" y1="282.55" x2="212.8" y2="282.55" stroke="#2a2a2a" stroke-width="1"/>
<line x1="209.8" y1="288.05" x2="212.8" y2="288.05" stroke="#2a2a2a" stroke-width="1"/>
<rect x="221.12" y="187.7" width="3.4" height="28.9" fill="#a6a6a6"/>
<line x1="222.82" y1="185.7" x2="222.82" y2="189.2" stroke="rgba(0,0,0,0.15)" stroke-width="2.2"/>
<line x1="222.82" y1="185.7" x2="222.82" y2="189.2" stroke="#444" stroke-width="0.9"/>
<line x1="221.42" y1="185.7" x2="224.22" y2="185.7" stroke="#444" stroke-width="1"/>
<line x1="221.42" y1="189.2" x2="224.22" y2="189.2" stroke="#444" stroke-width="1"/>
<line x1="221.07" y1="184.45" x2="224.57" y2="187.95" stroke="#111" stroke-width="1.1"/>
<line x1="221.07" y1="187.95" x2="224.57" y2="184.45" stroke="#111" stroke-width="1.1"/>
<line x1="220.42" y1="229.3" x2="220.42" y2="239.3" stroke="rgba(0,0,0,0.12)" stroke-width="2.2"/>
<line x1="220.42" y1="229.3" x2="220.42" y2="239.3" stroke="#6a6a6a" stroke-width="0.8"/>
<line x1="225.22" y1="226.7" x2="225.22" y2="237.7" stroke="rgba(0,0,0,0.12)" stroke-width="2.2"/>
<line x1="225.22" y1="226.7" x2="225.22" y2="237.7" stroke="#6a6a6a" stroke-width="0.8"/>
<rect x="218.62" y="234.6" width="3.6" height="8.55" fill="#22dd22"/>
<rect x="223.42" y="231.9" width="3.6" height="11.25" fill="#f42424"/>
<line x1="220.42" y1="229.3" x2="220.42" y2="239.3" stroke="rgba(0,0,0,0.35)" stroke-width="0.7"/>
<line x1="219.02" y1="229.3" x2="221.82" y2="229.3" stroke="#2a2a2a" stroke-width="1"/>
<line x1="219.02" y1="239.3" x2="221.82" y2="239.3" stroke="#2a2a2a" stroke-width="1"/>
<line x1="225.22" y1="226.7" x2="225.22" y2="237.7" stroke="rgba(0,0,0,0.35)" stroke-width="0.7"/>
<line x1="223.82" y1="226.7" x2="226.62" y2="226.7" stroke="#2a2a2a" stroke-width="1"/>
<line x1="223.82" y1="237.7" x2="226.62" y2="237.7" stroke="#2a2a2a" stroke-width="1"/>
<line x1="222.82" y1="282.3" x2="222.82" y2="287.9" stroke="rgba(0,0,0,0.16)" stroke-width="2.2"/>
<line x1="222.82" y1="282.3" x2="222.82" y2="287.9" stroke="#4a4a4a" stroke-width="0.8"/>
<rect x="220.62" y="285.1" width="4.4" height="5.15" fill="#e6ad1c"/>
<line x1="221.32" y1="282.3" x2="224.32" y2="282.3" stroke="#2a2a2a" stroke-width="1"/>
<line x1="221.32" y1="287.9" x2="224.32" y2="287.9" stroke="#2a2a2a" stroke-width="1"/>
<rect x="232.64" y="186.1" width="3.4" height="30.5" fill="#a6a6a6"/>
<line x1="234.34" y1="184.1" x2="234.34" y2="187.6" stroke="rgba(0,0,0,0.15)" stroke-width="2.2"/>
<line x1="234.34" y1="184.1" x2="234.34" y2="187.6" stroke="#444" stroke-width="0.9"/>
<line x1="232.94" y1="184.1" x2="235.74" y2="184.1" stroke="#444" stroke-width="1"/>
<line x1="232.94" y1="187.6" x2="235.74" y2="187.6" stroke="#444" stroke-width="1"/>
<line x1="232.59" y1="182.85" x2="236.09" y2="186.35" stroke="#111" stroke-width="1.1"/>
<line x1="232.59" y1="186.35" x2="236.09" y2="182.85" stroke="#111" stroke-width="1.1"/>
<line x1="231.94" y1="229.3" x2="231.94" y2="239.3" stroke="rgba(0,0,0,0.12)" stroke-width="2.2"/>
<line x1="231.94" y1="229.3" x2="231.94" y2="239.3" stroke="#6a6a6a" stroke-width="0.8"/>
<line x1="236.74" y1="226.7" x2="236.74" y2="237.7" stroke="rgba(0,0,0,0.12)" stroke-width="2.2"/>
<line x1="236.74" y1="226.7" x2="236.74" y2="237.7" stroke="#6a6a6a" stroke-width="0.8"/>
<rect x="230.14" y="234.6" width="3.6" height="8.55" fill="#22dd22"/>
<rect x="234.94" y="231.9" width="3.6" height="11.25" fill="#f42424"/>
<line x1="231.94" y1="229.3" x2="231.94" y2="239.3" stroke="rgba(0,0,0,0.35)" stroke-width="0.7"/>
<line x1="230.54" y1="229.3" x2="233.34" y2="229.3" stroke="#2a2a2a" stroke-width="1"/>
<line x1="230.54" y1="239.3" x2="233.34" y2="239.3" stroke="#2a2a2a" stroke-width="1"/>
<line x1="236.74" y1="226.7" x2="236.74" y2="237.7" stroke="rgba(0,0,0,0.35)" stroke-width="0.7"/>
<line x1="235.34" y1="226.7" x2="238.14" y2="226.7" stroke="#2a2a2a" stroke-width="1"/>
<line x1="235.34" y1="237.7" x2="238.14" y2="237.7" stroke="#2a2a2a" stroke-width="1"/>
<line x1="234.34" y1="282.05" x2="234.34" y2="287.75" stroke="rgba(0,0,0,0.16)" stroke-width="2.2"/>
<line x1="234.34" y1="282.05" x2="234.34" y2="287.75" stroke="#4a4a4a" stroke-width="0.8"/>
<rect x="232.14" y="284.9" width="4.4" height="5.35" fill="#e6ad1c"/>
<line x1="232.84" y1="282.05" x2="235.84" y2="282.05" stroke="#2a2a2a" stroke-width="1"/>
<line x1="232.84" y1="287.75" x2="235.84" y2="287.75" stroke="#2a2a2a" stroke-width="1"/>
<rect x="244.16" y="185.3" width="3.4" height="31.3" fill="#a6a6a6"/>
<line x1="245.86" y1="183.3" x2="245.86" y2="186.8" stroke="rgba(0,0,0,0.15)" stroke-width="2.2"/>
<line x1="245.86" y1="183.3" x2="245.86" y2="186.8" stroke="#444" stroke-width="0.9"/>
<line x1="244.46" y1="183.3" x2="247.26" y2="183.3" stroke="#444" stroke-width="1"/>
<line x1="244.46" y1="186.8" x2="247.26" y2="186.8" stroke="#444" stroke-width="1"/>
<line x1="244.11" y1="182.05" x2="247.61" y2="185.55" stroke="#111" stroke-width="1.1"/>
<line x1="244.11" y1="185.55" x2="247.61" y2="182.05" stroke="#111" stroke-width="1.1"/>
<line x1="243.46" y1="229.3" x2="243.46" y2="239.3" stroke="rgba(0,0,0,0.12)" stroke-width="2.2"/>
<line x1="243.46" y1="229.3" x2="243.46" y2="239.3" stroke="#6a6a6a" stroke-width="0.8"/>
<line x1="248.26" y1="226.7" x2="248.26" y2="237.7" stroke="rgba(0,0,0,0.12)" stroke-width="2.2"/>
<line x1="248.26" y1="226.7" x2="248.26" y2="237.7" stroke="#6a6a6a" stroke-width="0.8"/>
<rect x="241.66" y="234.6" width="3.6" height="8.55" fill="#22dd22"/>
<rect x="246.46" y="231.9" width="3.6" height="11.25" fill="#f42424"/>
<line x1="243.46" y1="229.3" x2="243.46" y2="239.3" stroke="rgba(0,0,0,0.35)" stroke-width="0.7"/>
<line x1="242.06" y1="229.3" x2="244.86" y2="229.3" stroke="#2a2a2a" stroke-width="1"/>
<line x1="242.06" y1="239.3" x2="244.86" y2="239.3" stroke="#2a2a2a" stroke-width="1"/>
<line x1="248.26" y1="226.7" x2="248.26" y2="237.7" stroke="rgba(0,0,0,0.35)" stroke-width="0.7"/>
<line x1="246.86" y1="226.7" x2="249.66" y2="226.7" stroke="#2a2a2a" stroke-width="1"/>
<line x1="246.86" y1="237.7" x2="249.66" y2="237.7" stroke="#2a2a2a" stroke-width="1"/>
<line x1="245.86" y1="281.8" x2="245.86" y2="287.6" stroke="rgba(0,0,0,0.16)" stroke-width="2.2"/>
<line x1="245.86" y1="281.8" x2="245.86" y2="287.6" stroke="#4a4a4a" stroke-width="0.8"/>
<rect x="243.66" y="284.7" width="4.4" height="5.55" fill="#e6ad1c"/>
<line x1="244.36" y1="281.8" x2="247.36" y2="281.8" stroke="#2a2a2a" stroke-width="1"/>
<line x1="244.36" y1="287.6" x2="247.36" y2="287.6" stroke="#2a2a2a" stroke-width="1"/>
<rect x="255.68" y="184.1" width="3.4" height="32.5" fill="#a6a6a6"/>
<line x1="257.38" y1="182.1" x2="257.38" y2="185.6" stroke="rgba(0,0,0,0.15)" stroke-width="2.2"/>
<line x1="257.38" y1="182.1" x2="257.38" y2="185.6" stroke="#444" stroke-width="0.9"/>
<line x1="255.98" y1="182.1" x2="258.78" y2="182.1" stroke="#444" stroke-width="1"/>
<line x1="255.98" y1="185.6" x2="258.78" y2="185.6" stroke="#444" stroke-width="1"/>
<line x1="255.63" y1="180.85" x2="259.13" y2="184.35" stroke="#111" stroke-width="1.1"/>
<line x1="255.63" y1="184.35" x2="259.13" y2="180.85" stroke="#111" stroke-width="1.1"/>
<line x1="254.98" y1="229.3" x2="254.98" y2="239.3" stroke="rgba(0,0,0,0.12)" stroke-width="2.2"/>
<line x1="254.98" y1="229.3" x2="254.98" y2="239.3" stroke="#6a6a6a" stroke-width="0.8"/>
<line x1="259.78" y1="225.9" x2="259.78" y2="237.7" stroke="rgba(0,0,0,0.12)" stroke-width="2.2"/>
<line x1="259.78" y1="225.9" x2="259.78" y2="237.7" stroke="#6a6a6a" stroke-width="0.8"/>
<rect x="253.18" y="234.6" width="3.6" height="8.55" fill="#22dd22"/>
<rect x="257.98" y="230.6" width="3.6" height="12.55" fill="#f42424"/>
<line x1="254.98" y1="229.3" x2="254.98" y2="239.3" stroke="rgba(0,0,0,0.35)" stroke-width="0.7"/>
<line x1="253.58" y1="229.3" x2="256.38" y2="229.3" stroke="#2a2a2a" stroke-width="1"/>
<line x1="253.58" y1="239.3" x2="256.38" y2="239.3" stroke="#2a2a2a" stroke-width="1"/>
<line x1="259.78" y1="225.9" x2="259.78" y2="237.7" stroke="rgba(0,0,0,0.35)" stroke-width="0.7"/>
<line x1="258.38" y1="225.9" x2="261.18" y2="225.9" stroke="#2a2a2a" stroke-width="1"/>
<line x1="258.38" y1="237.7" x2="261.18" y2="237.7" stroke="#2a2a2a" stroke-width="1"/>
<line x1="257.38" y1="281.55" x2="257.38" y2="287.45" stroke="rgba(0,0,0,0.16)" stroke-width="2.2"/>
<line x1="257.38" y1="281.55" x2="257.38" y2="287.45" stroke="#4a4a4a" stroke-width="0.8"/>
<rect x="255.18" y="284.5" width="4.4" height="5.75" fill="#e6ad1c"/>
<line x1="255.88" y1="281.55" x2="258.88" y2="281.55" stroke="#2a2a2a" stroke-width="1"/>
<line x1="255.88" y1="287.45" x2="258.88" y2="287.45" stroke="#2a2a2a" stroke-width="1"/>
<rect x="268.25" y="184.6" width="3.4" height="32" fill="#a6a6a6"/>
<line x1="269.95" y1="181.6" x2="269.95" y2="187.1" stroke="rgba(0,0,0,0.15)" stroke-width="2.2"/>
<line x1="269.95" y1="181.6" x2="269.95" y2="187.1" stroke="#444" stroke-width="0.9"/>
<line x1="268.55" y1="181.6" x2="271.35" y2="181.6" stroke="#444" stroke-width="1"/>
<line x1="268.55" y1="187.1" x2="271.35" y2="187.1" stroke="#444" stroke-width="1"/>
<line x1="268.2" y1="180.85" x2="271.7" y2="184.35" stroke="#111" stroke-width="1.1"/>
<line x1="268.2" y1="184.35" x2="271.7" y2="180.85" stroke="#111" stroke-width="1.1"/>
<line x1="267.55" y1="230.1" x2="267.55" y2="238.5" stroke="rgba(0,0,0,0.12)" stroke-width="2.2"/>
<line x1="267.55" y1="230.1" x2="267.55" y2="238.5" stroke="#6a6a6a" stroke-width="0.8"/>
<line x1="272.35" y1="225.9" x2="272.35" y2="238.5" stroke="rgba(0,0,0,0.12)" stroke-width="2.2"/>
<line x1="272.35" y1="225.9" x2="272.35" y2="238.5" stroke="#6a6a6a" stroke-width="0.8"/>
<rect x="265.75" y="234.9" width="3.6" height="8.25" fill="#22dd22"/>
<rect x="270.55" y="230.6" width="3.6" height="12.55" fill="#f42424"/>
<line x1="267.55" y1="230.1" x2="267.55" y2="238.5" stroke="rgba(0,0,0,0.35)" stroke-width="0.7"/>
<line x1="266.15" y1="230.1" x2="268.95" y2="230.1" stroke="#2a2a2a" stroke-width="1"/>
<line x1="266.15" y1="238.5" x2="268.95" y2="238.5" stroke="#2a2a2a" stroke-width="1"/>
<line x1="272.35" y1="225.9" x2="272.35" y2="238.5" stroke="rgba(0,0,0,0.35)" stroke-width="0.7"/>
<line x1="270.95" y1="225.9" x2="273.75" y2="225.9" stroke="#2a2a2a" stroke-width="1"/>
<line x1="270.95" y1="238.5" x2="273.75" y2="238.5" stroke="#2a2a2a" stroke-width="1"/>
<line x1="269.95" y1="281" x2="269.95" y2="287" stroke="rgba(0,0,0,0.16)" stroke-width="2.2"/>
<line x1="269.95" y1="281" x2="269.95" y2="287" stroke="#4a4a4a" stroke-width="0.8"/>
<rect x="267.75" y="284" width="4.4" height="6.25" fill="#e6ad1c"/>
<line x1="268.45" y1="281" x2="271.45" y2="281" stroke="#2a2a2a" stroke-width="1"/>
<line x1="268.45" y1="287" x2="271.45" y2="287" stroke="#2a2a2a" stroke-width="1"/>
<rect x="279.8" y="184.6" width="3.4" height="32" fill="#a6a6a6"/>
<line x1="281.5" y1="181.6" x2="281.5" y2="187.1" stroke="rgba(0,0,0,0.15)" stroke-width="2.2"/>
<line x1="281.5" y1="181.6" x2="281.5" y2="187.1" stroke="#444" stroke-width="0.9"/>
<line x1="280.1" y1="181.6" x2="282.9" y2="181.6" stroke="#444" stroke-width="1"/>
<line x1="280.1" y1="187.1" x2="282.9" y2="187.1" stroke="#444" stroke-width="1"/>
<line x1="279.75" y1="180.85" x2="283.25" y2="184.35" stroke="#111" stroke-width="1.1"/>
<line x1="279.75" y1="184.35" x2="283.25" y2="180.85" stroke="#111" stroke-width="1.1"/>
<line x1="279.1" y1="230.1" x2="279.1" y2="238.5" stroke="rgba(0,0,0,0.12)" stroke-width="2.2"/>
<line x1="279.1" y1="230.1" x2="279.1" y2="238.5" stroke="#6a6a6a" stroke-width="0.8"/>
<line x1="283.9" y1="225.9" x2="283.9" y2="238.5" stroke="rgba(0,0,0,0.12)" stroke-width="2.2"/>
<line x1="283.9" y1="225.9" x2="283.9" y2="238.5" stroke="#6a6a6a" stroke-width="0.8"/>
<rect x="277.3" y="234.9" width="3.6" height="8.25" fill="#22dd22"/>
<rect x="282.1" y="230.6" width="3.6" height="12.55" fill="#f42424"/>
<line x1="279.1" y1="230.1" x2="279.1" y2="238.5" stroke="rgba(0,0,0,0.35)" stroke-width="0.7"/>
<line x1="277.7" y1="230.1" x2="280.5" y2="230.1" stroke="#2a2a2a" stroke-width="1"/>
<line x1="277.7" y1="238.5" x2="280.5" y2="238.5" stroke="#2a2a2a" stroke-width="1"/>
<line x1="283.9" y1="225.9" x2="283.9" y2="238.5" stroke="rgba(0,0,0,0.35)" stroke-width="0.7"/>
<line x1="282.5" y1="225.9" x2="285.3" y2="225.9" stroke="#2a2a2a" stroke-width="1"/>
<line x1="282.5" y1="238.5" x2="285.3" y2="238.5" stroke="#2a2a2a" stroke-width="1"/>
<line x1="281.5" y1="281" x2="281.5" y2="287" stroke="rgba(0,0,0,0.16)" stroke-width="2.2"/>
<line x1="281.5" y1="281" x2="281.5" y2="287" stroke="#4a4a4a" stroke-width="0.8"/>
<rect x="279.3" y="284" width="4.4" height="6.25" fill="#e6ad1c"/>
<line x1="280" y1="281" x2="283" y2="281" stroke="#2a2a2a" stroke-width="1"/>
<line x1="280" y1="287" x2="283" y2="287" stroke="#2a2a2a" stroke-width="1"/>
<rect x="291.34" y="184.6" width="3.4" height="32" fill="#a6a6a6"/>
<line x1="293.04" y1="181.6" x2="293.04" y2="187.1" stroke="rgba(0,0,0,0.15)" stroke-width="2.2"/>
<line x1="293.04" y1="181.6" x2="293.04" y2="187.1" stroke="#444" stroke-width="0.9"/>
<line x1="291.64" y1="181.6" x2="294.44" y2="181.6" stroke="#444" stroke-width="1"/>
<line x1="291.64" y1="187.1" x2="294.44" y2="187.1" stroke="#444" stroke-width="1"/>
<line x1="291.29" y1="180.85" x2="294.79" y2="184.35" stroke="#111" stroke-width="1.1"/>
<line x1="291.29" y1="184.35" x2="294.79" y2="180.85" stroke="#111" stroke-width="1.1"/>
<line x1="290.64" y1="230.1" x2="290.64" y2="238.5" stroke="rgba(0,0,0,0.12)" stroke-width="2.2"/>
<line x1="290.64" y1="230.1" x2="290.64" y2="238.5" stroke="#6a6a6a" stroke-width="0.8"/>
<line x1="295.44" y1="225.9" x2="295.44" y2="238.5" stroke="rgba(0,0,0,0.12)" stroke-width="2.2"/>
<line x1="295.44" y1="225.9" x2="295.44" y2="238.5" stroke="#6a6a6a" stroke-width="0.8"/>
<rect x="288.84" y="234.9" width="3.6" height="8.25" fill="#22dd22"/>
<rect x="293.64" y="230.6" width="3.6" height="12.55" fill="#f42424"/>
<line x1="290.64" y1="230.1" x2="290.64" y2="238.5" stroke="rgba(0,0,0,0.35)" stroke-width="0.7"/>
<line x1="289.24" y1="230.1" x2="292.04" y2="230.1" stroke="#2a2a2a" stroke-width="1"/>
<line x1="289.24" y1="238.5" x2="292.04" y2="238.5" stroke="#2a2a2a" stroke-width="1"/>
<line x1="295.44" y1="225.9" x2="295.44" y2="238.5" stroke="rgba(0,0,0,0.35)" stroke-width="0.7"/>
<line x1="294.04" y1="225.9" x2="296.84" y2="225.9" stroke="#2a2a2a" stroke-width="1"/>
<line x1="294.04" y1="238.5" x2="296.84" y2="238.5" stroke="#2a2a2a" stroke-width="1"/>
<line x1="293.04" y1="281" x2="293.04" y2="287" stroke="rgba(0,0,0,0.16)" stroke-width="2.2"/>
<line x1="293.04" y1="281" x2="293.04" y2="287" stroke="#4a4a4a" stroke-width="0.8"/>
<rect x="290.84" y="284" width="4.4" height="6.25" fill="#e6ad1c"/>
<line x1="291.54" y1="281" x2="294.54" y2="281" stroke="#2a2a2a" stroke-width="1"/>
<line x1="291.54" y1="287" x2="294.54" y2="287" stroke="#2a2a2a" stroke-width="1"/>
<rect x="302.89" y="184.6" width="3.4" height="32" fill="#a6a6a6"/>
<line x1="304.59" y1="181.6" x2="304.59" y2="187.1" stroke="rgba(0,0,0,0.15)" stroke-width="2.2"/>
<line x1="304.59" y1="181.6" x2="304.59" y2="187.1" stroke="#444" stroke-width="0.9"/>
<line x1="303.19" y1="181.6" x2="305.99" y2="181.6" stroke="#444" stroke-width="1"/>
<line x1="303.19" y1="187.1" x2="305.99" y2="187.1" stroke="#444" stroke-width="1"/>
<line x1="302.84" y1="180.85" x2="306.34" y2="184.35" stroke="#111" stroke-width="1.1"/>
<line x1="302.84" y1="184.35" x2="306.34" y2="180.85" stroke="#111" stroke-width="1.1"/>
<line x1="302.19" y1="230.1" x2="302.19" y2="238.5" stroke="rgba(0,0,0,0.12)" stroke-width="2.2"/>
<line x1="302.19" y1="230.1" x2="302.19" y2="238.5" stroke="#6a6a6a" stroke-width="0.8"/>
<line x1="306.99" y1="225.1" x2="306.99" y2="238.5" stroke="rgba(0,0,0,0.12)" stroke-width="2.2"/>
<line x1="306.99" y1="225.1" x2="306.99" y2="238.5" stroke="#6a6a6a" stroke-width="0.8"/>
<rect x="300.39" y="234.9" width="3.6" height="8.25" fill="#22dd22"/>
<rect x="305.19" y="230.6" width="3.6" height="12.55" fill="#f42424"/>
<line x1="302.19" y1="230.1" x2="302.19" y2="238.5" stroke="rgba(0,0,0,0.35)" stroke-width="0.7"/>
<line x1="300.79" y1="230.1" x2="303.59" y2="230.1" stroke="#2a2a2a" stroke-width="1"/>
<line x1="300.79" y1="238.5" x2="303.59" y2="238.5" stroke="#2a2a2a" stroke-width="1"/>
<line x1="306.99" y1="225.1" x2="306.99" y2="238.5" stroke="rgba(0,0,0,0.35)" stroke-width="0.7"/>
<line x1="305.59" y1="225.1" x2="308.39" y2="225.1" stroke="#2a2a2a" stroke-width="1"/>
<line x1="305.59" y1="238.5" x2="308.39" y2="238.5" stroke="#2a2a2a" stroke-width="1"/>
<line x1="304.59" y1="281" x2="304.59" y2="287" stroke="rgba(0,0,0,0.16)" stroke-width="2.2"/>
<line x1="304.59" y1="281" x2="304.59" y2="287" stroke="#4a4a4a" stroke-width="0.8"/>
<rect x="302.39" y="284" width="4.4" height="6.25" fill="#e6ad1c"/>
<line x1="303.09" y1="281" x2="306.09" y2="281" stroke="#2a2a2a" stroke-width="1"/>
<line x1="303.09" y1="287" x2="306.09" y2="287" stroke="#2a2a2a" stroke-width="1"/>
<rect x="314.43" y="183.5" width="3.4" height="33.1" fill="#a6a6a6"/>
<line x1="316.13" y1="180.5" x2="316.13" y2="186" stroke="rgba(0,0,0,0.15)" stroke-width="2.2"/>
<line x1="316.13" y1="180.5" x2="316.13" y2="186" stroke="#444" stroke-width="0.9"/>
<line x1="314.73" y1="180.5" x2="317.53" y2="180.5" stroke="#444" stroke-width="1"/>
<line x1="314.73" y1="186" x2="317.53" y2="186" stroke="#444" stroke-width="1"/>
<line x1="314.38" y1="179.75" x2="317.88" y2="183.25" stroke="#111" stroke-width="1.1"/>
<line x1="314.38" y1="183.25" x2="317.88" y2="179.75" stroke="#111" stroke-width="1.1"/>
<line x1="313.73" y1="230.1" x2="313.73" y2="238.5" stroke="rgba(0,0,0,0.12)" stroke-width="2.2"/>
<line x1="313.73" y1="230.1" x2="313.73" y2="238.5" stroke="#6a6a6a" stroke-width="0.8"/>
<line x1="318.53" y1="225.1" x2="318.53" y2="238.5" stroke="rgba(0,0,0,0.12)" stroke-width="2.2"/>
<line x1="318.53" y1="225.1" x2="318.53" y2="238.5" stroke="#6a6a6a" stroke-width="0.8"/>
<rect x="311.93" y="234.9" width="3.6" height="8.25" fill="#22dd22"/>
<rect x="316.73" y="230.6" width="3.6" height="12.55" fill="#f42424"/>
<line x1="313.73" y1="230.1" x2="313.73" y2="238.5" stroke="rgba(0,0,0,0.35)" stroke-width="0.7"/>
<line x1="312.33" y1="230.1" x2="315.13" y2="230.1" stroke="#2a2a2a" stroke-width="1"/>
<line x1="312.33" y1="238.5" x2="315.13" y2="238.5" stroke="#2a2a2a" stroke-width="1"/>
<line x1="318.53" y1="225.1" x2="318.53" y2="238.5" stroke="rgba(0,0,0,0.35)" stroke-width="0.7"/>
<line x1="317.13" y1="225.1" x2="319.93" y2="225.1" stroke="#2a2a2a" stroke-width="1"/>
<line x1="317.13" y1="238.5" x2="319.93" y2="238.5" stroke="#2a2a2a" stroke-width="1"/>
<line x1="316.13" y1="281" x2="316.13" y2="287" stroke="rgba(0,0,0,0.16)" stroke-width="2.2"/>
<line x1="316.13" y1="281" x2="316.13" y2="287" stroke="#4a4a4a" stroke-width="0.8"/>
<rect x="313.93" y="284" width="4.4" height="6.25" fill="#e6ad1c"/>
<line x1="314.63" y1="281" x2="317.63" y2="281" stroke="#2a2a2a" stroke-width="1"/>
<line x1="314.63" y1="287" x2="317.63" y2="287" stroke="#2a2a2a" stroke-width="1"/>
<rect x="325.98" y="183.1" width="3.4" height="33.5" fill="#a6a6a6"/>
<line x1="327.68" y1="180.1" x2="327.68" y2="185.6" stroke="rgba(0,0,0,0.15)" stroke-width="2.2"/>
<line x1="327.68" y1="180.1" x2="327.68" y2="185.6" stroke="#444" stroke-width="0.9"/>
<line x1="326.28" y1="180.1" x2="329.08" y2="180.1" stroke="#444" stroke-width="1"/>
<line x1="326.28" y1="185.6" x2="329.08" y2="185.6" stroke="#444" stroke-width="1"/>
<line x1="325.93" y1="179.35" x2="329.43" y2="182.85" stroke="#111" stroke-width="1.1"/>
<line x1="325.93" y1="182.85" x2="329.43" y2="179.35" stroke="#111" stroke-width="1.1"/>
<line x1="325.28" y1="229.8" x2="325.28" y2="239.3" stroke="rgba(0,0,0,0.12)" stroke-width="2.2"/>
<line x1="325.28" y1="229.8" x2="325.28" y2="239.3" stroke="#6a6a6a" stroke-width="0.8"/>
<line x1="330.08" y1="224.8" x2="330.08" y2="238.5" stroke="rgba(0,0,0,0.12)" stroke-width="2.2"/>
<line x1="330.08" y1="224.8" x2="330.08" y2="238.5" stroke="#6a6a6a" stroke-width="0.8"/>
<rect x="323.48" y="234.9" width="3.6" height="8.25" fill="#22dd22"/>
<rect x="328.28" y="230.3" width="3.6" height="12.85" fill="#f42424"/>
<line x1="325.28" y1="229.8" x2="325.28" y2="239.3" stroke="rgba(0,0,0,0.35)" stroke-width="0.7"/>
<line x1="323.88" y1="229.8" x2="326.68" y2="229.8" stroke="#2a2a2a" stroke-width="1"/>
<line x1="323.88" y1="239.3" x2="326.68" y2="239.3" stroke="#2a2a2a" stroke-width="1"/>
<line x1="330.08" y1="224.8" x2="330.08" y2="238.5" stroke="rgba(0,0,0,0.35)" stroke-width="0.7"/>
<line x1="328.68" y1="224.8" x2="331.48" y2="224.8" stroke="#2a2a2a" stroke-width="1"/>
<line x1="328.68" y1="238.5" x2="331.48" y2="238.5" stroke="#2a2a2a" stroke-width="1"/>
<line x1="327.68" y1="281" x2="327.68" y2="287" stroke="rgba(0,0,0,0.16)" stroke-width="2.2"/>
<line x1="327.68" y1="281" x2="327.68" y2="287" stroke="#4a4a4a" stroke-width="0.8"/>
<rect x="325.48" y="284" width="4.4" height="6.25" fill="#e6ad1c"/>
<line x1="326.18" y1="281" x2="329.18" y2="281" stroke="#2a2a2a" stroke-width="1"/>
<line x1="326.18" y1="287" x2="329.18" y2="287" stroke="#2a2a2a" stroke-width="1"/>
<rect x="337.53" y="182.8" width="3.4" height="33.8" fill="#a6a6a6"/>
<line x1="339.23" y1="179.8" x2="339.23" y2="185.3" stroke="rgba(0,0,0,0.15)" stroke-width="2.2"/>
<line x1="339.23" y1="179.8" x2="339.23" y2="185.3" stroke="#444" stroke-width="0.9"/>
<line x1="337.83" y1="179.8" x2="340.63" y2="179.8" stroke="#444" stroke-width="1"/>
<line x1="337.83" y1="185.3" x2="340.63" y2="185.3" stroke="#444" stroke-width="1"/>
<line x1="337.48" y1="179.05" x2="340.98" y2="182.55" stroke="#111" stroke-width="1.1"/>
<line x1="337.48" y1="182.55" x2="340.98" y2="179.05" stroke="#111" stroke-width="1.1"/>
<line x1="336.83" y1="229.8" x2="336.83" y2="239.3" stroke="rgba(0,0,0,0.12)" stroke-width="2.2"/>
<line x1="336.83" y1="229.8" x2="336.83" y2="239.3" stroke="#6a6a6a" stroke-width="0.8"/>
<line x1="341.63" y1="224.8" x2="341.63" y2="238.5" stroke="rgba(0,0,0,0.12)" stroke-width="2.2"/>
<line x1="341.63" y1="224.8" x2="341.63" y2="238.5" stroke="#6a6a6a" stroke-width="0.8"/>
<rect x="335.03" y="234.9" width="3.6" height="8.25" fill="#22dd22"/>
<rect x="339.83" y="230.3" width="3.6" height="12.85" fill="#f42424"/>
<line x1="336.83" y1="229.8" x2="336.83" y2="239.3" stroke="rgba(0,0,0,0.35)" stroke-width="0.7"/>
<line x1="335.43" y1="229.8" x2="338.23" y2="229.8" stroke="#2a2a2a" stroke-width="1"/>
<line x1="335.43" y1="239.3" x2="338.23" y2="239.3" stroke="#2a2a2a" stroke-width="1"/>
<line x1="341.63" y1="224.8" x2="341.63" y2="238.5" stroke="rgba(0,0,0,0.35)" stroke-width="0.7"/>
<line x1="340.23" y1="224.8" x2="343.03" y2="224.8" stroke="#2a2a2a" stroke-width="1"/>
<line x1="340.23" y1="238.5" x2="343.03" y2="238.5" stroke="#2a2a2a" stroke-width="1"/>
<line x1="339.23" y1="281" x2="339.23" y2="287" stroke="rgba(0,0,0,0.16)" stroke-width="2.2"/>
<line x1="339.23" y1="281" x2="339.23" y2="287" stroke="#4a4a4a" stroke-width="0.8"/>
<rect x="337.03" y="284" width="4.4" height="6.25" fill="#e6ad1c"/>
<line x1="337.73" y1="281" x2="340.73" y2="281" stroke="#2a2a2a" stroke-width="1"/>
<line x1="337.73" y1="287" x2="340.73" y2="287" stroke="#2a2a2a" stroke-width="1"/>
<rect x="349.07" y="181.7" width="3.4" height="34.9" fill="#a6a6a6"/>
<line x1="350.77" y1="178.7" x2="350.77" y2="184.2" stroke="rgba(0,0,0,0.15)" stroke-width="2.2"/>
<line x1="350.77" y1="178.7" x2="350.77" y2="184.2" stroke="#444" stroke-width="0.9"/>
<line x1="349.37" y1="178.7" x2="352.17" y2="178.7" stroke="#444" stroke-width="1"/>
<line x1="349.37" y1="184.2" x2="352.17" y2="184.2" stroke="#444" stroke-width="1"/>
<line x1="349.02" y1="177.95" x2="352.52" y2="181.45" stroke="#111" stroke-width="1.1"/>
<line x1="349.02" y1="181.45" x2="352.52" y2="177.95" stroke="#111" stroke-width="1.1"/>
<line x1="348.37" y1="229.8" x2="348.37" y2="239.3" stroke="rgba(0,0,0,0.12)" stroke-width="2.2"/>
<line x1="348.37" y1="229.8" x2="348.37" y2="239.3" stroke="#6a6a6a" stroke-width="0.8"/>
<line x1="353.17" y1="224.8" x2="353.17" y2="238.5" stroke="rgba(0,0,0,0.12)" stroke-width="2.2"/>
<line x1="353.17" y1="224.8" x2="353.17" y2="238.5" stroke="#6a6a6a" stroke-width="0.8"/>
<rect x="346.57" y="234.9" width="3.6" height="8.25" fill="#22dd22"/>
<rect x="351.37" y="230.3" width="3.6" height="12.85" fill="#f42424"/>
<line x1="348.37" y1="229.8" x2="348.37" y2="239.3" stroke="rgba(0,0,0,0.35)" stroke-width="0.7"/>
<line x1="346.97" y1="229.8" x2="349.77" y2="229.8" stroke="#2a2a2a" stroke-width="1"/>
<line x1="346.97" y1="239.3" x2="349.77" y2="239.3" stroke="#2a2a2a" stroke-width="1"/>
<line x1="353.17" y1="224.8" x2="353.17" y2="238.5" stroke="rgba(0,0,0,0.35)" stroke-width="0.7"/>
<line x1="351.77" y1="224.8" x2="354.57" y2="224.8" stroke="#2a2a2a" stroke-width="1"/>
<line x1="351.77" y1="238.5" x2="354.57" y2="238.5" stroke="#2a2a2a" stroke-width="1"/>
<line x1="350.77" y1="281" x2="350.77" y2="287" stroke="rgba(0,0,0,0.16)" stroke-width="2.2"/>
<line x1="350.77" y1="281" x2="350.77" y2="287" stroke="#4a4a4a" stroke-width="0.8"/>
<rect x="348.57" y="284" width="4.4" height="6.25" fill="#e6ad1c"/>
<line x1="349.27" y1="281" x2="352.27" y2="281" stroke="#2a2a2a" stroke-width="1"/>
<line x1="349.27" y1="287" x2="352.27" y2="287" stroke="#2a2a2a" stroke-width="1"/>
<rect x="360.62" y="181.4" width="3.4" height="35.2" fill="#a6a6a6"/>
<line x1="362.32" y1="176.4" x2="362.32" y2="183.9" stroke="rgba(0,0,0,0.15)" stroke-width="2.2"/>
<line x1="362.32" y1="176.4" x2="362.32" y2="183.9" stroke="#444" stroke-width="0.9"/>
<line x1="360.92" y1="176.4" x2="363.72" y2="176.4" stroke="#444" stroke-width="1"/>
<line x1="360.92" y1="183.9" x2="363.72" y2="183.9" stroke="#444" stroke-width="1"/>
<line x1="360.57" y1="177.65" x2="364.07" y2="181.15" stroke="#111" stroke-width="1.1"/>
<line x1="360.57" y1="181.15" x2="364.07" y2="177.65" stroke="#111" stroke-width="1.1"/>
<line x1="359.92" y1="229.8" x2="359.92" y2="239.3" stroke="rgba(0,0,0,0.12)" stroke-width="2.2"/>
<line x1="359.92" y1="229.8" x2="359.92" y2="239.3" stroke="#6a6a6a" stroke-width="0.8"/>
<line x1="364.72" y1="224.8" x2="364.72" y2="238.5" stroke="rgba(0,0,0,0.12)" stroke-width="2.2"/>
<line x1="364.72" y1="224.8" x2="364.72" y2="238.5" stroke="#6a6a6a" stroke-width="0.8"/>
<rect x="358.12" y="234.9" width="3.6" height="8.25" fill="#22dd22"/>
<rect x="362.92" y="230.3" width="3.6" height="12.85" fill="#f42424"/>
<line x1="359.92" y1="229.8" x2="359.92" y2="239.3" stroke="rgba(0,0,0,0.35)" stroke-width="0.7"/>
<line x1="358.52" y1="229.8" x2="361.32" y2="229.8" stroke="#2a2a2a" stroke-width="1"/>
<line x1="358.52" y1="239.3" x2="361.32" y2="239.3" stroke="#2a2a2a" stroke-width="1"/>
<line x1="364.72" y1="224.8" x2="364.72" y2="238.5" stroke="rgba(0,0,0,0.35)" stroke-width="0.7"/>
<line x1="363.32" y1="224.8" x2="366.12" y2="224.8" stroke="#2a2a2a" stroke-width="1"/>
<line x1="363.32" y1="238.5" x2="366.12" y2="238.5" stroke="#2a2a2a" stroke-width="1"/>
<line x1="362.32" y1="281" x2="362.32" y2="287" stroke="rgba(0,0,0,0.16)" stroke-width="2.2"/>
<line x1="362.32" y1="281" x2="362.32" y2="287" stroke="#4a4a4a" stroke-width="0.8"/>
<rect x="360.12" y="284" width="4.4" height="6.25" fill="#e6ad1c"/>
<line x1="360.82" y1="281" x2="363.82" y2="281" stroke="#2a2a2a" stroke-width="1"/>
<line x1="360.82" y1="287" x2="363.82" y2="287" stroke="#2a2a2a" stroke-width="1"/>
<rect x="372.16" y="179.3" width="3.4" height="37.3" fill="#a6a6a6"/>
<line x1="373.86" y1="174.3" x2="373.86" y2="181.8" stroke="rgba(0,0,0,0.15)" stroke-width="2.2"/>
<line x1="373.86" y1="174.3" x2="373.86" y2="181.8" stroke="#444" stroke-width="0.9"/>
<line x1="372.46" y1="174.3" x2="375.26" y2="174.3" stroke="#444" stroke-width="1"/>
<line x1="372.46" y1="181.8" x2="375.26" y2="181.8" stroke="#444" stroke-width="1"/>
<line x1="372.11" y1="175.55" x2="375.61" y2="179.05" stroke="#111" stroke-width="1.1"/>
<line x1="372.11" y1="179.05" x2="375.61" y2="175.55" stroke="#111" stroke-width="1.1"/>
<line x1="371.46" y1="227.4" x2="371.46" y2="239.3" stroke="rgba(0,0,0,0.12)" stroke-width="2.2"/>
<line x1="371.46" y1="227.4" x2="371.46" y2="239.3" stroke="#6a6a6a" stroke-width="0.8"/>
<line x1="376.26" y1="221.1" x2="376.26" y2="238.5" stroke="rgba(0,0,0,0.12)" stroke-width="2.2"/>
<line x1="376.26" y1="221.1" x2="376.26" y2="238.5" stroke="#6a6a6a" stroke-width="0.8"/>
<rect x="369.66" y="234.9" width="3.6" height="8.25" fill="#22dd22"/>
<rect x="374.46" y="229.5" width="3.6" height="13.65" fill="#f42424"/>
<line x1="371.46" y1="227.4" x2="371.46" y2="239.3" stroke="rgba(0,0,0,0.35)" stroke-width="0.7"/>
<line x1="370.06" y1="227.4" x2="372.86" y2="227.4" stroke="#2a2a2a" stroke-width="1"/>
<line x1="370.06" y1="239.3" x2="372.86" y2="239.3" stroke="#2a2a2a" stroke-width="1"/>
<line x1="376.26" y1="221.1" x2="376.26" y2="238.5" stroke="rgba(0,0,0,0.35)" stroke-width="0.7"/>
<line x1="374.86" y1="221.1" x2="377.66" y2="221.1" stroke="#2a2a2a" stroke-width="1"/>
<line x1="374.86" y1="238.5" x2="377.66" y2="238.5" stroke="#2a2a2a" stroke-width="1"/>
<line x1="373.86" y1="281" x2="373.86" y2="287" stroke="rgba(0,0,0,0.16)" stroke-width="2.2"/>
<line x1="373.86" y1="281" x2="373.86" y2="287" stroke="#4a4a4a" stroke-width="0.8"/>
<rect x="371.66" y="284" width="4.4" height="6.25" fill="#e6ad1c"/>
<line x1="372.36" y1="281" x2="375.36" y2="281" stroke="#2a2a2a" stroke-width="1"/>
<line x1="372.36" y1="287" x2="375.36" y2="287" stroke="#2a2a2a" stroke-width="1"/>
<line x1="32" y1="171.4" x2="146.4" y2="171.4" stroke="#555" stroke-width="1" stroke-dasharray="2.5 0.5"/>
<line x1="32" y1="216.6" x2="146.4" y2="216.6" stroke="#555" stroke-width="1" stroke-dasharray="2.5 0.5"/>
<line x1="32" y1="262.65" x2="146.4" y2="262.65" stroke="#555" stroke-width="1" stroke-dasharray="2.5 0.5"/>
<line x1="32" y1="308.5" x2="146.4" y2="308.5" stroke="#555" stroke-width="1" stroke-dasharray="2.5 0.5"/>
<line x1="32" y1="171.4" x2="32" y2="308.5" stroke="#6a6a6a" stroke-width="1.3"/>
<line x1="146.4" y1="171.4" x2="146.4" y2="308.5" stroke="#6a6a6a" stroke-width="1.3"/>
<line x1="43.1" y1="308.5" x2="43.1" y2="309.8" stroke="#333" stroke-width="0.9"/>
<line x1="43.1" y1="171.4" x2="43.1" y2="172.6" stroke="#333" stroke-width="0.9"/>
<line x1="54.65" y1="308.5" x2="54.65" y2="309.8" stroke="#333" stroke-width="0.9"/>
<line x1="54.65" y1="171.4" x2="54.65" y2="172.6" stroke="#333" stroke-width="0.9"/>
<line x1="66.2" y1="308.5" x2="66.2" y2="309.8" stroke="#333" stroke-width="0.9"/>
<line x1="66.2" y1="171.4" x2="66.2" y2="172.6" stroke="#333" stroke-width="0.9"/>
<line x1="77.75" y1="308.5" x2="77.75" y2="309.8" stroke="#333" stroke-width="0.9"/>
<line x1="77.75" y1="171.4" x2="77.75" y2="172.6" stroke="#333" stroke-width="0.9"/>
<line x1="89.3" y1="308.5" x2="89.3" y2="309.8" stroke="#333" stroke-width="0.9"/>
<line x1="89.3" y1="171.4" x2="89.3" y2="172.6" stroke="#333" stroke-width="0.9"/>
<line x1="100.85" y1="308.5" x2="100.85" y2="309.8" stroke="#333" stroke-width="0.9"/>
<line x1="100.85" y1="171.4" x2="100.85" y2="172.6" stroke="#333" stroke-width="0.9"/>
<line x1="112.4" y1="308.5" x2="112.4" y2="309.8" stroke="#333" stroke-width="0.9"/>
<line x1="112.4" y1="171.4" x2="112.4" y2="172.6" stroke="#333" stroke-width="0.9"/>
<line x1="123.95" y1="308.5" x2="123.95" y2="309.8" stroke="#333" stroke-width="0.9"/>
<line x1="123.95" y1="171.4" x2="123.95" y2="172.6" stroke="#333" stroke-width="0.9"/>
<line x1="135.5" y1="308.5" x2="135.5" y2="309.8" stroke="#333" stroke-width="0.9"/>
<line x1="135.5" y1="171.4" x2="135.5" y2="172.6" stroke="#333" stroke-width="0.9"/>
<line x1="148.3" y1="171.4" x2="263.4" y2="171.4" stroke="#555" stroke-width="1" stroke-dasharray="2.5 0.5"/>
<line x1="148.3" y1="216.6" x2="263.4" y2="216.6" stroke="#555" stroke-width="1" stroke-dasharray="2.5 0.5"/>
<line x1="148.3" y1="262.65" x2="263.4" y2="262.65" stroke="#555" stroke-width="1" stroke-dasharray="2.5 0.5"/>
<line x1="148.3" y1="308.5" x2="263.4" y2="308.5" stroke="#555" stroke-width="1" stroke-dasharray="2.5 0.5"/>
<line x1="148.3" y1="171.4" x2="148.3" y2="308.5" stroke="#6a6a6a" stroke-width="1.3"/>
<line x1="263.4" y1="171.4" x2="263.4" y2="308.5" stroke="#6a6a6a" stroke-width="1.3"/>
<line x1="160.25" y1="308.5" x2="160.25" y2="309.8" stroke="#333" stroke-width="0.9"/>
<line x1="160.25" y1="171.4" x2="160.25" y2="172.6" stroke="#333" stroke-width="0.9"/>
<line x1="171.71" y1="308.5" x2="171.71" y2="309.8" stroke="#333" stroke-width="0.9"/>
<line x1="171.71" y1="171.4" x2="171.71" y2="172.6" stroke="#333" stroke-width="0.9"/>
<line x1="183.17" y1="308.5" x2="183.17" y2="309.8" stroke="#333" stroke-width="0.9"/>
<line x1="183.17" y1="171.4" x2="183.17" y2="172.6" stroke="#333" stroke-width="0.9"/>
<line x1="194.63" y1="308.5" x2="194.63" y2="309.8" stroke="#333" stroke-width="0.9"/>
<line x1="194.63" y1="171.4" x2="194.63" y2="172.6" stroke="#333" stroke-width="0.9"/>
<line x1="206.09" y1="308.5" x2="206.09" y2="309.8" stroke="#333" stroke-width="0.9"/>
<line x1="206.09" y1="171.4" x2="206.09" y2="172.6" stroke="#333" stroke-width="0.9"/>
<line x1="217.55" y1="308.5" x2="217.55" y2="309.8" stroke="#333" stroke-width="0.9"/>
<line x1="217.55" y1="171.4" x2="217.55" y2="172.6" stroke="#333" stroke-width="0.9"/>
<line x1="229.01" y1="308.5" x2="229.01" y2="309.8" stroke="#333" stroke-width="0.9"/>
<line x1="229.01" y1="171.4" x2="229.01" y2="172.6" stroke="#333" stroke-width="0.9"/>
<line x1="240.47" y1="308.5" x2="240.47" y2="309.8" stroke="#333" stroke-width="0.9"/>
<line x1="240.47" y1="171.4" x2="240.47" y2="172.6" stroke="#333" stroke-width="0.9"/>
<line x1="251.93" y1="308.5" x2="251.93" y2="309.8" stroke="#333" stroke-width="0.9"/>
<line x1="251.93" y1="171.4" x2="251.93" y2="172.6" stroke="#333" stroke-width="0.9"/>
<line x1="265.5" y1="171.4" x2="379.9" y2="171.4" stroke="#555" stroke-width="1" stroke-dasharray="2.5 0.5"/>
<line x1="265.5" y1="216.6" x2="379.9" y2="216.6" stroke="#555" stroke-width="1" stroke-dasharray="2.5 0.5"/>
<line x1="265.5" y1="262.65" x2="379.9" y2="262.65" stroke="#555" stroke-width="1" stroke-dasharray="2.5 0.5"/>
<line x1="265.5" y1="308.5" x2="379.9" y2="308.5" stroke="#555" stroke-width="1" stroke-dasharray="2.5 0.5"/>
<line x1="265.5" y1="171.4" x2="265.5" y2="308.5" stroke="#6a6a6a" stroke-width="1.3"/>
<line x1="379.9" y1="171.4" x2="379.9" y2="308.5" stroke="#6a6a6a" stroke-width="1.3"/>
<line x1="276.45" y1="308.5" x2="276.45" y2="309.8" stroke="#333" stroke-width="0.9"/>
<line x1="276.45" y1="171.4" x2="276.45" y2="172.6" stroke="#333" stroke-width="0.9"/>
<line x1="287.95" y1="308.5" x2="287.95" y2="309.8" stroke="#333" stroke-width="0.9"/>
<line x1="287.95" y1="171.4" x2="287.95" y2="172.6" stroke="#333" stroke-width="0.9"/>
<line x1="299.45" y1="308.5" x2="299.45" y2="309.8" stroke="#333" stroke-width="0.9"/>
<line x1="299.45" y1="171.4" x2="299.45" y2="172.6" stroke="#333" stroke-width="0.9"/>
<line x1="310.95" y1="308.5" x2="310.95" y2="309.8" stroke="#333" stroke-width="0.9"/>
<line x1="310.95" y1="171.4" x2="310.95" y2="172.6" stroke="#333" stroke-width="0.9"/>
<line x1="322.45" y1="308.5" x2="322.45" y2="309.8" stroke="#333" stroke-width="0.9"/>
<line x1="322.45" y1="171.4" x2="322.45" y2="172.6" stroke="#333" stroke-width="0.9"/>
<line x1="333.95" y1="308.5" x2="333.95" y2="309.8" stroke="#333" stroke-width="0.9"/>
<line x1="333.95" y1="171.4" x2="333.95" y2="172.6" stroke="#333" stroke-width="0.9"/>
<line x1="345.45" y1="308.5" x2="345.45" y2="309.8" stroke="#333" stroke-width="0.9"/>
<line x1="345.45" y1="171.4" x2="345.45" y2="172.6" stroke="#333" stroke-width="0.9"/>
<line x1="356.95" y1="308.5" x2="356.95" y2="309.8" stroke="#333" stroke-width="0.9"/>
<line x1="356.95" y1="171.4" x2="356.95" y2="172.6" stroke="#333" stroke-width="0.9"/>
<line x1="368.45" y1="308.5" x2="368.45" y2="309.8" stroke="#333" stroke-width="0.9"/>
<line x1="368.45" y1="171.4" x2="368.45" y2="172.6" stroke="#333" stroke-width="0.9"/>
<rect x="146.9" y="171.4" width="0.9" height="137.1" fill="#d4d4d4"/>
<rect x="263.9" y="171.4" width="1.1" height="137.1" fill="#d4d4d4"/>
<line x1="30.2" y1="171.04" x2="32" y2="171.04" stroke="#333" stroke-width="1"/>
<line x1="379.9" y1="171.04" x2="381.7" y2="171.04" stroke="#333" stroke-width="1"/>
<line x1="30.2" y1="177.13" x2="32" y2="177.13" stroke="#333" stroke-width="1"/>
<line x1="379.9" y1="177.13" x2="381.7" y2="177.13" stroke="#333" stroke-width="1"/>
<line x1="30.2" y1="183.21" x2="32" y2="183.21" stroke="#333" stroke-width="1"/>
<line x1="379.9" y1="183.21" x2="381.7" y2="183.21" stroke="#333" stroke-width="1"/>
<line x1="30.2" y1="189.3" x2="32" y2="189.3" stroke="#333" stroke-width="1"/>
<line x1="379.9" y1="189.3" x2="381.7" y2="189.3" stroke="#333" stroke-width="1"/>
<line x1="30.2" y1="198.6" x2="32" y2="198.6" stroke="#333" stroke-width="1"/>
<line x1="379.9" y1="198.6" x2="381.7" y2="198.6" stroke="#333" stroke-width="1"/>
<line x1="30.2" y1="207.9" x2="32" y2="207.9" stroke="#333" stroke-width="1"/>
<line x1="379.9" y1="207.9" x2="381.7" y2="207.9" stroke="#333" stroke-width="1"/>
<line x1="30.2" y1="223.65" x2="32" y2="223.65" stroke="#333" stroke-width="1"/>
<line x1="379.9" y1="223.65" x2="381.7" y2="223.65" stroke="#333" stroke-width="1"/>
<line x1="30.2" y1="230.15" x2="32" y2="230.15" stroke="#333" stroke-width="1"/>
<line x1="379.9" y1="230.15" x2="381.7" y2="230.15" stroke="#333" stroke-width="1"/>
<line x1="30.2" y1="236.65" x2="32" y2="236.65" stroke="#333" stroke-width="1"/>
<line x1="379.9" y1="236.65" x2="381.7" y2="236.65" stroke="#333" stroke-width="1"/>
<line x1="30.2" y1="243.15" x2="32" y2="243.15" stroke="#333" stroke-width="1"/>
<line x1="379.9" y1="243.15" x2="381.7" y2="243.15" stroke="#333" stroke-width="1"/>
<line x1="30.2" y1="249.65" x2="32" y2="249.65" stroke="#333" stroke-width="1"/>
<line x1="379.9" y1="249.65" x2="381.7" y2="249.65" stroke="#333" stroke-width="1"/>
<line x1="30.2" y1="256.15" x2="32" y2="256.15" stroke="#333" stroke-width="1"/>
<line x1="379.9" y1="256.15" x2="381.7" y2="256.15" stroke="#333" stroke-width="1"/>
<line x1="30.2" y1="272.05" x2="32" y2="272.05" stroke="#333" stroke-width="1"/>
<line x1="379.9" y1="272.05" x2="381.7" y2="272.05" stroke="#333" stroke-width="1"/>
<line x1="30.2" y1="281.15" x2="32" y2="281.15" stroke="#333" stroke-width="1"/>
<line x1="379.9" y1="281.15" x2="381.7" y2="281.15" stroke="#333" stroke-width="1"/>
<line x1="30.2" y1="290.25" x2="32" y2="290.25" stroke="#333" stroke-width="1"/>
<line x1="379.9" y1="290.25" x2="381.7" y2="290.25" stroke="#333" stroke-width="1"/>
<line x1="30.2" y1="299.35" x2="32" y2="299.35" stroke="#333" stroke-width="1"/>
<line x1="379.9" y1="299.35" x2="381.7" y2="299.35" stroke="#333" stroke-width="1"/>
<text transform="translate(29.6 173.34) scale(0.86 1)" x="0" y="0" font-size="6.5" text-anchor="end" font-weight="normal" fill="#1a1a1a">100</text>
<text transform="translate(382.6 173.34) scale(0.86 1)" x="0" y="0" font-size="6.5" text-anchor="start" font-weight="normal" fill="#1a1a1a">100</text>
<text transform="translate(29.6 179.43) scale(0.86 1)" x="0" y="0" font-size="6.5" text-anchor="end" font-weight="normal" fill="#1a1a1a">70</text>
<text transform="translate(382.6 179.43) scale(0.86 1)" x="0" y="0" font-size="6.5" text-anchor="start" font-weight="normal" fill="#1a1a1a">70</text>
<text transform="translate(29.6 185.51) scale(0.86 1)" x="0" y="0" font-size="6.5" text-anchor="end" font-weight="normal" fill="#1a1a1a">40</text>
<text transform="translate(382.6 185.51) scale(0.86 1)" x="0" y="0" font-size="6.5" text-anchor="start" font-weight="normal" fill="#1a1a1a">40</text>
<text transform="translate(29.6 191.6) scale(0.86 1)" x="0" y="0" font-size="6.5" text-anchor="end" font-weight="normal" fill="#1a1a1a">10</text>
<text transform="translate(382.6 191.6) scale(0.86 1)" x="0" y="0" font-size="6.5" text-anchor="start" font-weight="normal" fill="#1a1a1a">10</text>
<text transform="translate(29.6 200.9) scale(0.86 1)" x="0" y="0" font-size="6.5" text-anchor="end" font-weight="normal" fill="#1a1a1a">1</text>
<text transform="translate(382.6 200.9) scale(0.86 1)" x="0" y="0" font-size="6.5" text-anchor="start" font-weight="normal" fill="#1a1a1a">1</text>
<text transform="translate(29.6 210.2) scale(0.86 1)" x="0" y="0" font-size="6.5" text-anchor="end" font-weight="normal" fill="#1a1a1a">0.1</text>
<text transform="translate(382.6 210.2) scale(0.86 1)" x="0" y="0" font-size="6.5" text-anchor="start" font-weight="normal" fill="#1a1a1a">0.1</text>
<text transform="translate(29.6 225.95) scale(0.86 1)" x="0" y="0" font-size="6.5" text-anchor="end" font-weight="normal" fill="#1a1a1a">15</text>
<text transform="translate(382.6 225.95) scale(0.86 1)" x="0" y="0" font-size="6.5" text-anchor="start" font-weight="normal" fill="#1a1a1a">15</text>
<text transform="translate(29.6 245.45) scale(0.86 1)" x="0" y="0" font-size="6.5" text-anchor="end" font-weight="normal" fill="#1a1a1a">0</text>
<text transform="translate(382.6 245.45) scale(0.86 1)" x="0" y="0" font-size="6.5" text-anchor="start" font-weight="normal" fill="#1a1a1a">0</text>
<text transform="translate(29.6 258.45) scale(0.86 1)" x="0" y="0" font-size="6.5" text-anchor="end" font-weight="normal" fill="#1a1a1a">−10</text>
<text transform="translate(382.6 258.45) scale(0.86 1)" x="0" y="0" font-size="6.5" text-anchor="start" font-weight="normal" fill="#1a1a1a">−10</text>
<text transform="translate(29.6 274.35) scale(0.86 1)" x="0" y="0" font-size="6.5" text-anchor="end" font-weight="normal" fill="#1a1a1a">10</text>
<text transform="translate(382.6 274.35) scale(0.86 1)" x="0" y="0" font-size="6.5" text-anchor="start" font-weight="normal" fill="#1a1a1a">10</text>
<text transform="translate(29.6 292.55) scale(0.86 1)" x="0" y="0" font-size="6.5" text-anchor="end" font-weight="normal" fill="#1a1a1a">0</text>
<text transform="translate(382.6 292.55) scale(0.86 1)" x="0" y="0" font-size="6.5" text-anchor="start" font-weight="normal" fill="#1a1a1a">0</text>
<text transform="translate(29.6 301.65) scale(0.86 1)" x="0" y="0" font-size="6.5" text-anchor="end" font-weight="normal" fill="#1a1a1a">−5</text>
<text transform="translate(382.6 301.65) scale(0.86 1)" x="0" y="0" font-size="6.5" text-anchor="start" font-weight="normal" fill="#1a1a1a">−5</text>
<text transform="translate(15.9 195.6) scale(0.93 1)" x="0" y="0" font-size="6.8" text-anchor="middle" font-weight="normal" fill="#1a1a1a">[<tspan font-size="5.0" font-weight="bold" fill="#222" dx="0.6">mm</tspan><tspan dx="0.6">]</tspan></text>
<text transform="translate(16 242.2) scale(0.85 1)" x="0" y="0" font-size="6.8" text-anchor="middle" font-weight="normal" fill="#1a1a1a">[<tspan font-size="5.4" font-weight="bold" fill="#000" dx="0.3">%</tspan><tspan dx="0.3">]</tspan></text>
<text transform="translate(16.5 287.8) scale(0.85 1)" x="0" y="0" font-size="6.8" text-anchor="middle" font-weight="normal" fill="#1a1a1a">[<tspan font-size="5.4" font-weight="bold" fill="#000" dx="0.3">%</tspan><tspan dx="0.3">]</tspan></text>
<text transform="translate(395.9 195.6) scale(0.93 1)" x="0" y="0" font-size="6.8" text-anchor="middle" font-weight="normal" fill="#1a1a1a">[<tspan font-size="5.0" font-weight="bold" fill="#222" dx="0.6">mm</tspan><tspan dx="0.6">]</tspan></text>
<text transform="translate(396.2 241.9) scale(0.85 1)" x="0" y="0" font-size="6.8" text-anchor="middle" font-weight="normal" fill="#1a1a1a">[<tspan font-size="5.4" font-weight="bold" fill="#000" dx="0.3">%</tspan><tspan dx="0.3">]</tspan></text>
<text transform="translate(396.2 287.4) scale(0.85 1)" x="0" y="0" font-size="6.8" text-anchor="middle" font-weight="normal" fill="#1a1a1a">[<tspan font-size="5.4" font-weight="bold" fill="#000" dx="0.3">%</tspan><tspan dx="0.3">]</tspan></text>
<text x="6.3" y="193.75" font-size="6.8" text-anchor="middle" font-weight="bold" fill="#000" textLength="12.6" lengthAdjust="spacingAndGlyphs" transform="rotate(-90 6.3 193.75)">HIST</text>
<text x="6.3" y="239.6" font-size="6.8" text-anchor="middle" font-weight="bold" fill="#000" textLength="30.4" lengthAdjust="spacingAndGlyphs" transform="rotate(-90 6.3 239.6)">Plus−HIST</text>
<text x="6.4" y="285.6" font-size="6.8" text-anchor="middle" font-weight="bold" fill="#000" textLength="37.2" lengthAdjust="spacingAndGlyphs" transform="rotate(-90 6.4 285.6)">2.0°C−1.5°C</text>
<text transform="translate(32 316.3) scale(0.86 1)" x="0" y="0" font-size="6.6" text-anchor="middle" font-weight="normal" fill="#000">0</text>
<text transform="translate(54.65 316.3) scale(0.86 1)" x="0" y="0" font-size="6.6" text-anchor="middle" font-weight="normal" fill="#000">20</text>
<text transform="translate(77.75 316.3) scale(0.86 1)" x="0" y="0" font-size="6.6" text-anchor="middle" font-weight="normal" fill="#000">40</text>
<text transform="translate(100.85 316.3) scale(0.86 1)" x="0" y="0" font-size="6.6" text-anchor="middle" font-weight="normal" fill="#000">60</text>
<text transform="translate(123.95 316.3) scale(0.86 1)" x="0" y="0" font-size="6.6" text-anchor="middle" font-weight="normal" fill="#000">80</text>
<text transform="translate(135.5 316.3) scale(0.86 1)" x="0" y="0" font-size="6.6" text-anchor="middle" font-weight="normal" fill="#000">90</text>
<text transform="translate(160.25 316.3) scale(0.86 1)" x="0" y="0" font-size="6.6" text-anchor="middle" font-weight="normal" fill="#000">91</text>
<text transform="translate(183.17 316.3) scale(0.86 1)" x="0" y="0" font-size="6.6" text-anchor="middle" font-weight="normal" fill="#000">93</text>
<text transform="translate(206.09 316.3) scale(0.86 1)" x="0" y="0" font-size="6.6" text-anchor="middle" font-weight="normal" fill="#000">95</text>
<text transform="translate(229.01 316.3) scale(0.86 1)" x="0" y="0" font-size="6.6" text-anchor="middle" font-weight="normal" fill="#000">97</text>
<text transform="translate(251.93 316.3) scale(0.86 1)" x="0" y="0" font-size="6.6" text-anchor="middle" font-weight="normal" fill="#000">99</text>
<text transform="translate(276.45 316.3) scale(0.86 1)" x="0" y="0" font-size="6.6" text-anchor="middle" font-weight="normal" fill="#000">99.1</text>
<text transform="translate(299.45 316.3) scale(0.86 1)" x="0" y="0" font-size="6.6" text-anchor="middle" font-weight="normal" fill="#000">99.3</text>
<text transform="translate(322.45 316.3) scale(0.86 1)" x="0" y="0" font-size="6.6" text-anchor="middle" font-weight="normal" fill="#000">99.5</text>
<text transform="translate(345.45 316.3) scale(0.86 1)" x="0" y="0" font-size="6.6" text-anchor="middle" font-weight="normal" fill="#000">99.7</text>
<text transform="translate(368.45 316.3) scale(0.86 1)" x="0" y="0" font-size="6.6" text-anchor="middle" font-weight="normal" fill="#000">99.9</text>
</svg>
</body></html>
